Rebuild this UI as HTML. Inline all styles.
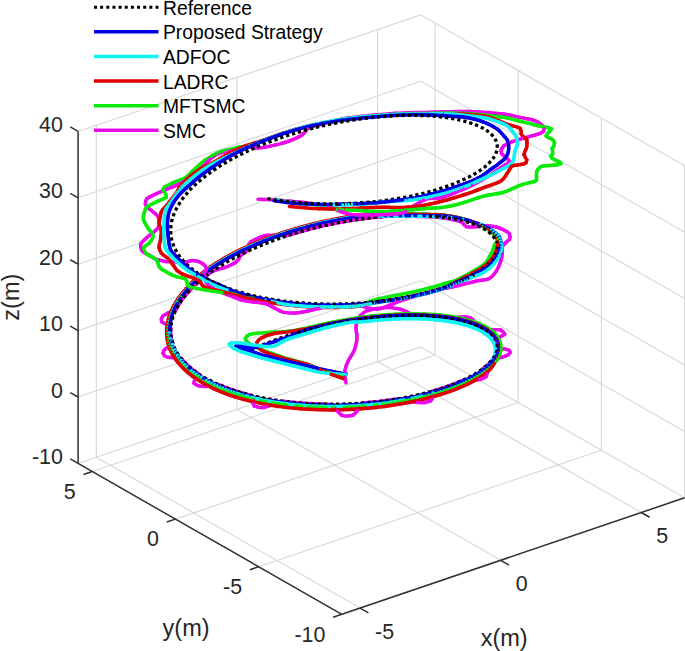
<!DOCTYPE html>
<html><head><meta charset="utf-8"><style>
html,body{margin:0;padding:0;background:#fff;}
svg{display:block;font-family:"Liberation Sans",sans-serif;}
</style></head><body>
<svg width="685" height="651" viewBox="0 0 685 651">
<rect width="685" height="651" fill="#fff"/>
<g shape-rendering="auto"><line x1="360.10" y1="608.10" x2="96.36" y2="457.21" stroke="#d8d8d8" stroke-width="1.15"/><line x1="96.36" y1="457.21" x2="96.36" y2="125.21" stroke="#d8d8d8" stroke-width="1.15"/><line x1="500.70" y1="560.30" x2="236.96" y2="409.41" stroke="#d8d8d8" stroke-width="1.15"/><line x1="236.96" y1="409.41" x2="236.96" y2="77.41" stroke="#d8d8d8" stroke-width="1.15"/><line x1="641.30" y1="512.50" x2="377.56" y2="361.61" stroke="#d8d8d8" stroke-width="1.15"/><line x1="377.56" y1="361.61" x2="377.56" y2="29.61" stroke="#d8d8d8" stroke-width="1.15"/><line x1="341.82" y1="614.31" x2="684.60" y2="497.78" stroke="#d8d8d8" stroke-width="1.15"/><line x1="684.60" y1="497.78" x2="684.60" y2="165.78" stroke="#d8d8d8" stroke-width="1.15"/><line x1="258.62" y1="566.71" x2="601.40" y2="450.18" stroke="#d8d8d8" stroke-width="1.15"/><line x1="601.40" y1="450.18" x2="601.40" y2="118.18" stroke="#d8d8d8" stroke-width="1.15"/><line x1="175.42" y1="519.11" x2="518.20" y2="402.58" stroke="#d8d8d8" stroke-width="1.15"/><line x1="518.20" y1="402.58" x2="518.20" y2="70.58" stroke="#d8d8d8" stroke-width="1.15"/><line x1="92.22" y1="471.51" x2="435.00" y2="354.98" stroke="#d8d8d8" stroke-width="1.15"/><line x1="435.00" y1="354.98" x2="435.00" y2="22.98" stroke="#d8d8d8" stroke-width="1.15"/><line x1="78.08" y1="463.42" x2="420.86" y2="346.89" stroke="#d8d8d8" stroke-width="1.15"/><line x1="684.60" y1="497.78" x2="420.86" y2="346.89" stroke="#d8d8d8" stroke-width="1.15"/><line x1="78.08" y1="397.02" x2="420.86" y2="280.49" stroke="#d8d8d8" stroke-width="1.15"/><line x1="684.60" y1="431.38" x2="420.86" y2="280.49" stroke="#d8d8d8" stroke-width="1.15"/><line x1="78.08" y1="330.62" x2="420.86" y2="214.09" stroke="#d8d8d8" stroke-width="1.15"/><line x1="684.60" y1="364.98" x2="420.86" y2="214.09" stroke="#d8d8d8" stroke-width="1.15"/><line x1="78.08" y1="264.22" x2="420.86" y2="147.69" stroke="#d8d8d8" stroke-width="1.15"/><line x1="684.60" y1="298.58" x2="420.86" y2="147.69" stroke="#d8d8d8" stroke-width="1.15"/><line x1="78.08" y1="197.82" x2="420.86" y2="81.29" stroke="#d8d8d8" stroke-width="1.15"/><line x1="684.60" y1="232.18" x2="420.86" y2="81.29" stroke="#d8d8d8" stroke-width="1.15"/><line x1="78.08" y1="131.42" x2="420.86" y2="14.89" stroke="#d8d8d8" stroke-width="1.15"/><line x1="684.60" y1="165.78" x2="420.86" y2="14.89" stroke="#d8d8d8" stroke-width="1.15"/></g>
<g><line x1="78.08" y1="463.42" x2="78.08" y2="131.42" stroke="#303030" stroke-width="1.5"/><line x1="341.82" y1="614.31" x2="78.08" y2="463.42" stroke="#303030" stroke-width="1.5"/><line x1="341.82" y1="614.31" x2="684.60" y2="497.78" stroke="#303030" stroke-width="1.5"/><line x1="78.08" y1="463.42" x2="70.26" y2="458.95" stroke="#303030" stroke-width="1.5"/><line x1="78.08" y1="397.02" x2="70.26" y2="392.55" stroke="#303030" stroke-width="1.5"/><line x1="78.08" y1="330.62" x2="70.26" y2="326.15" stroke="#303030" stroke-width="1.5"/><line x1="78.08" y1="264.22" x2="70.26" y2="259.75" stroke="#303030" stroke-width="1.5"/><line x1="78.08" y1="197.82" x2="70.26" y2="193.35" stroke="#303030" stroke-width="1.5"/><line x1="78.08" y1="131.42" x2="70.26" y2="126.95" stroke="#303030" stroke-width="1.5"/><line x1="341.82" y1="614.31" x2="333.10" y2="617.28" stroke="#303030" stroke-width="1.5"/><line x1="258.62" y1="566.71" x2="249.90" y2="569.68" stroke="#303030" stroke-width="1.5"/><line x1="175.42" y1="519.11" x2="166.70" y2="522.08" stroke="#303030" stroke-width="1.5"/><line x1="92.22" y1="471.51" x2="83.50" y2="474.48" stroke="#303030" stroke-width="1.5"/><line x1="360.10" y1="608.10" x2="368.42" y2="612.86" stroke="#303030" stroke-width="1.5"/><line x1="500.70" y1="560.30" x2="509.02" y2="565.06" stroke="#303030" stroke-width="1.5"/><line x1="641.30" y1="512.50" x2="649.62" y2="517.26" stroke="#303030" stroke-width="1.5"/></g>
<g fill="#262626"><text x="62.80" y="464.08" font-size="21.4" text-anchor="end">-10</text><text x="62.80" y="397.68" font-size="21.4" text-anchor="end">0</text><text x="62.80" y="331.28" font-size="21.4" text-anchor="end">10</text><text x="62.80" y="264.88" font-size="21.4" text-anchor="end">20</text><text x="62.80" y="198.48" font-size="21.4" text-anchor="end">30</text><text x="62.80" y="132.08" font-size="21.4" text-anchor="end">40</text><text x="325.32" y="641.68" font-size="21.4" text-anchor="end">-10</text><text x="242.12" y="594.08" font-size="21.4" text-anchor="end">-5</text><text x="158.92" y="546.48" font-size="21.4" text-anchor="end">0</text><text x="75.72" y="498.88" font-size="21.4" text-anchor="end">5</text><text x="375.10" y="638.96" font-size="21.4" text-anchor="start">-5</text><text x="515.70" y="591.16" font-size="21.4" text-anchor="start">0</text><text x="656.30" y="543.36" font-size="21.4" text-anchor="start">5</text><text x="480.70" y="645.80" font-size="23.5" text-anchor="start">x(m)</text><text x="162.60" y="636.30" font-size="23.5" text-anchor="start">y(m)</text><text transform="translate(18.6,297.2) rotate(-90)" font-size="23.5" text-anchor="middle">z(m)</text></g>
<g><path d="M371.2 309.6L374.1 308.8L377.1 308.5M368.3 310.5L371.2 309.6M377.1 308.5L380.1 308.2L383.1 307.8L386.0 307.5M365.5 311.4L368.3 310.5M386.0 307.5L389.0 307.4M363.1 313.1L365.5 311.4M389.0 307.4L392.0 307.8M360.8 315.0L363.1 313.1M392.0 307.8L395.0 308.3L397.9 308.7M358.8 317.2L360.8 315.0M397.9 308.7L400.8 309.3L403.6 310.4M357.5 319.9L358.8 317.2M403.6 310.4L406.4 311.5M356.4 322.7L357.5 319.9M406.4 311.5L409.0 313.1" stroke="#eb0aeb" stroke-width="3.5" stroke-linecap="round" fill="none"/><path d="M352.9 318.5L355.9 318.1L358.8 317.6L361.8 317.2L364.8 316.8L367.8 316.5L370.8 316.1L373.7 315.8L376.7 315.5M338.1 321.0L341.1 320.5L344.0 319.9L347.0 319.4L349.9 319.0L352.9 318.5M376.7 315.5L379.7 315.3L382.7 315.0L385.7 314.8L388.7 314.6M332.2 322.2L335.2 321.6L338.1 321.0M388.7 314.6L391.7 314.4L394.7 314.2" stroke="#0aeb0a" stroke-width="3.5" stroke-linecap="round" fill="none"/><path d="M356.2 325.7L356.4 322.7" stroke="#eb0aeb" stroke-width="3.5" stroke-linecap="round" fill="none"/><path d="M326.3 323.4L329.3 322.8L332.2 322.2M394.7 314.2L397.7 314.1L400.7 314.0" stroke="#0aeb0a" stroke-width="3.5" stroke-linecap="round" fill="none"/><path d="M343.2 321.2L346.2 320.6L349.1 320.1L352.1 319.7L355.0 319.2L358.0 318.8L361.0 318.4L364.0 318.0L366.9 317.6L369.9 317.3L372.9 316.9L375.9 316.6L378.9 316.4L381.9 316.1" stroke="#e00000" stroke-width="3.5" stroke-linecap="round" fill="none"/><path d="M409.0 313.1L411.3 314.9" stroke="#eb0aeb" stroke-width="3.5" stroke-linecap="round" fill="none"/><path d="M320.5 324.7L323.4 324.0L326.3 323.4M400.7 314.0L403.7 313.9L406.7 313.8" stroke="#0aeb0a" stroke-width="3.5" stroke-linecap="round" fill="none"/><path d="M334.3 322.8L337.3 322.3L340.2 321.7L343.2 321.2M381.9 316.1L384.9 315.9L387.9 315.6L390.9 315.4" stroke="#e00000" stroke-width="3.5" stroke-linecap="round" fill="none"/><path d="M314.6 326.1L317.6 325.4L320.5 324.7M406.7 313.8L409.7 313.8" stroke="#0aeb0a" stroke-width="3.5" stroke-linecap="round" fill="none"/><path d="M328.5 324.0L331.4 323.4L334.3 322.8M390.9 315.4L393.9 315.3L396.9 315.1" stroke="#e00000" stroke-width="3.5" stroke-linecap="round" fill="none"/><path d="M346.1 321.0L349.1 320.5L352.1 320.1L355.0 319.6L358.0 319.2L361.0 318.8L363.9 318.4L366.9 318.0L369.9 317.7L372.9 317.3L375.9 317.0L378.8 316.7" stroke="#0000e6" stroke-width="3.5" stroke-linecap="round" fill="none"/><path d="M308.8 327.4L311.7 326.8L314.6 326.1M409.7 313.8L412.7 313.8" stroke="#0aeb0a" stroke-width="3.5" stroke-linecap="round" fill="none"/><path d="M322.6 325.3L325.5 324.7L328.5 324.0M396.9 315.1L399.9 315.0L402.9 314.9" stroke="#e00000" stroke-width="3.5" stroke-linecap="round" fill="none"/><path d="M337.3 322.6L340.2 322.1L343.2 321.5L346.1 321.0M378.8 316.7L381.8 316.5L384.8 316.2L387.8 316.0" stroke="#0000e6" stroke-width="3.5" stroke-linecap="round" fill="none"/><path d="M411.3 314.9L414.2 315.4" stroke="#eb0aeb" stroke-width="3.5" stroke-linecap="round" fill="none"/><path d="M302.9 328.7L305.9 328.1L308.8 327.4M412.7 313.8L415.7 313.8L418.7 313.9" stroke="#0aeb0a" stroke-width="3.5" stroke-linecap="round" fill="none"/><path d="M316.7 326.6L319.7 325.9L322.6 325.3M402.9 314.9L405.9 314.9L408.9 314.8" stroke="#e00000" stroke-width="3.5" stroke-linecap="round" fill="none"/><path d="M328.5 324.4L331.4 323.8L334.3 323.2L337.3 322.6M387.8 316.0L390.8 315.8L393.8 315.7L396.8 315.5" stroke="#0000e6" stroke-width="3.5" stroke-linecap="round" fill="none"/><path d="M351.7 320.5L355.0 320.0M357.8 319.6L361.1 319.1M364.0 318.7L367.2 318.3M370.1 318.0L373.4 317.6" stroke="#000" stroke-width="3.3" fill="none"/><path d="M355.9 328.6L356.2 325.7" stroke="#eb0aeb" stroke-width="3.5" stroke-linecap="round" fill="none"/><path d="M297.0 329.9L300.0 329.3L302.9 328.7M418.7 313.9L421.7 313.9" stroke="#0aeb0a" stroke-width="3.5" stroke-linecap="round" fill="none"/><path d="M310.9 327.9L313.8 327.3L316.7 326.6M408.9 314.8L411.9 314.8" stroke="#e00000" stroke-width="3.5" stroke-linecap="round" fill="none"/><path d="M347.4 322.8L350.4 322.2L353.4 322.1" stroke="#10f4f4" stroke-width="3.5" stroke-linecap="round" fill="none"/><path d="M322.6 325.7L325.5 325.1L328.5 324.4M396.8 315.5L399.8 315.4" stroke="#0000e6" stroke-width="3.5" stroke-linecap="round" fill="none"/><path d="M339.5 322.6L342.7 322.0M345.6 321.5L348.8 321.0M376.3 317.4L379.6 317.1M382.5 316.8L385.8 316.6" stroke="#000" stroke-width="3.3" fill="none"/><path d="M414.2 315.4L417.2 315.5" stroke="#eb0aeb" stroke-width="3.5" stroke-linecap="round" fill="none"/><path d="M288.2 331.3L291.1 331.0L294.1 330.5L297.0 329.9M421.7 313.9L424.7 314.1" stroke="#0aeb0a" stroke-width="3.5" stroke-linecap="round" fill="none"/><path d="M302.0 329.6L305.0 329.1L307.9 328.5L310.9 327.9M411.9 314.8L414.9 314.8" stroke="#e00000" stroke-width="3.5" stroke-linecap="round" fill="none"/><path d="M344.5 323.4L347.4 322.8M353.4 322.1L356.4 322.1L359.4 322.0" stroke="#10f4f4" stroke-width="3.5" stroke-linecap="round" fill="none"/><path d="M316.8 327.1L319.7 326.4L322.6 325.7M399.8 315.4L402.8 315.3L405.8 315.3" stroke="#0000e6" stroke-width="3.5" stroke-linecap="round" fill="none"/><path d="M333.4 323.8L336.6 323.2M388.7 316.4L391.9 316.2" stroke="#000" stroke-width="3.3" fill="none"/><path d="M417.2 315.5L420.2 315.6" stroke="#eb0aeb" stroke-width="3.5" stroke-linecap="round" fill="none"/><path d="M264.2 332.7L267.2 332.5L270.2 332.3L273.2 332.1L276.2 332.0L279.2 331.9L282.2 331.7L285.2 331.6L288.2 331.3M424.7 314.1L427.7 314.2" stroke="#0aeb0a" stroke-width="3.5" stroke-linecap="round" fill="none"/><path d="M290.2 331.5L293.1 331.1L296.1 330.6L299.1 330.1L302.0 329.6M414.9 314.8L417.9 314.9" stroke="#e00000" stroke-width="3.5" stroke-linecap="round" fill="none"/><path d="M341.6 324.1L344.5 323.4M359.4 322.0L362.4 321.8L365.4 321.6" stroke="#10f4f4" stroke-width="3.5" stroke-linecap="round" fill="none"/><path d="M313.8 327.8L316.8 327.1M405.8 315.3L408.8 315.2" stroke="#0000e6" stroke-width="3.5" stroke-linecap="round" fill="none"/><path d="M327.3 325.1L330.6 324.4M394.8 316.0L398.1 315.9" stroke="#000" stroke-width="3.3" fill="none"/><path d="M420.2 315.6L423.2 315.8" stroke="#eb0aeb" stroke-width="3.5" stroke-linecap="round" fill="none"/><path d="M252.3 333.8L255.2 333.4L258.2 333.1L261.2 332.9L264.2 332.7M427.7 314.2L430.7 314.4" stroke="#0aeb0a" stroke-width="3.5" stroke-linecap="round" fill="none"/><path d="M281.2 332.6L284.2 332.2L287.2 331.9L290.2 331.5M417.9 314.9L420.9 315.0" stroke="#e00000" stroke-width="3.5" stroke-linecap="round" fill="none"/><path d="M338.6 324.7L341.6 324.1M365.4 321.6L368.3 321.3L371.3 321.0L374.3 320.6L377.3 320.3L380.3 320.1L383.3 319.8" stroke="#10f4f4" stroke-width="3.5" stroke-linecap="round" fill="none"/><path d="M310.9 328.6L313.8 327.8M408.8 315.2L411.8 315.2L414.8 315.2" stroke="#0000e6" stroke-width="3.5" stroke-linecap="round" fill="none"/><path d="M321.3 326.4L324.5 325.7M401.0 315.8L404.3 315.7" stroke="#000" stroke-width="3.3" fill="none"/><path d="M356.3 331.6L355.9 328.6M423.2 315.8L426.2 316.0" stroke="#eb0aeb" stroke-width="3.5" stroke-linecap="round" fill="none"/><path d="M249.4 334.7L252.3 333.8" stroke="#0aeb0a" stroke-width="3.5" stroke-linecap="round" fill="none"/><path d="M275.3 333.3L278.2 332.9L281.2 332.6M420.9 315.0L423.9 315.1" stroke="#e00000" stroke-width="3.5" stroke-linecap="round" fill="none"/><path d="M335.7 325.3L338.6 324.7M383.3 319.8L386.3 319.6L389.3 319.4" stroke="#10f4f4" stroke-width="3.5" stroke-linecap="round" fill="none"/><path d="M308.1 329.5L310.9 328.6M414.8 315.2L417.8 315.3" stroke="#0000e6" stroke-width="3.5" stroke-linecap="round" fill="none"/><path d="M315.2 327.9L318.5 327.1" stroke="#000" stroke-width="3.3" fill="none"/><path d="M426.2 316.0L429.2 316.1" stroke="#eb0aeb" stroke-width="3.5" stroke-linecap="round" fill="none"/><path d="M430.7 314.4L433.7 314.6" stroke="#0aeb0a" stroke-width="3.5" stroke-linecap="round" fill="none"/><path d="M272.4 334.0L275.3 333.3M423.9 315.1L426.9 315.2" stroke="#e00000" stroke-width="3.5" stroke-linecap="round" fill="none"/><path d="M329.8 326.7L332.8 326.0L335.7 325.3M389.3 319.4L392.3 319.2L395.3 319.1L398.3 318.9" stroke="#10f4f4" stroke-width="3.5" stroke-linecap="round" fill="none"/><path d="M305.2 330.4L308.1 329.5M417.8 315.3L420.8 315.4" stroke="#0000e6" stroke-width="3.5" stroke-linecap="round" fill="none"/><path d="M309.2 329.4L312.4 328.6M407.2 315.6L410.5 315.6" stroke="#000" stroke-width="3.3" fill="none"/><path d="M429.2 316.1L432.2 316.4" stroke="#eb0aeb" stroke-width="3.5" stroke-linecap="round" fill="none"/><path d="M246.9 336.1L249.4 334.7M433.7 314.6L436.7 314.8" stroke="#0aeb0a" stroke-width="3.5" stroke-linecap="round" fill="none"/><path d="M269.5 334.8L272.4 334.0M426.9 315.2L429.9 315.4" stroke="#e00000" stroke-width="3.5" stroke-linecap="round" fill="none"/><path d="M326.9 327.5L329.8 326.7M398.3 318.9L401.3 318.8" stroke="#10f4f4" stroke-width="3.5" stroke-linecap="round" fill="none"/><path d="M302.4 331.4L305.2 330.4M420.8 315.4L423.8 315.5" stroke="#0000e6" stroke-width="3.5" stroke-linecap="round" fill="none"/><path d="M413.4 315.6L416.7 315.7" stroke="#000" stroke-width="3.3" fill="none"/><path d="M432.2 316.4L435.2 316.6" stroke="#eb0aeb" stroke-width="3.5" stroke-linecap="round" fill="none"/><path d="M436.7 314.8L439.6 315.1" stroke="#0aeb0a" stroke-width="3.5" stroke-linecap="round" fill="none"/><path d="M266.6 335.6L269.5 334.8M429.9 315.4L432.9 315.6" stroke="#e00000" stroke-width="3.5" stroke-linecap="round" fill="none"/><path d="M401.3 318.8L404.3 318.8L407.3 318.7" stroke="#10f4f4" stroke-width="3.5" stroke-linecap="round" fill="none"/><path d="M299.6 332.4L302.4 331.4M423.8 315.5L426.8 315.6" stroke="#0000e6" stroke-width="3.5" stroke-linecap="round" fill="none"/><path d="M303.3 331.0L306.4 330.2" stroke="#000" stroke-width="3.3" fill="none"/><path d="M356.9 334.5L356.3 331.6" stroke="#eb0aeb" stroke-width="3.5" stroke-linecap="round" fill="none"/><path d="M432.9 315.6L435.9 315.8" stroke="#e00000" stroke-width="3.5" stroke-linecap="round" fill="none"/><path d="M324.0 328.3L326.9 327.5M407.3 318.7L410.3 318.7" stroke="#10f4f4" stroke-width="3.5" stroke-linecap="round" fill="none"/><path d="M296.8 333.5L299.6 332.4M426.8 315.6L429.8 315.8" stroke="#0000e6" stroke-width="3.5" stroke-linecap="round" fill="none"/><path d="M419.6 315.7L422.9 315.8" stroke="#000" stroke-width="3.3" fill="none"/><path d="M435.2 316.6L438.2 316.9" stroke="#eb0aeb" stroke-width="3.5" stroke-linecap="round" fill="none"/><path d="M439.6 315.1L442.6 315.4" stroke="#0aeb0a" stroke-width="3.5" stroke-linecap="round" fill="none"/><path d="M263.8 336.9L266.6 335.6" stroke="#e00000" stroke-width="3.5" stroke-linecap="round" fill="none"/><path d="M321.1 329.1L324.0 328.3M410.3 318.7L413.3 318.7" stroke="#10f4f4" stroke-width="3.5" stroke-linecap="round" fill="none"/><path d="M294.0 334.6L296.8 333.5" stroke="#0000e6" stroke-width="3.5" stroke-linecap="round" fill="none"/><path d="M297.3 332.8L300.5 331.8" stroke="#000" stroke-width="3.3" fill="none"/><path d="M438.2 316.9L441.1 317.2" stroke="#eb0aeb" stroke-width="3.5" stroke-linecap="round" fill="none"/><path d="M245.3 338.5L246.9 336.1M442.6 315.4L445.6 315.8" stroke="#0aeb0a" stroke-width="3.5" stroke-linecap="round" fill="none"/><path d="M435.9 315.8L438.9 316.1" stroke="#e00000" stroke-width="3.5" stroke-linecap="round" fill="none"/><path d="M318.3 329.9L321.1 329.1M413.3 318.7L416.3 318.8" stroke="#10f4f4" stroke-width="3.5" stroke-linecap="round" fill="none"/><path d="M429.8 315.8L432.8 316.0" stroke="#0000e6" stroke-width="3.5" stroke-linecap="round" fill="none"/><path d="M291.4 334.6L294.5 333.6" stroke="#000" stroke-width="3.3" fill="none"/><path d="M261.1 338.1L263.8 336.9M438.9 316.1L441.8 316.4" stroke="#e00000" stroke-width="3.5" stroke-linecap="round" fill="none"/><path d="M315.4 330.7L318.3 329.9M416.3 318.8L419.3 318.8" stroke="#10f4f4" stroke-width="3.5" stroke-linecap="round" fill="none"/><path d="M291.2 335.8L294.0 334.6M432.8 316.0L435.8 316.2" stroke="#0000e6" stroke-width="3.5" stroke-linecap="round" fill="none"/><path d="M425.8 316.0L429.1 316.1" stroke="#000" stroke-width="3.3" fill="none"/><path d="M441.1 317.2L444.1 317.6" stroke="#eb0aeb" stroke-width="3.5" stroke-linecap="round" fill="none"/><path d="M445.6 315.8L448.6 316.2" stroke="#0aeb0a" stroke-width="3.5" stroke-linecap="round" fill="none"/><path d="M312.5 331.6L315.4 330.7M419.3 318.8L422.3 318.9" stroke="#10f4f4" stroke-width="3.5" stroke-linecap="round" fill="none"/><path d="M288.5 337.0L291.2 335.8M435.8 316.2L438.8 316.5" stroke="#0000e6" stroke-width="3.5" stroke-linecap="round" fill="none"/><path d="M285.5 336.5L288.6 335.4" stroke="#000" stroke-width="3.3" fill="none"/><path d="M356.9 337.5L356.9 334.5M444.1 317.6L447.1 317.9" stroke="#eb0aeb" stroke-width="3.5" stroke-linecap="round" fill="none"/><path d="M448.6 316.2L451.6 316.6" stroke="#0aeb0a" stroke-width="3.5" stroke-linecap="round" fill="none"/><path d="M441.8 316.4L444.8 316.8" stroke="#e00000" stroke-width="3.5" stroke-linecap="round" fill="none"/><path d="M422.3 318.9L425.3 319.1" stroke="#10f4f4" stroke-width="3.5" stroke-linecap="round" fill="none"/><path d="M432.0 316.3L435.3 316.6" stroke="#000" stroke-width="3.3" fill="none"/><path d="M246.6 341.2L245.3 338.5" stroke="#0aeb0a" stroke-width="3.5" stroke-linecap="round" fill="none"/><path d="M258.8 339.9L261.1 338.1M444.8 316.8L447.8 317.2" stroke="#e00000" stroke-width="3.5" stroke-linecap="round" fill="none"/><path d="M309.6 332.5L312.5 331.6M425.3 319.1L428.3 319.2" stroke="#10f4f4" stroke-width="3.5" stroke-linecap="round" fill="none"/><path d="M285.7 338.0L288.5 337.0M438.8 316.5L441.7 316.8" stroke="#0000e6" stroke-width="3.5" stroke-linecap="round" fill="none"/><path d="M279.6 338.4L282.7 337.4" stroke="#000" stroke-width="3.3" fill="none"/><path d="M447.1 317.9L450.1 317.9L453.1 317.8L456.1 317.4L459.0 317.0L462.0 316.9" stroke="#eb0aeb" stroke-width="3.5" stroke-linecap="round" fill="none"/><path d="M451.6 316.6L454.5 317.1" stroke="#0aeb0a" stroke-width="3.5" stroke-linecap="round" fill="none"/><path d="M306.8 333.4L309.6 332.5M428.3 319.2L431.3 319.5" stroke="#10f4f4" stroke-width="3.5" stroke-linecap="round" fill="none"/><path d="M282.8 338.7L285.7 338.0M441.7 316.8L444.7 317.2" stroke="#0000e6" stroke-width="3.5" stroke-linecap="round" fill="none"/><path d="M462.0 316.9L465.0 316.9" stroke="#eb0aeb" stroke-width="3.5" stroke-linecap="round" fill="none"/><path d="M447.8 317.2L450.8 317.6" stroke="#e00000" stroke-width="3.5" stroke-linecap="round" fill="none"/><path d="M431.3 319.5L434.3 319.7" stroke="#10f4f4" stroke-width="3.5" stroke-linecap="round" fill="none"/><path d="M279.9 339.6L282.8 338.7" stroke="#0000e6" stroke-width="3.5" stroke-linecap="round" fill="none"/><path d="M438.2 316.9L441.5 317.2" stroke="#000" stroke-width="3.3" fill="none"/><path d="M356.8 340.5L356.9 337.5M465.0 316.9L468.0 317.3" stroke="#eb0aeb" stroke-width="3.5" stroke-linecap="round" fill="none"/><path d="M454.5 317.1L457.5 317.6" stroke="#0aeb0a" stroke-width="3.5" stroke-linecap="round" fill="none"/><path d="M257.0 342.3L258.8 339.9" stroke="#e00000" stroke-width="3.5" stroke-linecap="round" fill="none"/><path d="M303.9 334.3L306.8 333.4" stroke="#10f4f4" stroke-width="3.5" stroke-linecap="round" fill="none"/><path d="M444.7 317.2L447.7 317.6" stroke="#0000e6" stroke-width="3.5" stroke-linecap="round" fill="none"/><path d="M273.8 340.5L276.9 339.4" stroke="#000" stroke-width="3.3" fill="none"/><path d="M248.8 343.1L246.6 341.2" stroke="#0aeb0a" stroke-width="3.5" stroke-linecap="round" fill="none"/><path d="M450.8 317.6L453.7 318.1" stroke="#e00000" stroke-width="3.5" stroke-linecap="round" fill="none"/><path d="M301.0 335.1L303.9 334.3M434.3 319.7L437.3 320.0" stroke="#10f4f4" stroke-width="3.5" stroke-linecap="round" fill="none"/><path d="M277.1 340.6L279.9 339.6" stroke="#0000e6" stroke-width="3.5" stroke-linecap="round" fill="none"/><path d="M468.0 317.3L470.9 318.1" stroke="#eb0aeb" stroke-width="3.5" stroke-linecap="round" fill="none"/><path d="M457.5 317.6L460.4 318.2" stroke="#0aeb0a" stroke-width="3.5" stroke-linecap="round" fill="none"/><path d="M298.1 336.0L301.0 335.1M437.3 320.0L440.3 320.3" stroke="#10f4f4" stroke-width="3.5" stroke-linecap="round" fill="none"/><path d="M274.3 341.6L277.1 340.6M447.7 317.6L450.7 318.1" stroke="#0000e6" stroke-width="3.5" stroke-linecap="round" fill="none"/><path d="M268.0 342.7L271.0 341.5M444.4 317.6L447.6 318.1" stroke="#000" stroke-width="3.3" fill="none"/><path d="M453.7 318.1L456.7 318.7" stroke="#e00000" stroke-width="3.5" stroke-linecap="round" fill="none"/><path d="M295.2 336.8L298.1 336.0" stroke="#10f4f4" stroke-width="3.5" stroke-linecap="round" fill="none"/><path d="M450.7 318.1L453.6 318.6" stroke="#0000e6" stroke-width="3.5" stroke-linecap="round" fill="none"/><path d="M251.3 344.8L248.8 343.1M460.4 318.2L463.3 318.9" stroke="#0aeb0a" stroke-width="3.5" stroke-linecap="round" fill="none"/><path d="M292.4 337.6L295.2 336.8M440.3 320.3L443.2 320.7" stroke="#10f4f4" stroke-width="3.5" stroke-linecap="round" fill="none"/><path d="M271.4 342.7L274.3 341.6" stroke="#0000e6" stroke-width="3.5" stroke-linecap="round" fill="none"/><path d="M356.2 343.4L356.8 340.5" stroke="#eb0aeb" stroke-width="3.5" stroke-linecap="round" fill="none"/><path d="M257.1 345.2L257.0 342.3M456.7 318.7L459.6 319.3" stroke="#e00000" stroke-width="3.5" stroke-linecap="round" fill="none"/><path d="M443.2 320.7L446.2 321.1" stroke="#10f4f4" stroke-width="3.5" stroke-linecap="round" fill="none"/><path d="M453.6 318.6L456.6 319.1" stroke="#0000e6" stroke-width="3.5" stroke-linecap="round" fill="none"/><path d="M262.2 345.0L265.3 343.8" stroke="#000" stroke-width="3.3" fill="none"/><path d="M470.9 318.1L473.1 319.9" stroke="#eb0aeb" stroke-width="3.5" stroke-linecap="round" fill="none"/><path d="M289.5 338.5L292.4 337.6" stroke="#10f4f4" stroke-width="3.5" stroke-linecap="round" fill="none"/><path d="M268.6 343.7L271.4 342.7" stroke="#0000e6" stroke-width="3.5" stroke-linecap="round" fill="none"/><path d="M450.5 318.5L453.7 319.1" stroke="#000" stroke-width="3.3" fill="none"/><path d="M253.9 346.2L251.3 344.8M463.3 318.9L466.2 319.6" stroke="#0aeb0a" stroke-width="3.5" stroke-linecap="round" fill="none"/><path d="M459.6 319.3L462.5 320.0" stroke="#e00000" stroke-width="3.5" stroke-linecap="round" fill="none"/><path d="M286.7 339.6L289.5 338.5M446.2 321.1L449.2 321.5" stroke="#10f4f4" stroke-width="3.5" stroke-linecap="round" fill="none"/><path d="M456.6 319.1L459.5 319.7M265.8 344.7L268.6 343.7" stroke="#0000e6" stroke-width="3.5" stroke-linecap="round" fill="none"/><path d="M256.5 347.4L259.5 346.1" stroke="#000" stroke-width="3.3" fill="none"/><path d="M355.5 346.3L356.2 343.4" stroke="#eb0aeb" stroke-width="3.5" stroke-linecap="round" fill="none"/><path d="M256.7 347.4L253.9 346.2M466.2 319.6L469.1 320.4" stroke="#0aeb0a" stroke-width="3.5" stroke-linecap="round" fill="none"/><path d="M258.5 347.7L257.1 345.2M462.5 320.0L465.5 320.7" stroke="#e00000" stroke-width="3.5" stroke-linecap="round" fill="none"/><path d="M231.6 342.9L234.6 342.8L237.6 343.0M284.0 340.9L286.7 339.6M449.2 321.5L452.1 322.0" stroke="#10f4f4" stroke-width="3.5" stroke-linecap="round" fill="none"/><path d="M263.0 345.7L265.8 344.7" stroke="#0000e6" stroke-width="3.5" stroke-linecap="round" fill="none"/><path d="M229.1 344.2L231.6 342.9M237.6 343.0L240.6 343.2" stroke="#10f4f4" stroke-width="3.5" stroke-linecap="round" fill="none"/><path d="M235.8 346.6L236.3 346.3L239.3 346.4M459.5 319.7L462.4 320.4" stroke="#0000e6" stroke-width="3.5" stroke-linecap="round" fill="none"/><path d="M456.6 319.6L459.8 320.3" stroke="#000" stroke-width="3.3" fill="none"/><path d="M473.1 319.9L472.8 322.8" stroke="#eb0aeb" stroke-width="3.5" stroke-linecap="round" fill="none"/><path d="M259.4 348.6L256.7 347.4" stroke="#0aeb0a" stroke-width="3.5" stroke-linecap="round" fill="none"/><path d="M240.6 343.2L243.6 343.6M281.3 342.1L284.0 340.9M452.1 322.0L455.1 322.6" stroke="#10f4f4" stroke-width="3.5" stroke-linecap="round" fill="none"/><path d="M238.7 347.3L235.8 346.6M239.3 346.4L242.3 346.8L245.3 347.2M260.1 346.5L263.0 345.7" stroke="#0000e6" stroke-width="3.5" stroke-linecap="round" fill="none"/><path d="M250.8 349.9L253.8 348.6" stroke="#000" stroke-width="3.3" fill="none"/><path d="M469.1 320.4L472.0 321.2" stroke="#0aeb0a" stroke-width="3.5" stroke-linecap="round" fill="none"/><path d="M465.5 320.7L468.3 321.5" stroke="#e00000" stroke-width="3.5" stroke-linecap="round" fill="none"/><path d="M230.5 346.0L229.1 344.2M243.6 343.6L246.6 344.0" stroke="#10f4f4" stroke-width="3.5" stroke-linecap="round" fill="none"/><path d="M241.6 348.2L238.7 347.3M245.3 347.2L248.3 347.5M257.2 347.3L260.1 346.5M462.4 320.4L465.3 321.1" stroke="#0000e6" stroke-width="3.5" stroke-linecap="round" fill="none"/><path d="M262.2 349.8L259.4 348.6" stroke="#0aeb0a" stroke-width="3.5" stroke-linecap="round" fill="none"/><path d="M260.7 349.7L258.5 347.7" stroke="#e00000" stroke-width="3.5" stroke-linecap="round" fill="none"/><path d="M246.6 344.0L249.6 344.4M278.7 343.7L281.3 342.1M455.1 322.6L458.0 323.2" stroke="#10f4f4" stroke-width="3.5" stroke-linecap="round" fill="none"/><path d="M244.5 349.1L241.6 348.2M248.3 347.5L251.3 347.7L254.3 347.8L257.2 347.3" stroke="#0000e6" stroke-width="3.5" stroke-linecap="round" fill="none"/><path d="M354.7 349.2L355.5 346.3" stroke="#eb0aeb" stroke-width="3.5" stroke-linecap="round" fill="none"/><path d="M472.0 321.2L474.9 322.2" stroke="#0aeb0a" stroke-width="3.5" stroke-linecap="round" fill="none"/><path d="M249.6 344.4L252.5 344.8" stroke="#10f4f4" stroke-width="3.5" stroke-linecap="round" fill="none"/><path d="M264.9 351.1L262.2 349.8" stroke="#0aeb0a" stroke-width="3.5" stroke-linecap="round" fill="none"/><path d="M468.3 321.5L471.2 322.4" stroke="#e00000" stroke-width="3.5" stroke-linecap="round" fill="none"/><path d="M232.9 347.8L230.5 346.0M252.5 344.8L255.5 345.2" stroke="#10f4f4" stroke-width="3.5" stroke-linecap="round" fill="none"/><path d="M247.3 350.0L244.5 349.1M465.3 321.1L468.2 322.0" stroke="#0000e6" stroke-width="3.5" stroke-linecap="round" fill="none"/><path d="M462.6 321.0L465.8 321.8" stroke="#000" stroke-width="3.3" fill="none"/><path d="M263.3 351.1L260.7 349.7" stroke="#e00000" stroke-width="3.5" stroke-linecap="round" fill="none"/><path d="M255.5 345.2L258.5 345.6M276.2 345.3L278.7 343.7M458.0 323.2L461.0 323.9" stroke="#10f4f4" stroke-width="3.5" stroke-linecap="round" fill="none"/><path d="M250.2 350.9L247.3 350.0" stroke="#0000e6" stroke-width="3.5" stroke-linecap="round" fill="none"/><path d="M472.8 322.8L474.8 324.7" stroke="#eb0aeb" stroke-width="3.5" stroke-linecap="round" fill="none"/><path d="M267.7 352.1L264.9 351.1M474.9 322.2L477.7 323.2" stroke="#0aeb0a" stroke-width="3.5" stroke-linecap="round" fill="none"/><path d="M471.2 322.4L474.1 323.4" stroke="#e00000" stroke-width="3.5" stroke-linecap="round" fill="none"/><path d="M258.5 345.6L261.4 346.0" stroke="#10f4f4" stroke-width="3.5" stroke-linecap="round" fill="none"/><path d="M468.2 322.0L471.1 322.8" stroke="#0000e6" stroke-width="3.5" stroke-linecap="round" fill="none"/><path d="M353.4 352.0L354.7 349.2" stroke="#eb0aeb" stroke-width="3.5" stroke-linecap="round" fill="none"/><path d="M270.6 353.0L267.7 352.1" stroke="#0aeb0a" stroke-width="3.5" stroke-linecap="round" fill="none"/><path d="M266.0 352.3L263.3 351.1" stroke="#e00000" stroke-width="3.5" stroke-linecap="round" fill="none"/><path d="M235.6 349.1L232.9 347.8M261.4 346.0L264.4 346.4M273.4 346.3L276.2 345.3M461.0 323.9L463.9 324.7" stroke="#10f4f4" stroke-width="3.5" stroke-linecap="round" fill="none"/><path d="M253.0 351.9L250.2 350.9" stroke="#0000e6" stroke-width="3.5" stroke-linecap="round" fill="none"/><path d="M264.4 346.4L267.4 346.6L270.4 346.6L273.4 346.3" stroke="#10f4f4" stroke-width="3.5" stroke-linecap="round" fill="none"/><path d="M255.9 352.9L253.0 351.9" stroke="#0000e6" stroke-width="3.5" stroke-linecap="round" fill="none"/><path d="M273.4 354.0L270.6 353.0" stroke="#0aeb0a" stroke-width="3.5" stroke-linecap="round" fill="none"/><path d="M268.8 353.6L266.0 352.3" stroke="#e00000" stroke-width="3.5" stroke-linecap="round" fill="none"/><path d="M238.3 350.5L235.6 349.1" stroke="#10f4f4" stroke-width="3.5" stroke-linecap="round" fill="none"/><path d="M471.1 322.8L473.9 323.8" stroke="#0000e6" stroke-width="3.5" stroke-linecap="round" fill="none"/><path d="M276.3 355.0L273.4 354.0M477.7 323.2L480.5 324.3" stroke="#0aeb0a" stroke-width="3.5" stroke-linecap="round" fill="none"/><path d="M474.1 323.4L476.9 324.4" stroke="#e00000" stroke-width="3.5" stroke-linecap="round" fill="none"/><path d="M463.9 324.7L466.8 325.5" stroke="#10f4f4" stroke-width="3.5" stroke-linecap="round" fill="none"/><path d="M258.7 353.8L255.9 352.9" stroke="#0000e6" stroke-width="3.5" stroke-linecap="round" fill="none"/><path d="M468.6 322.6L471.7 323.6" stroke="#000" stroke-width="3.3" fill="none"/><path d="M352.1 354.6L353.4 352.0M474.8 324.7L477.6 325.9" stroke="#eb0aeb" stroke-width="3.5" stroke-linecap="round" fill="none"/><path d="M271.6 354.5L268.8 353.6" stroke="#e00000" stroke-width="3.5" stroke-linecap="round" fill="none"/><path d="M241.0 351.7L238.3 350.5" stroke="#10f4f4" stroke-width="3.5" stroke-linecap="round" fill="none"/><path d="M279.1 355.9L276.3 355.0" stroke="#0aeb0a" stroke-width="3.5" stroke-linecap="round" fill="none"/><path d="M274.5 355.4L271.6 354.5" stroke="#e00000" stroke-width="3.5" stroke-linecap="round" fill="none"/><path d="M466.8 325.5L469.6 326.4" stroke="#10f4f4" stroke-width="3.5" stroke-linecap="round" fill="none"/><path d="M261.5 354.8L258.7 353.8M473.9 323.8L476.7 324.9" stroke="#0000e6" stroke-width="3.5" stroke-linecap="round" fill="none"/><path d="M281.9 356.9L279.1 355.9M480.5 324.3L483.2 325.5" stroke="#0aeb0a" stroke-width="3.5" stroke-linecap="round" fill="none"/><path d="M476.9 324.4L479.6 325.6" stroke="#e00000" stroke-width="3.5" stroke-linecap="round" fill="none"/><path d="M243.9 352.6L241.0 351.7" stroke="#10f4f4" stroke-width="3.5" stroke-linecap="round" fill="none"/><path d="M264.4 355.7L261.5 354.8" stroke="#0000e6" stroke-width="3.5" stroke-linecap="round" fill="none"/><path d="M350.4 357.1L352.1 354.6M477.6 325.9L480.3 327.1" stroke="#eb0aeb" stroke-width="3.5" stroke-linecap="round" fill="none"/><path d="M277.4 356.3L274.5 355.4" stroke="#e00000" stroke-width="3.5" stroke-linecap="round" fill="none"/><path d="M246.7 353.4L243.9 352.6" stroke="#10f4f4" stroke-width="3.5" stroke-linecap="round" fill="none"/><path d="M267.3 356.4L264.4 355.7" stroke="#0000e6" stroke-width="3.5" stroke-linecap="round" fill="none"/><path d="M284.8 357.9L281.9 356.9" stroke="#0aeb0a" stroke-width="3.5" stroke-linecap="round" fill="none"/><path d="M280.2 357.2L277.4 356.3" stroke="#e00000" stroke-width="3.5" stroke-linecap="round" fill="none"/><path d="M249.6 354.3L246.7 353.4M469.6 326.4L472.4 327.4" stroke="#10f4f4" stroke-width="3.5" stroke-linecap="round" fill="none"/><path d="M287.6 358.8L284.8 357.9" stroke="#0aeb0a" stroke-width="3.5" stroke-linecap="round" fill="none"/><path d="M479.6 325.6L482.3 326.9" stroke="#e00000" stroke-width="3.5" stroke-linecap="round" fill="none"/><path d="M252.5 355.1L249.6 354.3" stroke="#10f4f4" stroke-width="3.5" stroke-linecap="round" fill="none"/><path d="M270.2 357.1L267.3 356.4M476.7 324.9L479.5 326.1" stroke="#0000e6" stroke-width="3.5" stroke-linecap="round" fill="none"/><path d="M474.5 324.6L477.5 325.9" stroke="#000" stroke-width="3.3" fill="none"/><path d="M483.2 325.5L485.9 326.9" stroke="#0aeb0a" stroke-width="3.5" stroke-linecap="round" fill="none"/><path d="M283.1 358.1L280.2 357.2" stroke="#e00000" stroke-width="3.5" stroke-linecap="round" fill="none"/><path d="M273.1 357.9L270.2 357.1" stroke="#0000e6" stroke-width="3.5" stroke-linecap="round" fill="none"/><path d="M348.8 359.7L350.4 357.1M480.3 327.1L483.0 328.5" stroke="#eb0aeb" stroke-width="3.5" stroke-linecap="round" fill="none"/><path d="M290.5 359.5L287.6 358.8" stroke="#0aeb0a" stroke-width="3.5" stroke-linecap="round" fill="none"/><path d="M286.0 359.0L283.1 358.1" stroke="#e00000" stroke-width="3.5" stroke-linecap="round" fill="none"/><path d="M255.4 356.0L252.5 355.1M472.4 327.4L475.2 328.5" stroke="#10f4f4" stroke-width="3.5" stroke-linecap="round" fill="none"/><path d="M276.0 358.6L273.1 357.9" stroke="#0000e6" stroke-width="3.5" stroke-linecap="round" fill="none"/><path d="M293.4 360.3L290.5 359.5" stroke="#0aeb0a" stroke-width="3.5" stroke-linecap="round" fill="none"/><path d="M288.9 359.8L286.0 359.0" stroke="#e00000" stroke-width="3.5" stroke-linecap="round" fill="none"/><path d="M258.3 356.9L255.4 356.0" stroke="#10f4f4" stroke-width="3.5" stroke-linecap="round" fill="none"/><path d="M278.9 359.3L276.0 358.6M479.5 326.1L482.2 327.3" stroke="#0000e6" stroke-width="3.5" stroke-linecap="round" fill="none"/><path d="M296.3 361.1L293.4 360.3" stroke="#0aeb0a" stroke-width="3.5" stroke-linecap="round" fill="none"/><path d="M291.8 360.5L288.9 359.8M482.3 326.9L485.0 328.3M353.6 215.8L356.6 215.4L359.5 215.0L362.5 214.6L365.5 214.2L368.5 213.8L371.5 213.5L374.5 213.2" stroke="#e00000" stroke-width="3.5" stroke-linecap="round" fill="none"/><path d="M261.1 357.7L258.3 356.9" stroke="#10f4f4" stroke-width="3.5" stroke-linecap="round" fill="none"/><path d="M281.9 360.1L278.9 359.3" stroke="#0000e6" stroke-width="3.5" stroke-linecap="round" fill="none"/><path d="M299.2 361.9L296.3 361.1M485.9 326.9L488.5 328.4" stroke="#0aeb0a" stroke-width="3.5" stroke-linecap="round" fill="none"/><path d="M294.7 361.3L291.8 360.5M341.8 217.8L344.7 217.3L347.7 216.8L350.6 216.3L353.6 215.8M374.5 213.2L377.4 212.9L380.4 212.6L383.4 212.4L386.4 212.1" stroke="#e00000" stroke-width="3.5" stroke-linecap="round" fill="none"/><path d="M264.0 358.6L261.1 357.7" stroke="#10f4f4" stroke-width="3.5" stroke-linecap="round" fill="none"/><path d="M284.8 360.8L281.9 360.1" stroke="#0000e6" stroke-width="3.5" stroke-linecap="round" fill="none"/><path d="M347.6 362.4L348.8 359.7M483.0 328.5L485.7 329.7" stroke="#eb0aeb" stroke-width="3.5" stroke-linecap="round" fill="none"/><path d="M302.1 362.6L299.2 361.9" stroke="#0aeb0a" stroke-width="3.5" stroke-linecap="round" fill="none"/><path d="M332.9 219.5L335.9 218.9L338.8 218.3L341.8 217.8M386.4 212.1L389.4 211.9L392.4 211.8" stroke="#e00000" stroke-width="3.5" stroke-linecap="round" fill="none"/><path d="M266.9 359.3L264.0 358.6M475.2 328.5L478.0 329.7" stroke="#10f4f4" stroke-width="3.5" stroke-linecap="round" fill="none"/><path d="M351.3 218.0L354.3 217.5L357.2 217.1L360.2 216.6L363.2 216.2L366.2 215.9L369.1 215.5L372.1 215.2L375.1 214.9" stroke="#0aeb0a" stroke-width="3.5" stroke-linecap="round" fill="none"/><path d="M297.6 362.0L294.7 361.3M327.0 220.7L330.0 220.1L332.9 219.5M392.4 211.8L391.0 212.1" stroke="#e00000" stroke-width="3.5" stroke-linecap="round" fill="none"/><path d="M269.8 360.0L266.9 359.3M348.5 217.6L351.4 217.1L354.4 216.7L357.4 216.3L360.3 215.8L363.3 215.4L366.3 215.1L369.3 214.7L372.3 214.4L375.2 214.1L378.2 213.8" stroke="#10f4f4" stroke-width="3.5" stroke-linecap="round" fill="none"/><path d="M287.7 361.5L284.8 360.8M482.2 327.3L484.8 328.8" stroke="#0000e6" stroke-width="3.5" stroke-linecap="round" fill="none"/><path d="M485.7 329.7L488.7 329.8" stroke="#eb0aeb" stroke-width="3.5" stroke-linecap="round" fill="none"/><path d="M305.0 363.5L302.1 362.6M339.5 220.0L342.4 219.4L345.4 218.9L348.3 218.4L351.3 218.0M375.1 214.9L378.1 214.6L381.1 214.3L384.1 214.1L387.1 213.9" stroke="#0aeb0a" stroke-width="3.5" stroke-linecap="round" fill="none"/><path d="M300.5 362.8L297.6 362.0M321.2 222.0L324.1 221.3L327.0 220.7" stroke="#e00000" stroke-width="3.5" stroke-linecap="round" fill="none"/><path d="M272.8 360.7L269.8 360.0M336.6 219.7L339.6 219.2L342.5 218.6L345.5 218.1L348.5 217.6M378.2 213.8L381.2 213.5L384.2 213.3L387.2 213.1L390.2 212.9" stroke="#10f4f4" stroke-width="3.5" stroke-linecap="round" fill="none"/><path d="M290.6 362.2L287.7 361.5" stroke="#0000e6" stroke-width="3.5" stroke-linecap="round" fill="none"/><path d="M480.2 327.0L483.1 328.6" stroke="#000" stroke-width="3.3" fill="none"/><path d="M488.7 329.8L491.7 329.8L494.7 329.8" stroke="#eb0aeb" stroke-width="3.5" stroke-linecap="round" fill="none"/><path d="M307.8 364.6L305.0 363.5M488.5 328.4L490.9 330.2M330.6 221.7L333.6 221.1L336.5 220.5L339.5 220.0M387.1 213.9L390.1 213.7L391.9 213.3" stroke="#0aeb0a" stroke-width="3.5" stroke-linecap="round" fill="none"/><path d="M303.4 363.5L300.5 362.8M485.0 328.3L487.6 329.8M315.3 223.4L318.2 222.7L321.2 222.0M391.0 212.1L388.0 212.4" stroke="#e00000" stroke-width="3.5" stroke-linecap="round" fill="none"/><path d="M330.7 220.9L333.7 220.3L336.6 219.7" stroke="#10f4f4" stroke-width="3.5" stroke-linecap="round" fill="none"/><path d="M293.5 362.8L290.6 362.2M347.2 218.4L350.1 217.9L353.1 217.5L356.0 217.0L359.0 216.6L362.0 216.2L365.0 215.8L367.9 215.5L370.9 215.1L373.9 214.8L376.9 214.5L379.9 214.2" stroke="#0000e6" stroke-width="3.5" stroke-linecap="round" fill="none"/><path d="M346.4 365.2L347.6 362.4M494.7 329.8L497.7 329.7L500.7 329.9M346.5 221.2L349.4 220.7L352.4 220.3L355.4 219.8L358.3 219.4L361.3 219.0L364.3 218.6L367.3 218.2L370.2 217.9L373.2 217.5L376.2 217.2L379.2 217.0" stroke="#eb0aeb" stroke-width="3.5" stroke-linecap="round" fill="none"/><path d="M324.8 223.0L327.7 222.3L330.6 221.7M391.9 213.3L388.9 213.2" stroke="#0aeb0a" stroke-width="3.5" stroke-linecap="round" fill="none"/><path d="M306.3 364.2L303.4 363.5M312.4 224.1L315.3 223.4" stroke="#e00000" stroke-width="3.5" stroke-linecap="round" fill="none"/><path d="M275.7 361.5L272.8 360.7M478.0 329.7L480.7 331.0M324.9 222.2L327.8 221.5L330.7 220.9M390.2 212.9L392.2 213.0" stroke="#10f4f4" stroke-width="3.5" stroke-linecap="round" fill="none"/><path d="M296.5 363.5L293.5 362.8M335.3 220.6L338.3 220.0L341.2 219.5L344.2 218.9L347.2 218.4M379.9 214.2L382.9 214.0L385.9 213.7L388.8 213.5" stroke="#0000e6" stroke-width="3.5" stroke-linecap="round" fill="none"/><path d="M334.7 223.4L337.6 222.8L340.6 222.3L343.5 221.7L346.5 221.2M379.2 217.0L382.2 216.7L385.2 216.5L388.2 216.3" stroke="#eb0aeb" stroke-width="3.5" stroke-linecap="round" fill="none"/><path d="M310.6 365.7L307.8 364.6M318.9 224.3L321.8 223.6L324.8 223.0M388.9 213.2L385.9 213.1" stroke="#0aeb0a" stroke-width="3.5" stroke-linecap="round" fill="none"/><path d="M309.2 365.0L306.3 364.2M306.6 225.6L309.5 224.8L312.4 224.1M388.0 212.4L385.0 212.8" stroke="#e00000" stroke-width="3.5" stroke-linecap="round" fill="none"/><path d="M278.6 362.2L275.7 361.5M319.0 223.5L321.9 222.8L324.9 222.2M392.2 213.0L389.2 213.6" stroke="#10f4f4" stroke-width="3.5" stroke-linecap="round" fill="none"/><path d="M299.4 364.1L296.5 363.5M484.8 328.8L487.4 330.3M329.5 221.8L332.4 221.2L335.3 220.6M388.8 213.5L391.8 213.4" stroke="#0000e6" stroke-width="3.5" stroke-linecap="round" fill="none"/><path d="M328.8 224.6L331.7 224.0L334.7 223.4M388.2 216.3L391.2 216.1L394.2 215.9L397.2 215.8" stroke="#eb0aeb" stroke-width="3.5" stroke-linecap="round" fill="none"/><path d="M316.0 225.0L318.9 224.3M385.9 213.1L382.9 213.1L379.9 213.1" stroke="#0aeb0a" stroke-width="3.5" stroke-linecap="round" fill="none"/><path d="M312.0 366.1L309.2 365.0M303.7 226.4L306.6 225.6M385.0 212.8L382.1 213.2" stroke="#e00000" stroke-width="3.5" stroke-linecap="round" fill="none"/><path d="M281.5 362.9L278.6 362.2M313.2 224.9L316.1 224.2L319.0 223.5" stroke="#10f4f4" stroke-width="3.5" stroke-linecap="round" fill="none"/><path d="M302.3 364.8L299.4 364.1M323.6 223.0L326.5 222.4L329.5 221.8M391.8 213.4L390.1 213.6" stroke="#0000e6" stroke-width="3.5" stroke-linecap="round" fill="none"/><path d="M500.7 329.9L503.0 331.8M322.9 225.9L325.9 225.3L328.8 224.6M397.2 215.8L400.2 215.7" stroke="#eb0aeb" stroke-width="3.5" stroke-linecap="round" fill="none"/><path d="M313.4 366.9L310.6 365.7M310.2 226.5L313.1 225.7L316.0 225.0" stroke="#0aeb0a" stroke-width="3.5" stroke-linecap="round" fill="none"/><path d="M487.6 329.8L490.0 331.6M300.8 227.2L303.7 226.4" stroke="#e00000" stroke-width="3.5" stroke-linecap="round" fill="none"/><path d="M284.4 363.6L281.5 362.9M310.3 225.7L313.2 224.9M389.2 213.6L386.3 214.1" stroke="#10f4f4" stroke-width="3.5" stroke-linecap="round" fill="none"/><path d="M305.2 365.4L302.3 364.8M317.8 224.4L320.7 223.7L323.6 223.0" stroke="#0000e6" stroke-width="3.5" stroke-linecap="round" fill="none"/><path d="M345.6 368.1L346.4 365.2M317.1 227.3L320.0 226.6L322.9 225.9M400.2 215.7L403.2 215.6L406.2 215.6" stroke="#eb0aeb" stroke-width="3.5" stroke-linecap="round" fill="none"/><path d="M490.9 330.2L493.2 332.1M307.3 227.2L310.2 226.5M379.9 213.1L380.3 213.1" stroke="#0aeb0a" stroke-width="3.5" stroke-linecap="round" fill="none"/><path d="M314.8 367.3L312.0 366.1M295.0 228.8L297.9 228.0L300.8 227.2M382.1 213.2L379.1 213.7" stroke="#e00000" stroke-width="3.5" stroke-linecap="round" fill="none"/><path d="M287.3 364.4L284.4 363.6M480.7 331.0L483.3 332.5M304.5 227.2L307.4 226.4L310.3 225.7" stroke="#10f4f4" stroke-width="3.5" stroke-linecap="round" fill="none"/><path d="M308.2 366.1L305.2 365.4M311.9 225.8L314.8 225.1L317.8 224.4M390.1 213.6L387.1 214.0" stroke="#0000e6" stroke-width="3.5" stroke-linecap="round" fill="none"/><path d="M314.2 228.0L317.1 227.3M406.2 215.6L409.2 215.8" stroke="#eb0aeb" stroke-width="3.5" stroke-linecap="round" fill="none"/><path d="M316.2 368.0L313.4 366.9M301.5 228.8L304.4 228.0L307.3 227.2M380.3 213.1L383.3 213.2" stroke="#0aeb0a" stroke-width="3.5" stroke-linecap="round" fill="none"/><path d="M292.2 229.7L295.0 228.8" stroke="#e00000" stroke-width="3.5" stroke-linecap="round" fill="none"/><path d="M290.2 365.1L287.3 364.4M301.6 228.0L304.5 227.2M386.3 214.1L383.3 214.6" stroke="#10f4f4" stroke-width="3.5" stroke-linecap="round" fill="none"/><path d="M311.1 366.8L308.2 366.1M309.0 226.6L311.9 225.8M387.1 214.0L384.1 214.3" stroke="#0000e6" stroke-width="3.5" stroke-linecap="round" fill="none"/><path d="M355.1 219.9L358.3 219.4M361.2 219.0L364.5 218.6M367.4 218.2L370.6 217.8" stroke="#000" stroke-width="3.3" fill="none"/><path d="M308.4 229.5L311.3 228.8L314.2 228.0M409.2 215.8L412.2 216.0" stroke="#eb0aeb" stroke-width="3.5" stroke-linecap="round" fill="none"/><path d="M318.9 369.1L316.2 368.0M298.6 229.7L301.5 228.8M383.3 213.2L386.3 213.2L389.3 213.2" stroke="#0aeb0a" stroke-width="3.5" stroke-linecap="round" fill="none"/><path d="M317.5 368.4L314.8 367.3M289.3 230.6L292.2 229.7M379.1 213.7L381.0 214.0" stroke="#e00000" stroke-width="3.5" stroke-linecap="round" fill="none"/><path d="M293.2 365.8L290.2 365.1M298.7 228.8L301.6 228.0" stroke="#10f4f4" stroke-width="3.5" stroke-linecap="round" fill="none"/><path d="M314.0 367.5L311.1 366.8M487.4 330.3L489.8 332.1M306.1 227.4L309.0 226.6M384.1 214.3L381.1 214.7" stroke="#0000e6" stroke-width="3.5" stroke-linecap="round" fill="none"/><path d="M342.8 221.9L346.1 221.3M349.0 220.8L352.2 220.3M373.5 217.5L376.8 217.2M379.7 216.9L383.0 216.6" stroke="#000" stroke-width="3.3" fill="none"/><path d="M305.5 230.3L308.4 229.5" stroke="#eb0aeb" stroke-width="3.5" stroke-linecap="round" fill="none"/><path d="M295.7 230.5L298.6 229.7M389.3 213.2L392.3 213.3L395.3 213.4" stroke="#0aeb0a" stroke-width="3.5" stroke-linecap="round" fill="none"/><path d="M286.4 231.5L289.3 230.6M381.0 214.0L384.0 214.0" stroke="#e00000" stroke-width="3.5" stroke-linecap="round" fill="none"/><path d="M296.1 366.5L293.2 365.8M295.8 229.7L298.7 228.8M383.3 214.6L380.4 215.2" stroke="#10f4f4" stroke-width="3.5" stroke-linecap="round" fill="none"/><path d="M316.9 368.2L314.0 367.5M300.3 229.0L303.2 228.1L306.1 227.4" stroke="#0000e6" stroke-width="3.5" stroke-linecap="round" fill="none"/><path d="M485.6 330.0L488.3 331.9M336.7 223.0L340.0 222.4M385.9 216.4L389.2 216.2" stroke="#000" stroke-width="3.3" fill="none"/><path d="M344.8 370.9L345.6 368.1M299.7 231.9L302.6 231.1L305.5 230.3M412.2 216.0L415.1 216.2" stroke="#eb0aeb" stroke-width="3.5" stroke-linecap="round" fill="none"/><path d="M321.8 370.1L318.9 369.1M292.8 231.4L295.7 230.5M395.3 213.4L398.3 213.4L401.3 213.5" stroke="#0aeb0a" stroke-width="3.5" stroke-linecap="round" fill="none"/><path d="M320.3 369.6L317.5 368.4M490.0 331.6L492.3 333.5M283.6 232.4L286.4 231.5M384.0 214.0L387.0 214.1L390.0 214.1" stroke="#e00000" stroke-width="3.5" stroke-linecap="round" fill="none"/><path d="M299.0 367.3L296.1 366.5M483.3 332.5L485.8 334.2M292.9 230.5L295.8 229.7" stroke="#10f4f4" stroke-width="3.5" stroke-linecap="round" fill="none"/><path d="M319.9 368.9L316.9 368.2M297.5 229.8L300.3 229.0" stroke="#0000e6" stroke-width="3.5" stroke-linecap="round" fill="none"/><path d="M324.6 225.5L327.8 224.8M330.7 224.2L333.9 223.6M392.1 216.0L395.4 215.8" stroke="#000" stroke-width="3.3" fill="none"/><path d="M503.0 331.8L504.7 334.2M261.4 236.7L264.3 235.7L267.2 235.3L270.2 235.2L273.2 235.2M296.8 232.8L299.7 231.9M415.1 216.2L418.1 216.4" stroke="#eb0aeb" stroke-width="3.5" stroke-linecap="round" fill="none"/><path d="M290.0 232.2L292.8 231.4M401.3 213.5L404.3 213.5L407.3 213.6L410.3 213.7" stroke="#0aeb0a" stroke-width="3.5" stroke-linecap="round" fill="none"/><path d="M280.7 233.4L283.6 232.4M390.0 214.1L393.0 214.1L396.0 214.1L399.0 214.2" stroke="#e00000" stroke-width="3.5" stroke-linecap="round" fill="none"/><path d="M301.9 368.0L299.0 367.3M290.0 231.4L292.9 230.5M380.4 215.2L379.6 216.0" stroke="#10f4f4" stroke-width="3.5" stroke-linecap="round" fill="none"/><path d="M322.8 369.5L319.9 368.9M294.6 230.6L297.5 229.8M381.1 214.7L378.9 215.2" stroke="#0000e6" stroke-width="3.5" stroke-linecap="round" fill="none"/><path d="M398.3 215.7L401.6 215.6" stroke="#000" stroke-width="3.3" fill="none"/><path d="M273.2 235.2L276.2 235.4M293.9 233.6L296.8 232.8M418.1 216.4L421.1 216.5" stroke="#eb0aeb" stroke-width="3.5" stroke-linecap="round" fill="none"/><path d="M324.6 371.1L321.8 370.1M493.2 332.1L495.3 334.2M287.1 233.2L290.0 232.2M410.3 213.7L413.3 213.8L416.3 213.8" stroke="#0aeb0a" stroke-width="3.5" stroke-linecap="round" fill="none"/><path d="M323.0 370.8L320.3 369.6M277.9 234.3L280.7 233.4M399.0 214.2L402.0 214.2L405.0 214.2" stroke="#e00000" stroke-width="3.5" stroke-linecap="round" fill="none"/><path d="M304.8 368.7L301.9 368.0M284.3 233.2L287.2 232.3L290.0 231.4" stroke="#10f4f4" stroke-width="3.5" stroke-linecap="round" fill="none"/><path d="M325.7 370.1L322.8 369.5M291.7 231.5L294.6 230.6M378.9 215.2L381.9 215.3" stroke="#0000e6" stroke-width="3.5" stroke-linecap="round" fill="none"/><path d="M318.6 226.9L321.8 226.2M404.5 215.5L407.8 215.5" stroke="#000" stroke-width="3.3" fill="none"/><path d="M258.7 237.9L261.4 236.7M276.2 235.4L279.2 235.8M291.1 234.5L293.9 233.6M421.1 216.5L424.1 216.6" stroke="#eb0aeb" stroke-width="3.5" stroke-linecap="round" fill="none"/><path d="M327.4 372.0L324.6 371.1M284.3 234.1L287.1 233.2M416.3 213.8L419.3 213.9L422.3 214.0" stroke="#0aeb0a" stroke-width="3.5" stroke-linecap="round" fill="none"/><path d="M275.0 235.3L277.9 234.3M405.0 214.2L408.0 214.2L411.0 214.3L414.0 214.3" stroke="#e00000" stroke-width="3.5" stroke-linecap="round" fill="none"/><path d="M307.7 369.4L304.8 368.7M379.6 216.0L382.6 216.0" stroke="#10f4f4" stroke-width="3.5" stroke-linecap="round" fill="none"/><path d="M328.7 370.7L325.7 370.1M489.8 332.1L492.1 334.1M288.8 232.4L291.7 231.5M381.9 215.3L384.9 215.3" stroke="#0000e6" stroke-width="3.5" stroke-linecap="round" fill="none"/><path d="M312.6 228.4L315.8 227.6" stroke="#000" stroke-width="3.3" fill="none"/><path d="M256.0 239.2L258.7 237.9M279.2 235.8L282.2 235.8L285.2 235.7L288.2 235.3L291.1 234.5M424.1 216.6L427.1 216.7" stroke="#eb0aeb" stroke-width="3.5" stroke-linecap="round" fill="none"/><path d="M281.4 235.0L284.3 234.1M422.3 214.0L425.3 214.1L428.3 214.2" stroke="#0aeb0a" stroke-width="3.5" stroke-linecap="round" fill="none"/><path d="M325.8 372.0L323.0 370.8M272.2 236.3L275.0 235.3M414.0 214.3L417.0 214.4L420.0 214.4" stroke="#e00000" stroke-width="3.5" stroke-linecap="round" fill="none"/><path d="M310.6 370.2L307.7 369.4M281.5 234.2L284.3 233.2M382.6 216.0L385.6 216.0L388.6 216.1" stroke="#10f4f4" stroke-width="3.5" stroke-linecap="round" fill="none"/><path d="M331.6 371.3L328.7 370.7M286.0 233.3L288.8 232.4M384.9 215.3L387.9 215.4L390.9 215.4" stroke="#0000e6" stroke-width="3.5" stroke-linecap="round" fill="none"/><path d="M306.6 230.0L309.7 229.2M410.7 215.5L414.0 215.5" stroke="#000" stroke-width="3.3" fill="none"/><path d="M344.7 373.9L344.8 370.9M427.1 216.7L430.1 216.8" stroke="#eb0aeb" stroke-width="3.5" stroke-linecap="round" fill="none"/><path d="M330.3 373.0L327.4 372.0M278.6 236.0L281.4 235.0M428.3 214.2L431.3 214.4L434.3 214.5" stroke="#0aeb0a" stroke-width="3.5" stroke-linecap="round" fill="none"/><path d="M420.0 214.4L423.0 214.5L426.1 214.6" stroke="#e00000" stroke-width="3.5" stroke-linecap="round" fill="none"/><path d="M313.6 370.9L310.6 370.2M485.8 334.2L488.2 336.0M278.6 235.2L281.5 234.2M388.6 216.1L391.6 216.1L394.6 216.1" stroke="#10f4f4" stroke-width="3.5" stroke-linecap="round" fill="none"/><path d="M334.5 371.9L331.6 371.3M283.1 234.3L286.0 233.3M390.9 215.4L393.9 215.4L396.9 215.4L399.9 215.4" stroke="#0000e6" stroke-width="3.5" stroke-linecap="round" fill="none"/><path d="M504.7 334.2L502.2 335.8M253.3 240.5L256.0 239.2M430.1 216.8L433.1 217.0" stroke="#eb0aeb" stroke-width="3.5" stroke-linecap="round" fill="none"/><path d="M333.1 373.9L330.3 373.0M275.8 237.0L278.6 236.0M434.3 214.5L437.3 214.6" stroke="#0aeb0a" stroke-width="3.5" stroke-linecap="round" fill="none"/><path d="M328.6 373.2L325.8 372.0M492.3 333.5L494.3 335.7M269.4 237.4L272.2 236.3M426.1 214.6L429.1 214.6L432.1 214.7" stroke="#e00000" stroke-width="3.5" stroke-linecap="round" fill="none"/><path d="M316.5 371.6L313.6 370.9M275.8 236.2L278.6 235.2M394.6 216.1L397.6 216.1L400.6 216.1L403.6 216.1" stroke="#10f4f4" stroke-width="3.5" stroke-linecap="round" fill="none"/><path d="M337.5 372.5L334.5 371.9M280.3 235.2L283.1 234.3M399.9 215.4L402.9 215.4L405.9 215.4" stroke="#0000e6" stroke-width="3.5" stroke-linecap="round" fill="none"/><path d="M300.6 231.7L303.8 230.8M416.9 215.5L420.2 215.6" stroke="#000" stroke-width="3.3" fill="none"/><path d="M433.1 217.0L436.1 217.1" stroke="#eb0aeb" stroke-width="3.5" stroke-linecap="round" fill="none"/><path d="M495.3 334.2L497.2 336.6M272.9 238.0L275.8 237.0M437.3 214.6L440.2 214.8" stroke="#0aeb0a" stroke-width="3.5" stroke-linecap="round" fill="none"/><path d="M266.6 238.4L269.4 237.4M432.1 214.7L435.1 214.8L438.1 214.9" stroke="#e00000" stroke-width="3.5" stroke-linecap="round" fill="none"/><path d="M322.4 372.6L319.4 372.3L316.5 371.6M273.0 237.2L275.8 236.2M403.6 216.1L406.6 216.1L409.6 216.2L412.6 216.2" stroke="#10f4f4" stroke-width="3.5" stroke-linecap="round" fill="none"/><path d="M340.4 373.1L337.5 372.5M277.5 236.2L280.3 235.2M405.9 215.4L408.9 215.5L411.9 215.5L414.9 215.5" stroke="#0000e6" stroke-width="3.5" stroke-linecap="round" fill="none"/><path d="M250.7 241.9L253.3 240.5" stroke="#eb0aeb" stroke-width="3.5" stroke-linecap="round" fill="none"/><path d="M336.0 374.9L333.1 373.9M270.1 239.1L272.9 238.0M440.2 214.8L443.2 215.0" stroke="#0aeb0a" stroke-width="3.5" stroke-linecap="round" fill="none"/><path d="M331.4 374.3L328.6 373.2M263.8 239.5L266.6 238.4M438.1 214.9L441.1 215.1" stroke="#e00000" stroke-width="3.5" stroke-linecap="round" fill="none"/><path d="M337.3 374.0L334.3 373.8L331.4 373.5L328.4 373.2L325.4 372.9L322.4 372.6M270.2 238.2L273.0 237.2M412.6 216.2L415.6 216.2L418.6 216.2" stroke="#10f4f4" stroke-width="3.5" stroke-linecap="round" fill="none"/><path d="M346.3 374.3L343.4 373.7L340.4 373.1M274.6 237.2L277.5 236.2M414.9 215.5L417.9 215.6L420.9 215.6L423.9 215.6" stroke="#0000e6" stroke-width="3.5" stroke-linecap="round" fill="none"/><path d="M294.6 233.4L297.8 232.5M423.1 215.7L426.3 215.9" stroke="#000" stroke-width="3.3" fill="none"/><path d="M344.8 376.9L344.7 373.9M502.2 335.8L499.6 337.2M436.1 217.1L439.1 217.4" stroke="#eb0aeb" stroke-width="3.5" stroke-linecap="round" fill="none"/><path d="M338.8 375.9L336.0 374.9M267.3 240.1L270.1 239.1M443.2 215.0L446.2 215.4" stroke="#0aeb0a" stroke-width="3.5" stroke-linecap="round" fill="none"/><path d="M334.2 375.3L331.4 374.3M261.0 240.6L263.8 239.5M441.1 215.1L444.0 215.3" stroke="#e00000" stroke-width="3.5" stroke-linecap="round" fill="none"/><path d="M346.3 374.9L343.3 374.6L340.3 374.3L337.3 374.0M267.3 239.3L270.2 238.2M418.6 216.2L421.6 216.3L424.6 216.3L427.7 216.4" stroke="#10f4f4" stroke-width="3.5" stroke-linecap="round" fill="none"/><path d="M492.1 334.1L494.2 336.2M271.8 238.2L274.6 237.2M423.9 215.6L426.9 215.7L429.9 215.7" stroke="#0000e6" stroke-width="3.5" stroke-linecap="round" fill="none"/><path d="M288.7 235.3L291.9 234.3" stroke="#000" stroke-width="3.3" fill="none"/><path d="M249.0 244.3L250.7 241.9M439.1 217.4L442.1 217.7" stroke="#eb0aeb" stroke-width="3.5" stroke-linecap="round" fill="none"/><path d="M446.2 215.4L449.2 215.8" stroke="#0aeb0a" stroke-width="3.5" stroke-linecap="round" fill="none"/><path d="M444.0 215.3L447.0 215.7" stroke="#e00000" stroke-width="3.5" stroke-linecap="round" fill="none"/><path d="M264.5 240.3L267.3 239.3M427.7 216.4L430.7 216.4L433.7 216.5" stroke="#10f4f4" stroke-width="3.5" stroke-linecap="round" fill="none"/><path d="M269.0 239.3L271.8 238.2M429.9 215.7L432.9 215.8L435.9 215.9" stroke="#0000e6" stroke-width="3.5" stroke-linecap="round" fill="none"/><path d="M490.6 333.7L492.9 336.1M429.2 216.0L432.5 216.3" stroke="#000" stroke-width="3.3" fill="none"/><path d="M341.7 376.8L338.8 375.9M264.5 241.2L267.3 240.1" stroke="#0aeb0a" stroke-width="3.5" stroke-linecap="round" fill="none"/><path d="M337.0 376.3L334.2 375.3M258.2 241.8L261.0 240.6" stroke="#e00000" stroke-width="3.5" stroke-linecap="round" fill="none"/><path d="M488.2 336.0L490.3 338.1M433.7 216.5L436.7 216.6L439.7 216.7" stroke="#10f4f4" stroke-width="3.5" stroke-linecap="round" fill="none"/><path d="M435.9 215.9L438.9 216.0" stroke="#0000e6" stroke-width="3.5" stroke-linecap="round" fill="none"/><path d="M282.8 237.2L286.0 236.2" stroke="#000" stroke-width="3.3" fill="none"/><path d="M442.1 217.7L445.1 218.2" stroke="#eb0aeb" stroke-width="3.5" stroke-linecap="round" fill="none"/><path d="M261.7 242.3L264.5 241.2M449.2 215.8L452.1 216.3" stroke="#0aeb0a" stroke-width="3.5" stroke-linecap="round" fill="none"/><path d="M339.8 377.3L337.0 376.3M494.3 335.7L496.1 338.2M255.4 242.9L258.2 241.8M447.0 215.7L450.0 216.1" stroke="#e00000" stroke-width="3.5" stroke-linecap="round" fill="none"/><path d="M261.8 241.5L264.5 240.3M439.7 216.7L442.7 216.8" stroke="#10f4f4" stroke-width="3.5" stroke-linecap="round" fill="none"/><path d="M266.2 240.3L269.0 239.3M438.9 216.0L441.9 216.1L444.9 216.3" stroke="#0000e6" stroke-width="3.5" stroke-linecap="round" fill="none"/><path d="M499.6 337.2L497.0 338.7M445.1 218.2L448.0 218.6" stroke="#eb0aeb" stroke-width="3.5" stroke-linecap="round" fill="none"/><path d="M344.5 377.8L341.7 376.8M258.9 243.5L261.7 242.3" stroke="#0aeb0a" stroke-width="3.5" stroke-linecap="round" fill="none"/><path d="M259.0 242.6L261.8 241.5M442.7 216.8L445.7 217.0" stroke="#10f4f4" stroke-width="3.5" stroke-linecap="round" fill="none"/><path d="M263.4 241.4L266.2 240.3" stroke="#0000e6" stroke-width="3.5" stroke-linecap="round" fill="none"/><path d="M435.4 216.5L438.7 216.8" stroke="#000" stroke-width="3.3" fill="none"/><path d="M345.4 379.9L344.8 376.9M248.2 247.2L249.0 244.3" stroke="#eb0aeb" stroke-width="3.5" stroke-linecap="round" fill="none"/><path d="M497.2 336.6L498.8 339.1M452.1 216.3L455.1 216.9" stroke="#0aeb0a" stroke-width="3.5" stroke-linecap="round" fill="none"/><path d="M342.7 378.3L339.8 377.3M252.7 244.1L255.4 242.9M450.0 216.1L453.0 216.7" stroke="#e00000" stroke-width="3.5" stroke-linecap="round" fill="none"/><path d="M256.2 243.7L259.0 242.6M445.7 217.0L448.6 217.3" stroke="#10f4f4" stroke-width="3.5" stroke-linecap="round" fill="none"/><path d="M260.6 242.6L263.4 241.4M444.9 216.3L447.8 216.6" stroke="#0000e6" stroke-width="3.5" stroke-linecap="round" fill="none"/><path d="M277.0 239.2L280.1 238.1" stroke="#000" stroke-width="3.3" fill="none"/><path d="M448.0 218.6L451.0 219.2" stroke="#eb0aeb" stroke-width="3.5" stroke-linecap="round" fill="none"/><path d="M256.2 244.6L258.9 243.5" stroke="#0aeb0a" stroke-width="3.5" stroke-linecap="round" fill="none"/><path d="M249.9 245.3L252.7 244.1" stroke="#e00000" stroke-width="3.5" stroke-linecap="round" fill="none"/><path d="M494.2 336.2L495.9 338.7M447.8 216.6L450.8 217.0" stroke="#0000e6" stroke-width="3.5" stroke-linecap="round" fill="none"/><path d="M253.4 245.8L256.2 244.6M455.1 216.9L458.0 217.5" stroke="#0aeb0a" stroke-width="3.5" stroke-linecap="round" fill="none"/><path d="M345.5 379.3L342.7 378.3M247.2 246.5L249.9 245.3M453.0 216.7L455.9 217.3" stroke="#e00000" stroke-width="3.5" stroke-linecap="round" fill="none"/><path d="M490.3 338.1L492.3 340.4M253.4 244.9L256.2 243.7M448.6 217.3L451.6 217.7" stroke="#10f4f4" stroke-width="3.5" stroke-linecap="round" fill="none"/><path d="M257.9 243.7L260.6 242.6" stroke="#0000e6" stroke-width="3.5" stroke-linecap="round" fill="none"/><path d="M271.1 241.4L274.2 240.2M441.6 217.1L444.9 217.5" stroke="#000" stroke-width="3.3" fill="none"/><path d="M497.0 338.7L496.1 340.9M451.0 219.2L453.9 219.8" stroke="#eb0aeb" stroke-width="3.5" stroke-linecap="round" fill="none"/><path d="M250.7 246.1L253.4 244.9" stroke="#10f4f4" stroke-width="3.5" stroke-linecap="round" fill="none"/><path d="M255.1 244.9L257.9 243.7M450.8 217.0L453.8 217.5" stroke="#0000e6" stroke-width="3.5" stroke-linecap="round" fill="none"/><path d="M346.0 382.8L345.4 379.9" stroke="#eb0aeb" stroke-width="3.5" stroke-linecap="round" fill="none"/><path d="M250.7 247.0L253.4 245.8" stroke="#0aeb0a" stroke-width="3.5" stroke-linecap="round" fill="none"/><path d="M496.1 338.2L497.5 340.8M244.5 247.8L247.2 246.5M455.9 217.3L458.8 217.9" stroke="#e00000" stroke-width="3.5" stroke-linecap="round" fill="none"/><path d="M451.6 217.7L454.6 218.1" stroke="#10f4f4" stroke-width="3.5" stroke-linecap="round" fill="none"/><path d="M252.3 246.1L255.1 244.9" stroke="#0000e6" stroke-width="3.5" stroke-linecap="round" fill="none"/><path d="M247.4 250.1L248.2 247.2M453.9 219.8L456.8 220.5" stroke="#eb0aeb" stroke-width="3.5" stroke-linecap="round" fill="none"/><path d="M247.9 248.2L250.7 247.0M458.0 217.5L460.9 218.2" stroke="#0aeb0a" stroke-width="3.5" stroke-linecap="round" fill="none"/><path d="M248.0 247.4L250.7 246.1M454.6 218.1L457.6 218.5" stroke="#10f4f4" stroke-width="3.5" stroke-linecap="round" fill="none"/><path d="M453.8 217.5L456.7 217.9" stroke="#0000e6" stroke-width="3.5" stroke-linecap="round" fill="none"/><path d="M265.4 243.6L268.4 242.4M447.7 217.9L451.0 218.5" stroke="#000" stroke-width="3.3" fill="none"/><path d="M241.7 249.1L244.5 247.8M458.8 217.9L461.7 218.6" stroke="#e00000" stroke-width="3.5" stroke-linecap="round" fill="none"/><path d="M245.2 248.6L248.0 247.4" stroke="#10f4f4" stroke-width="3.5" stroke-linecap="round" fill="none"/><path d="M249.6 247.3L252.3 246.1" stroke="#0000e6" stroke-width="3.5" stroke-linecap="round" fill="none"/><path d="M498.8 339.1L500.0 341.9M245.2 249.5L247.9 248.2M460.9 218.2L463.8 219.0" stroke="#0aeb0a" stroke-width="3.5" stroke-linecap="round" fill="none"/><path d="M239.0 250.4L241.7 249.1" stroke="#e00000" stroke-width="3.5" stroke-linecap="round" fill="none"/><path d="M457.6 218.5L460.5 219.0" stroke="#10f4f4" stroke-width="3.5" stroke-linecap="round" fill="none"/><path d="M246.9 248.5L249.6 247.3M456.7 217.9L459.7 218.5" stroke="#0000e6" stroke-width="3.5" stroke-linecap="round" fill="none"/><path d="M259.6 245.9L262.7 244.7" stroke="#000" stroke-width="3.3" fill="none"/><path d="M456.8 220.5L459.7 221.4" stroke="#eb0aeb" stroke-width="3.5" stroke-linecap="round" fill="none"/><path d="M242.5 250.8L245.2 249.5" stroke="#0aeb0a" stroke-width="3.5" stroke-linecap="round" fill="none"/><path d="M242.5 249.9L245.2 248.6" stroke="#10f4f4" stroke-width="3.5" stroke-linecap="round" fill="none"/><path d="M495.9 338.7L497.3 341.3" stroke="#0000e6" stroke-width="3.5" stroke-linecap="round" fill="none"/><path d="M245.5 252.3L247.4 250.1" stroke="#eb0aeb" stroke-width="3.5" stroke-linecap="round" fill="none"/><path d="M236.4 251.7L239.0 250.4M461.7 218.6L464.6 219.4" stroke="#e00000" stroke-width="3.5" stroke-linecap="round" fill="none"/><path d="M492.3 340.4L493.8 342.9M239.8 251.2L242.5 249.9M460.5 219.0L463.5 219.6" stroke="#10f4f4" stroke-width="3.5" stroke-linecap="round" fill="none"/><path d="M244.2 249.8L246.9 248.5M459.7 218.5L462.6 219.1" stroke="#0000e6" stroke-width="3.5" stroke-linecap="round" fill="none"/><path d="M494.7 338.4L496.2 341.3" stroke="#000" stroke-width="3.3" fill="none"/><path d="M496.1 340.9L497.0 343.8" stroke="#eb0aeb" stroke-width="3.5" stroke-linecap="round" fill="none"/><path d="M239.8 252.1L242.5 250.8M463.8 219.0L466.7 219.9" stroke="#0aeb0a" stroke-width="3.5" stroke-linecap="round" fill="none"/><path d="M241.4 251.1L244.2 249.8" stroke="#0000e6" stroke-width="3.5" stroke-linecap="round" fill="none"/><path d="M253.9 248.4L256.9 247.1M453.9 219.0L457.1 219.6" stroke="#000" stroke-width="3.3" fill="none"/><path d="M242.9 253.8L245.5 252.3M459.7 221.4L462.4 222.7" stroke="#eb0aeb" stroke-width="3.5" stroke-linecap="round" fill="none"/><path d="M237.1 253.5L239.8 252.1" stroke="#0aeb0a" stroke-width="3.5" stroke-linecap="round" fill="none"/><path d="M233.7 253.1L236.4 251.7M464.6 219.4L467.5 220.2" stroke="#e00000" stroke-width="3.5" stroke-linecap="round" fill="none"/><path d="M237.1 252.6L239.8 251.2" stroke="#10f4f4" stroke-width="3.5" stroke-linecap="round" fill="none"/><path d="M462.6 219.1L465.6 219.8" stroke="#0000e6" stroke-width="3.5" stroke-linecap="round" fill="none"/><path d="M466.7 219.9L469.6 220.8" stroke="#0aeb0a" stroke-width="3.5" stroke-linecap="round" fill="none"/><path d="M497.5 340.8L498.5 343.6M231.0 254.5L233.7 253.1" stroke="#e00000" stroke-width="3.5" stroke-linecap="round" fill="none"/><path d="M463.5 219.6L466.4 220.2" stroke="#10f4f4" stroke-width="3.5" stroke-linecap="round" fill="none"/><path d="M238.8 252.4L241.4 251.1" stroke="#0000e6" stroke-width="3.5" stroke-linecap="round" fill="none"/><path d="M240.5 255.6L242.9 253.8" stroke="#eb0aeb" stroke-width="3.5" stroke-linecap="round" fill="none"/><path d="M234.5 254.8L237.1 253.5" stroke="#0aeb0a" stroke-width="3.5" stroke-linecap="round" fill="none"/><path d="M234.5 253.9L237.1 252.6" stroke="#10f4f4" stroke-width="3.5" stroke-linecap="round" fill="none"/><path d="M248.3 250.9L251.3 249.6" stroke="#000" stroke-width="3.3" fill="none"/><path d="M500.0 341.9L500.8 344.8" stroke="#0aeb0a" stroke-width="3.5" stroke-linecap="round" fill="none"/><path d="M228.4 255.9L231.0 254.5M467.5 220.2L470.4 221.1" stroke="#e00000" stroke-width="3.5" stroke-linecap="round" fill="none"/><path d="M466.4 220.2L469.3 220.9" stroke="#10f4f4" stroke-width="3.5" stroke-linecap="round" fill="none"/><path d="M236.1 253.8L238.8 252.4M465.6 219.8L468.5 220.5" stroke="#0000e6" stroke-width="3.5" stroke-linecap="round" fill="none"/><path d="M459.9 220.2L463.1 221.0" stroke="#000" stroke-width="3.3" fill="none"/><path d="M462.4 222.7L464.3 224.9" stroke="#eb0aeb" stroke-width="3.5" stroke-linecap="round" fill="none"/><path d="M231.8 256.2L234.5 254.8M469.6 220.8L472.4 221.8" stroke="#0aeb0a" stroke-width="3.5" stroke-linecap="round" fill="none"/><path d="M231.8 255.3L234.5 253.9" stroke="#10f4f4" stroke-width="3.5" stroke-linecap="round" fill="none"/><path d="M497.3 341.3L498.1 344.2" stroke="#0000e6" stroke-width="3.5" stroke-linecap="round" fill="none"/><path d="M239.2 258.2L240.5 255.6" stroke="#eb0aeb" stroke-width="3.5" stroke-linecap="round" fill="none"/><path d="M225.8 257.4L228.4 255.9" stroke="#e00000" stroke-width="3.5" stroke-linecap="round" fill="none"/><path d="M493.8 342.9L494.9 345.7M229.2 256.8L231.8 255.3M469.3 220.9L472.2 221.7" stroke="#10f4f4" stroke-width="3.5" stroke-linecap="round" fill="none"/><path d="M233.4 255.2L236.1 253.8M468.5 220.5L471.3 221.4" stroke="#0000e6" stroke-width="3.5" stroke-linecap="round" fill="none"/><path d="M242.7 253.6L245.6 252.2" stroke="#000" stroke-width="3.3" fill="none"/><path d="M497.0 343.8L497.6 346.7" stroke="#eb0aeb" stroke-width="3.5" stroke-linecap="round" fill="none"/><path d="M229.2 257.7L231.8 256.2" stroke="#0aeb0a" stroke-width="3.5" stroke-linecap="round" fill="none"/><path d="M470.4 221.1L473.2 222.1" stroke="#e00000" stroke-width="3.5" stroke-linecap="round" fill="none"/><path d="M230.8 256.6L233.4 255.2" stroke="#0000e6" stroke-width="3.5" stroke-linecap="round" fill="none"/><path d="M472.4 221.8L475.2 222.8" stroke="#0aeb0a" stroke-width="3.5" stroke-linecap="round" fill="none"/><path d="M223.2 258.8L225.8 257.4" stroke="#e00000" stroke-width="3.5" stroke-linecap="round" fill="none"/><path d="M226.5 258.2L229.2 256.8" stroke="#10f4f4" stroke-width="3.5" stroke-linecap="round" fill="none"/><path d="M226.6 259.2L229.2 257.7" stroke="#0aeb0a" stroke-width="3.5" stroke-linecap="round" fill="none"/><path d="M498.5 343.6L499.0 346.6" stroke="#e00000" stroke-width="3.5" stroke-linecap="round" fill="none"/><path d="M472.2 221.7L475.1 222.6" stroke="#10f4f4" stroke-width="3.5" stroke-linecap="round" fill="none"/><path d="M228.2 258.1L230.8 256.6M471.3 221.4L474.2 222.3" stroke="#0000e6" stroke-width="3.5" stroke-linecap="round" fill="none"/><path d="M465.9 221.7L469.1 222.6" stroke="#000" stroke-width="3.3" fill="none"/><path d="M237.4 260.7L239.2 258.2M464.3 224.9L466.4 226.7" stroke="#eb0aeb" stroke-width="3.5" stroke-linecap="round" fill="none"/><path d="M220.6 260.4L223.2 258.8M473.2 222.1L476.1 223.1" stroke="#e00000" stroke-width="3.5" stroke-linecap="round" fill="none"/><path d="M223.9 259.7L226.5 258.2" stroke="#10f4f4" stroke-width="3.5" stroke-linecap="round" fill="none"/><path d="M237.1 256.4L240.1 254.9" stroke="#000" stroke-width="3.3" fill="none"/><path d="M500.8 344.8L501.0 347.7M224.0 260.7L226.6 259.2" stroke="#0aeb0a" stroke-width="3.5" stroke-linecap="round" fill="none"/><path d="M225.5 259.5L228.2 258.1" stroke="#0000e6" stroke-width="3.5" stroke-linecap="round" fill="none"/><path d="M475.2 222.8L478.0 224.0" stroke="#0aeb0a" stroke-width="3.5" stroke-linecap="round" fill="none"/><path d="M218.0 261.9L220.6 260.4" stroke="#e00000" stroke-width="3.5" stroke-linecap="round" fill="none"/><path d="M221.3 261.3L223.9 259.7M475.1 222.6L477.9 223.6" stroke="#10f4f4" stroke-width="3.5" stroke-linecap="round" fill="none"/><path d="M474.2 222.3L477.0 223.2" stroke="#0000e6" stroke-width="3.5" stroke-linecap="round" fill="none"/><path d="M497.6 346.7L500.1 348.3M235.2 262.6L237.4 260.7M466.4 226.7L469.4 227.0" stroke="#eb0aeb" stroke-width="3.5" stroke-linecap="round" fill="none"/><path d="M221.4 262.2L224.0 260.7" stroke="#0aeb0a" stroke-width="3.5" stroke-linecap="round" fill="none"/><path d="M476.1 223.1L478.8 224.2" stroke="#e00000" stroke-width="3.5" stroke-linecap="round" fill="none"/><path d="M498.1 344.2L498.4 347.2M223.0 261.0L225.5 259.5" stroke="#0000e6" stroke-width="3.5" stroke-linecap="round" fill="none"/><path d="M469.4 227.0L472.4 226.9" stroke="#eb0aeb" stroke-width="3.5" stroke-linecap="round" fill="none"/><path d="M215.4 263.5L218.0 261.9" stroke="#e00000" stroke-width="3.5" stroke-linecap="round" fill="none"/><path d="M494.9 345.7L495.4 348.7M218.8 262.8L221.3 261.3" stroke="#10f4f4" stroke-width="3.5" stroke-linecap="round" fill="none"/><path d="M497.1 344.1L497.4 347.3M231.7 259.3L234.6 257.7" stroke="#000" stroke-width="3.3" fill="none"/><path d="M232.5 264.1L235.2 262.6M472.4 226.9L475.4 226.7" stroke="#eb0aeb" stroke-width="3.5" stroke-linecap="round" fill="none"/><path d="M218.8 263.7L221.4 262.2M478.0 224.0L480.7 225.3" stroke="#0aeb0a" stroke-width="3.5" stroke-linecap="round" fill="none"/><path d="M477.9 223.6L480.8 224.6" stroke="#10f4f4" stroke-width="3.5" stroke-linecap="round" fill="none"/><path d="M220.4 262.6L223.0 261.0M477.0 223.2L479.8 224.3" stroke="#0000e6" stroke-width="3.5" stroke-linecap="round" fill="none"/><path d="M471.9 223.5L475.0 224.7" stroke="#000" stroke-width="3.3" fill="none"/><path d="M500.1 348.3L503.0 348.8M475.4 226.7L478.4 226.5" stroke="#eb0aeb" stroke-width="3.5" stroke-linecap="round" fill="none"/><path d="M499.0 346.6L498.9 349.6M212.9 265.1L215.4 263.5M478.8 224.2L481.6 225.5" stroke="#e00000" stroke-width="3.5" stroke-linecap="round" fill="none"/><path d="M216.2 264.4L218.8 262.8" stroke="#10f4f4" stroke-width="3.5" stroke-linecap="round" fill="none"/><path d="M229.9 265.5L232.5 264.1M478.4 226.5L481.4 226.3" stroke="#eb0aeb" stroke-width="3.5" stroke-linecap="round" fill="none"/><path d="M216.3 265.4L218.8 263.7" stroke="#0aeb0a" stroke-width="3.5" stroke-linecap="round" fill="none"/><path d="M217.8 264.2L220.4 262.6" stroke="#0000e6" stroke-width="3.5" stroke-linecap="round" fill="none"/><path d="M226.3 262.4L229.1 260.7" stroke="#000" stroke-width="3.3" fill="none"/><path d="M503.0 348.8L506.0 349.3M481.4 226.3L484.3 225.9L487.3 225.8" stroke="#eb0aeb" stroke-width="3.5" stroke-linecap="round" fill="none"/><path d="M210.4 266.8L212.9 265.1" stroke="#e00000" stroke-width="3.5" stroke-linecap="round" fill="none"/><path d="M213.7 266.0L216.2 264.4" stroke="#10f4f4" stroke-width="3.5" stroke-linecap="round" fill="none"/><path d="M479.8 224.3L482.6 225.4" stroke="#0000e6" stroke-width="3.5" stroke-linecap="round" fill="none"/><path d="M227.1 266.7L229.9 265.5" stroke="#eb0aeb" stroke-width="3.5" stroke-linecap="round" fill="none"/><path d="M501.0 347.7L500.7 350.7M213.8 267.0L216.3 265.4M480.7 225.3L483.4 226.6" stroke="#0aeb0a" stroke-width="3.5" stroke-linecap="round" fill="none"/><path d="M480.8 224.6L483.5 225.8" stroke="#10f4f4" stroke-width="3.5" stroke-linecap="round" fill="none"/><path d="M215.3 265.8L217.8 264.2" stroke="#0000e6" stroke-width="3.5" stroke-linecap="round" fill="none"/><path d="M506.0 349.3L508.8 350.2M224.3 267.7L227.1 266.7M487.3 225.8L490.3 226.0" stroke="#eb0aeb" stroke-width="3.5" stroke-linecap="round" fill="none"/><path d="M208.0 268.6L210.4 266.8M481.6 225.5L484.3 226.8" stroke="#e00000" stroke-width="3.5" stroke-linecap="round" fill="none"/><path d="M498.4 347.2L498.1 350.2" stroke="#0000e6" stroke-width="3.5" stroke-linecap="round" fill="none"/><path d="M221.4 268.5L224.3 267.7M490.3 226.0L493.3 226.4" stroke="#eb0aeb" stroke-width="3.5" stroke-linecap="round" fill="none"/><path d="M211.3 268.7L213.8 267.0" stroke="#0aeb0a" stroke-width="3.5" stroke-linecap="round" fill="none"/><path d="M495.4 348.7L495.4 351.7M211.2 267.7L213.7 266.0" stroke="#10f4f4" stroke-width="3.5" stroke-linecap="round" fill="none"/><path d="M212.8 267.4L215.3 265.8" stroke="#0000e6" stroke-width="3.5" stroke-linecap="round" fill="none"/><path d="M221.0 265.6L223.8 263.8" stroke="#000" stroke-width="3.3" fill="none"/><path d="M215.6 270.1L218.5 269.2L221.4 268.5" stroke="#eb0aeb" stroke-width="3.5" stroke-linecap="round" fill="none"/><path d="M483.5 225.8L486.3 227.0" stroke="#10f4f4" stroke-width="3.5" stroke-linecap="round" fill="none"/><path d="M482.6 225.4L485.4 226.6" stroke="#0000e6" stroke-width="3.5" stroke-linecap="round" fill="none"/><path d="M477.6 225.8L480.6 227.1" stroke="#000" stroke-width="3.3" fill="none"/><path d="M508.8 350.2L510.2 352.2M347.8 118.1L350.8 117.7L353.8 117.3L356.7 116.9L359.7 116.5L362.7 116.2" stroke="#eb0aeb" stroke-width="3.5" stroke-linecap="round" fill="none"/><path d="M208.9 270.4L211.3 268.7M483.4 226.6L486.0 228.1" stroke="#0aeb0a" stroke-width="3.5" stroke-linecap="round" fill="none"/><path d="M205.6 270.4L208.0 268.6" stroke="#e00000" stroke-width="3.5" stroke-linecap="round" fill="none"/><path d="M208.8 269.5L211.2 267.7" stroke="#10f4f4" stroke-width="3.5" stroke-linecap="round" fill="none"/><path d="M210.3 269.2L212.8 267.4" stroke="#0000e6" stroke-width="3.5" stroke-linecap="round" fill="none"/><path d="M212.9 271.3L215.6 270.1M493.3 226.4L496.2 227.0M336.0 120.1L338.9 119.6L341.9 119.0L344.9 118.5L347.8 118.1M362.7 116.2L365.7 115.9L368.7 115.5L371.7 115.3L374.7 115.0L377.6 114.7" stroke="#eb0aeb" stroke-width="3.5" stroke-linecap="round" fill="none"/><path d="M498.9 349.6L498.5 352.6M484.3 226.8L486.9 228.3" stroke="#e00000" stroke-width="3.5" stroke-linecap="round" fill="none"/><path d="M210.3 272.7L212.9 271.3M330.2 121.5L333.1 120.7L336.0 120.1M377.6 114.7L380.6 114.4L383.6 114.2L386.6 114.0L389.6 113.7" stroke="#eb0aeb" stroke-width="3.5" stroke-linecap="round" fill="none"/><path d="M203.3 272.3L205.6 270.4" stroke="#e00000" stroke-width="3.5" stroke-linecap="round" fill="none"/><path d="M206.4 271.3L208.8 269.5" stroke="#10f4f4" stroke-width="3.5" stroke-linecap="round" fill="none"/><path d="M496.2 227.0L499.1 227.9M327.3 122.4L330.2 121.5M389.6 113.7L392.6 113.5L395.6 113.3" stroke="#eb0aeb" stroke-width="3.5" stroke-linecap="round" fill="none"/><path d="M500.7 350.7L499.9 353.6M206.5 272.2L208.9 270.4M343.7 119.2L346.6 118.8L349.6 118.4L352.6 118.0" stroke="#0aeb0a" stroke-width="3.5" stroke-linecap="round" fill="none"/><path d="M486.3 227.0L488.9 228.4" stroke="#10f4f4" stroke-width="3.5" stroke-linecap="round" fill="none"/><path d="M207.9 271.0L210.3 269.2M485.4 226.6L488.1 228.0" stroke="#0000e6" stroke-width="3.5" stroke-linecap="round" fill="none"/><path d="M215.8 268.9L218.5 267.1" stroke="#000" stroke-width="3.3" fill="none"/><path d="M207.8 274.5L210.3 272.7M324.4 123.3L327.3 122.4M395.6 113.3L398.6 113.2L401.6 113.0L404.6 112.9" stroke="#eb0aeb" stroke-width="3.5" stroke-linecap="round" fill="none"/><path d="M486.0 228.1L488.5 229.8M328.9 121.6L331.8 121.1L334.8 120.5L337.7 120.0L340.7 119.6L343.7 119.2M352.6 118.0L355.6 117.7L358.6 117.4L361.5 117.1L364.5 116.8L367.5 116.6L370.5 116.3" stroke="#0aeb0a" stroke-width="3.5" stroke-linecap="round" fill="none"/><path d="M321.6 124.3L324.4 123.3M404.6 112.9L407.6 112.8" stroke="#eb0aeb" stroke-width="3.5" stroke-linecap="round" fill="none"/><path d="M204.1 274.1L206.5 272.2M320.0 123.4L323.0 122.8L325.9 122.2L328.9 121.6M370.5 116.3L373.5 116.1L376.5 115.8L379.5 115.5L382.5 115.3" stroke="#0aeb0a" stroke-width="3.5" stroke-linecap="round" fill="none"/><path d="M201.0 274.2L203.3 272.3M330.5 121.8L333.4 121.3L336.4 120.8L339.4 120.3L342.3 119.9L345.3 119.5L348.3 119.1L351.3 118.7L354.3 118.4L357.2 118.1L360.2 117.8L363.2 117.5L366.2 117.2" stroke="#e00000" stroke-width="3.5" stroke-linecap="round" fill="none"/><path d="M204.0 273.1L206.4 271.3M331.5 121.1L334.5 120.6L337.4 120.1L340.4 119.6L343.4 119.2L346.4 118.8L349.3 118.4L352.3 118.1L355.3 117.7L358.3 117.4L361.3 117.1L364.3 116.9L367.3 116.6" stroke="#10f4f4" stroke-width="3.5" stroke-linecap="round" fill="none"/><path d="M498.1 350.2L497.3 353.1M205.6 272.8L207.9 271.0" stroke="#0000e6" stroke-width="3.5" stroke-linecap="round" fill="none"/><path d="M510.2 352.2L508.6 354.6M499.1 227.9L501.8 229.2M318.7 125.1L321.6 124.3M407.6 112.8L410.6 112.7L413.6 112.6" stroke="#eb0aeb" stroke-width="3.5" stroke-linecap="round" fill="none"/><path d="M314.2 124.6L317.1 124.0L320.0 123.4M382.5 115.3L385.5 115.0L388.5 114.8L391.4 114.6" stroke="#0aeb0a" stroke-width="3.5" stroke-linecap="round" fill="none"/><path d="M486.9 228.3L489.4 229.9M321.6 123.4L324.6 122.8L327.5 122.3L330.5 121.8M366.2 117.2L369.2 116.9L372.2 116.7L375.2 116.4L378.2 116.2" stroke="#e00000" stroke-width="3.5" stroke-linecap="round" fill="none"/><path d="M495.4 351.7L494.7 354.6M322.7 122.8L325.6 122.2L328.6 121.7L331.5 121.1M367.3 116.6L370.3 116.3L373.2 116.1L376.2 115.8L379.2 115.6" stroke="#10f4f4" stroke-width="3.5" stroke-linecap="round" fill="none"/><path d="M205.4 276.3L207.8 274.5M312.9 126.6L315.8 125.9L318.7 125.1M413.6 112.6L416.6 112.5" stroke="#eb0aeb" stroke-width="3.5" stroke-linecap="round" fill="none"/><path d="M308.3 126.0L311.2 125.3L314.2 124.6M391.4 114.6L394.4 114.4L397.4 114.2" stroke="#0aeb0a" stroke-width="3.5" stroke-linecap="round" fill="none"/><path d="M312.8 125.2L315.7 124.6L318.7 124.0L321.6 123.4M378.2 116.2L381.2 115.9L384.2 115.7L387.1 115.4" stroke="#e00000" stroke-width="3.5" stroke-linecap="round" fill="none"/><path d="M201.7 275.0L204.0 273.1M488.9 228.4L491.5 230.0M316.8 124.0L319.7 123.4L322.7 122.8M379.2 115.6L382.2 115.3L385.2 115.1L388.2 114.9" stroke="#10f4f4" stroke-width="3.5" stroke-linecap="round" fill="none"/><path d="M488.1 228.0L490.6 229.5M331.6 121.9L334.6 121.4L337.5 120.9L340.5 120.4L343.5 120.0L346.4 119.7L349.4 119.3L352.4 119.0L355.4 118.7L358.4 118.4" stroke="#0000e6" stroke-width="3.5" stroke-linecap="round" fill="none"/><path d="M497.0 350.2L496.1 353.4M210.6 272.4L213.3 270.5" stroke="#000" stroke-width="3.3" fill="none"/><path d="M310.0 127.4L312.9 126.6M416.6 112.5L419.6 112.5L422.6 112.5" stroke="#eb0aeb" stroke-width="3.5" stroke-linecap="round" fill="none"/><path d="M201.7 276.0L204.1 274.1M305.4 126.8L308.3 126.0M397.4 114.2L400.4 114.1L403.4 113.9" stroke="#0aeb0a" stroke-width="3.5" stroke-linecap="round" fill="none"/><path d="M498.5 352.6L497.9 355.5M198.7 276.2L201.0 274.2M306.9 126.5L309.9 125.8L312.8 125.2M387.1 115.4L390.1 115.2L393.1 115.0L396.1 114.8" stroke="#e00000" stroke-width="3.5" stroke-linecap="round" fill="none"/><path d="M310.9 125.4L313.9 124.7L316.8 124.0M388.2 114.9L391.2 114.7L394.2 114.5L397.2 114.3" stroke="#10f4f4" stroke-width="3.5" stroke-linecap="round" fill="none"/><path d="M203.2 274.6L205.6 272.8M322.7 123.5L325.7 122.9L328.6 122.4L331.6 121.9M358.4 118.4L361.3 118.1L364.3 117.8L367.3 117.6L370.3 117.3L373.3 117.1" stroke="#0000e6" stroke-width="3.5" stroke-linecap="round" fill="none"/><path d="M483.2 228.5L486.1 230.2" stroke="#000" stroke-width="3.3" fill="none"/><path d="M203.1 278.1L205.4 276.3M422.6 112.5L425.6 112.4" stroke="#eb0aeb" stroke-width="3.5" stroke-linecap="round" fill="none"/><path d="M488.5 229.8L490.9 231.6M302.5 127.5L305.4 126.8M403.4 113.9L406.4 113.8L409.4 113.7" stroke="#0aeb0a" stroke-width="3.5" stroke-linecap="round" fill="none"/><path d="M304.0 127.2L306.9 126.5M396.1 114.8L399.1 114.6L402.1 114.5" stroke="#e00000" stroke-width="3.5" stroke-linecap="round" fill="none"/><path d="M305.1 126.8L308.0 126.1L310.9 125.4M397.2 114.3L400.2 114.2" stroke="#10f4f4" stroke-width="3.5" stroke-linecap="round" fill="none"/><path d="M316.9 124.7L319.8 124.1L322.7 123.5M373.3 117.1L376.3 116.8L379.3 116.6L382.3 116.3" stroke="#0000e6" stroke-width="3.5" stroke-linecap="round" fill="none"/><path d="M501.8 229.2L504.5 230.4M307.4 128.8L310.0 127.4M425.6 112.4L428.6 112.3L431.6 112.2" stroke="#eb0aeb" stroke-width="3.5" stroke-linecap="round" fill="none"/><path d="M199.4 277.9L201.7 276.0M296.7 129.1L299.6 128.3L302.5 127.5M409.4 113.7L412.4 113.6L415.4 113.5" stroke="#0aeb0a" stroke-width="3.5" stroke-linecap="round" fill="none"/><path d="M196.4 278.1L198.7 276.2M489.4 229.9L491.8 231.7M298.2 128.7L301.1 128.0L304.0 127.2M402.1 114.5L405.1 114.3L408.1 114.2" stroke="#e00000" stroke-width="3.5" stroke-linecap="round" fill="none"/><path d="M199.4 276.9L201.7 275.0M302.2 127.6L305.1 126.8M400.2 114.2L403.2 114.1L406.2 114.0" stroke="#10f4f4" stroke-width="3.5" stroke-linecap="round" fill="none"/><path d="M200.9 276.6L203.2 274.6M311.0 126.0L313.9 125.3L316.9 124.7M382.3 116.3L385.3 116.1L388.3 115.8L391.2 115.6" stroke="#0000e6" stroke-width="3.5" stroke-linecap="round" fill="none"/><path d="M508.6 354.6L505.9 355.9M431.6 112.2L434.6 112.1" stroke="#eb0aeb" stroke-width="3.5" stroke-linecap="round" fill="none"/><path d="M499.9 353.6L498.8 356.4M293.8 130.0L296.7 129.1M415.4 113.5L418.4 113.5" stroke="#0aeb0a" stroke-width="3.5" stroke-linecap="round" fill="none"/><path d="M295.3 129.5L298.2 128.7M408.1 114.2L411.1 114.1L414.1 114.1" stroke="#e00000" stroke-width="3.5" stroke-linecap="round" fill="none"/><path d="M299.3 128.4L302.2 127.6M406.2 114.0L409.2 114.0" stroke="#10f4f4" stroke-width="3.5" stroke-linecap="round" fill="none"/><path d="M490.6 229.5L493.1 231.2M305.2 127.4L308.1 126.7L311.0 126.0M391.2 115.6L394.2 115.5L397.2 115.3L400.2 115.2" stroke="#0000e6" stroke-width="3.5" stroke-linecap="round" fill="none"/><path d="M346.2 121.1L349.5 120.6M352.3 120.1L355.6 119.6M358.5 119.2L361.7 118.8M364.6 118.4L367.9 118.0M370.8 117.7L374.0 117.3M376.9 117.0L380.2 116.7" stroke="#000" stroke-width="3.3" fill="none"/><path d="M200.8 280.0L203.1 278.1M305.5 131.1L307.4 128.8M434.6 112.1L437.6 112.0L440.6 111.9" stroke="#eb0aeb" stroke-width="3.5" stroke-linecap="round" fill="none"/><path d="M291.0 130.9L293.8 130.0M418.4 113.5L421.4 113.5" stroke="#0aeb0a" stroke-width="3.5" stroke-linecap="round" fill="none"/><path d="M292.4 130.4L295.3 129.5M414.1 114.1L417.1 114.0" stroke="#e00000" stroke-width="3.5" stroke-linecap="round" fill="none"/><path d="M197.1 278.9L199.4 276.9M491.5 230.0L493.9 231.8M293.6 130.1L296.4 129.2L299.3 128.4M409.2 114.0L412.2 114.0L415.2 114.0" stroke="#10f4f4" stroke-width="3.5" stroke-linecap="round" fill="none"/><path d="M497.3 353.1L496.1 355.8M299.4 128.9L302.3 128.1L305.2 127.4M400.2 115.2L403.2 115.0" stroke="#0000e6" stroke-width="3.5" stroke-linecap="round" fill="none"/><path d="M205.7 276.1L208.3 274.1M334.0 123.4L337.3 122.8M340.1 122.2L343.4 121.6M383.1 116.5L386.4 116.2M389.3 116.1L392.6 115.9" stroke="#000" stroke-width="3.3" fill="none"/><path d="M505.9 355.9L503.1 356.9M504.5 230.4L507.2 231.8M440.6 111.9L443.6 111.8" stroke="#eb0aeb" stroke-width="3.5" stroke-linecap="round" fill="none"/><path d="M197.2 279.8L199.4 277.9M288.1 131.8L291.0 130.9M421.4 113.5L424.4 113.5L427.4 113.4" stroke="#0aeb0a" stroke-width="3.5" stroke-linecap="round" fill="none"/><path d="M194.2 280.2L196.4 278.1M289.5 131.2L292.4 130.4M417.1 114.0L420.1 114.0" stroke="#e00000" stroke-width="3.5" stroke-linecap="round" fill="none"/><path d="M290.7 131.0L293.6 130.1M415.2 114.0L418.2 114.0" stroke="#10f4f4" stroke-width="3.5" stroke-linecap="round" fill="none"/><path d="M198.6 278.5L200.9 276.6M296.5 129.7L299.4 128.9M403.2 115.0L406.2 114.9L409.2 114.9" stroke="#0000e6" stroke-width="3.5" stroke-linecap="round" fill="none"/><path d="M327.9 124.7L331.2 124.0M395.5 115.7L398.8 115.6" stroke="#000" stroke-width="3.3" fill="none"/><path d="M198.5 282.0L200.8 280.0M443.6 111.8L446.6 111.8" stroke="#eb0aeb" stroke-width="3.5" stroke-linecap="round" fill="none"/><path d="M490.9 231.6L493.1 233.6M285.3 132.7L288.1 131.8M427.4 113.4L430.4 113.4" stroke="#0aeb0a" stroke-width="3.5" stroke-linecap="round" fill="none"/><path d="M286.7 132.1L289.5 131.2M420.1 114.0L423.1 114.0" stroke="#e00000" stroke-width="3.5" stroke-linecap="round" fill="none"/><path d="M494.7 354.6L493.6 357.4M287.8 131.9L290.7 131.0M418.2 114.0L421.2 114.0" stroke="#10f4f4" stroke-width="3.5" stroke-linecap="round" fill="none"/><path d="M293.6 130.6L296.5 129.7M409.2 114.9L412.2 114.8" stroke="#0000e6" stroke-width="3.5" stroke-linecap="round" fill="none"/><path d="M321.9 126.0L325.1 125.3" stroke="#000" stroke-width="3.3" fill="none"/><path d="M503.1 356.9L500.1 357.6M446.6 111.8L449.6 111.7" stroke="#eb0aeb" stroke-width="3.5" stroke-linecap="round" fill="none"/><path d="M194.9 281.8L197.2 279.8M282.4 133.7L285.3 132.7M430.4 113.4L433.4 113.3" stroke="#0aeb0a" stroke-width="3.5" stroke-linecap="round" fill="none"/><path d="M497.9 355.5L497.0 358.4M491.8 231.7L494.1 233.7M283.8 133.0L286.7 132.1M423.1 114.0L426.1 114.0L429.1 114.0" stroke="#e00000" stroke-width="3.5" stroke-linecap="round" fill="none"/><path d="M194.9 280.9L197.1 278.9M285.0 132.8L287.8 131.9M421.2 114.0L424.2 114.0" stroke="#10f4f4" stroke-width="3.5" stroke-linecap="round" fill="none"/><path d="M196.4 280.5L198.6 278.5M290.7 131.4L293.6 130.6M412.2 114.8L415.2 114.8L418.2 114.8" stroke="#0000e6" stroke-width="3.5" stroke-linecap="round" fill="none"/><path d="M315.9 127.5L319.1 126.7M401.7 115.5L405.0 115.4" stroke="#000" stroke-width="3.3" fill="none"/><path d="M303.7 133.5L305.5 131.1M449.6 111.7L452.6 111.7" stroke="#eb0aeb" stroke-width="3.5" stroke-linecap="round" fill="none"/><path d="M279.6 134.6L282.4 133.7M433.4 113.3L436.4 113.2" stroke="#0aeb0a" stroke-width="3.5" stroke-linecap="round" fill="none"/><path d="M192.1 282.3L194.2 280.2M281.0 134.0L283.8 133.0M429.1 114.0L432.1 113.9" stroke="#e00000" stroke-width="3.5" stroke-linecap="round" fill="none"/><path d="M282.1 133.8L285.0 132.8M424.2 114.0L427.2 114.0L430.2 113.9" stroke="#10f4f4" stroke-width="3.5" stroke-linecap="round" fill="none"/><path d="M493.1 231.2L495.5 233.0M287.9 132.3L290.7 131.4M418.2 114.8L421.2 114.8" stroke="#0000e6" stroke-width="3.5" stroke-linecap="round" fill="none"/><path d="M407.9 115.4L411.2 115.3" stroke="#000" stroke-width="3.3" fill="none"/><path d="M500.1 357.6L497.2 358.3M196.2 284.0L198.5 282.0M452.6 111.7L455.6 111.6L458.6 111.6" stroke="#eb0aeb" stroke-width="3.5" stroke-linecap="round" fill="none"/><path d="M498.8 356.4L497.4 359.0M276.8 135.6L279.6 134.6M436.4 113.2L439.4 113.2L442.4 113.2" stroke="#0aeb0a" stroke-width="3.5" stroke-linecap="round" fill="none"/><path d="M278.1 134.9L281.0 134.0M432.1 113.9L435.1 113.9" stroke="#e00000" stroke-width="3.5" stroke-linecap="round" fill="none"/><path d="M493.9 231.8L496.2 233.7M279.3 134.8L282.1 133.8M430.2 113.9L433.2 113.8" stroke="#10f4f4" stroke-width="3.5" stroke-linecap="round" fill="none"/><path d="M285.0 133.2L287.9 132.3M421.2 114.8L424.2 114.9" stroke="#0000e6" stroke-width="3.5" stroke-linecap="round" fill="none"/><path d="M200.8 280.0L203.4 277.9M309.9 129.0L313.1 128.2" stroke="#000" stroke-width="3.3" fill="none"/><path d="M507.2 231.8L509.3 233.8M458.6 111.6L461.6 111.5" stroke="#eb0aeb" stroke-width="3.5" stroke-linecap="round" fill="none"/><path d="M192.7 283.9L194.9 281.8M273.9 136.7L276.8 135.6M442.4 113.2L445.4 113.2" stroke="#0aeb0a" stroke-width="3.5" stroke-linecap="round" fill="none"/><path d="M275.3 135.9L278.1 134.9M435.1 113.9L438.1 113.9" stroke="#e00000" stroke-width="3.5" stroke-linecap="round" fill="none"/><path d="M192.7 283.0L194.9 280.9M433.2 113.8L436.2 113.8" stroke="#10f4f4" stroke-width="3.5" stroke-linecap="round" fill="none"/><path d="M194.2 282.6L196.4 280.5M282.1 134.1L285.0 133.2M424.2 114.9L427.2 114.9" stroke="#0000e6" stroke-width="3.5" stroke-linecap="round" fill="none"/><path d="M488.4 231.8L491.0 234.0M303.9 130.6L307.1 129.7M414.1 115.4L417.4 115.4" stroke="#000" stroke-width="3.3" fill="none"/><path d="M497.2 358.3L494.4 359.3M301.5 135.5L303.7 133.5M461.6 111.5L464.6 111.5" stroke="#eb0aeb" stroke-width="3.5" stroke-linecap="round" fill="none"/><path d="M445.4 113.2L448.4 113.2" stroke="#0aeb0a" stroke-width="3.5" stroke-linecap="round" fill="none"/><path d="M189.9 284.4L192.1 282.3M272.4 136.9L275.3 135.9M438.1 113.9L441.2 113.9" stroke="#e00000" stroke-width="3.5" stroke-linecap="round" fill="none"/><path d="M276.5 135.8L279.3 134.8M436.2 113.8L439.2 113.7" stroke="#10f4f4" stroke-width="3.5" stroke-linecap="round" fill="none"/><path d="M496.1 355.8L494.5 358.4M279.3 135.1L282.1 134.1M427.2 114.9L430.2 115.0" stroke="#0000e6" stroke-width="3.5" stroke-linecap="round" fill="none"/><path d="M194.0 286.0L196.2 284.0M464.6 111.5L467.6 111.5" stroke="#eb0aeb" stroke-width="3.5" stroke-linecap="round" fill="none"/><path d="M493.1 233.6L495.3 235.7M271.1 137.7L273.9 136.7M448.4 113.2L451.4 113.3" stroke="#0aeb0a" stroke-width="3.5" stroke-linecap="round" fill="none"/><path d="M269.6 137.9L272.4 136.9M441.2 113.9L444.2 114.0" stroke="#e00000" stroke-width="3.5" stroke-linecap="round" fill="none"/><path d="M273.6 136.8L276.5 135.8M439.2 113.7L442.2 113.7L445.2 113.8" stroke="#10f4f4" stroke-width="3.5" stroke-linecap="round" fill="none"/><path d="M276.5 136.1L279.3 135.1M430.2 115.0L433.2 115.1" stroke="#0000e6" stroke-width="3.5" stroke-linecap="round" fill="none"/><path d="M297.9 132.3L301.1 131.4M420.3 115.5L423.6 115.6" stroke="#000" stroke-width="3.3" fill="none"/><path d="M467.6 111.5L470.6 111.6" stroke="#eb0aeb" stroke-width="3.5" stroke-linecap="round" fill="none"/><path d="M190.6 286.0L192.7 283.9M268.3 138.8L271.1 137.7M451.4 113.3L454.4 113.3" stroke="#0aeb0a" stroke-width="3.5" stroke-linecap="round" fill="none"/><path d="M494.1 233.7L496.0 236.0M266.8 138.9L269.6 137.9M444.2 114.0L447.2 114.0" stroke="#e00000" stroke-width="3.5" stroke-linecap="round" fill="none"/><path d="M493.6 357.4L492.2 360.0M190.5 285.1L192.7 283.0M270.8 137.9L273.6 136.8" stroke="#10f4f4" stroke-width="3.5" stroke-linecap="round" fill="none"/><path d="M192.0 284.7L194.2 282.6M495.5 233.0L497.7 235.0M273.6 137.1L276.5 136.1M433.2 115.1L436.2 115.3" stroke="#0000e6" stroke-width="3.5" stroke-linecap="round" fill="none"/><path d="M494.8 356.0L493.1 358.8M292.0 134.1L295.1 133.1" stroke="#000" stroke-width="3.3" fill="none"/><path d="M494.4 359.3L491.7 360.6M191.9 288.1L194.0 286.0M298.8 136.9L301.5 135.5" stroke="#eb0aeb" stroke-width="3.5" stroke-linecap="round" fill="none"/><path d="M265.5 139.9L268.3 138.8M454.4 113.3L457.4 113.3" stroke="#0aeb0a" stroke-width="3.5" stroke-linecap="round" fill="none"/><path d="M497.0 358.4L495.7 361.1M187.9 286.6L189.9 284.4M264.0 139.9L266.8 138.9M447.2 114.0L450.2 114.1" stroke="#e00000" stroke-width="3.5" stroke-linecap="round" fill="none"/><path d="M496.2 233.7L498.4 235.7M268.0 138.9L270.8 137.9M445.2 113.8L448.2 113.9" stroke="#10f4f4" stroke-width="3.5" stroke-linecap="round" fill="none"/><path d="M270.8 138.1L273.6 137.1M436.2 115.3L439.2 115.4" stroke="#0000e6" stroke-width="3.5" stroke-linecap="round" fill="none"/><path d="M196.1 284.1L198.6 281.9M426.5 115.7L429.8 115.9" stroke="#000" stroke-width="3.3" fill="none"/><path d="M509.3 233.8L510.1 236.7M470.6 111.6L473.6 111.7" stroke="#eb0aeb" stroke-width="3.5" stroke-linecap="round" fill="none"/><path d="M262.8 141.1L265.5 139.9M457.4 113.3L460.4 113.4" stroke="#0aeb0a" stroke-width="3.5" stroke-linecap="round" fill="none"/><path d="M261.1 140.9L264.0 139.9M450.2 114.1L453.2 114.1" stroke="#e00000" stroke-width="3.5" stroke-linecap="round" fill="none"/><path d="M188.5 287.2L190.5 285.1M265.2 140.0L268.0 138.9M448.2 113.9L451.2 114.1" stroke="#10f4f4" stroke-width="3.5" stroke-linecap="round" fill="none"/><path d="M268.0 139.1L270.8 138.1" stroke="#0000e6" stroke-width="3.5" stroke-linecap="round" fill="none"/><path d="M286.1 136.0L289.2 135.0" stroke="#000" stroke-width="3.3" fill="none"/><path d="M296.1 138.2L298.8 136.9M473.6 111.7L476.6 111.8" stroke="#eb0aeb" stroke-width="3.5" stroke-linecap="round" fill="none"/><path d="M497.4 359.0L495.6 361.5M188.5 288.2L190.6 286.0M460.4 113.4L463.4 113.5" stroke="#0aeb0a" stroke-width="3.5" stroke-linecap="round" fill="none"/><path d="M258.3 141.8L261.1 140.9M453.2 114.1L456.2 114.1" stroke="#e00000" stroke-width="3.5" stroke-linecap="round" fill="none"/><path d="M451.2 114.1L454.2 114.3" stroke="#10f4f4" stroke-width="3.5" stroke-linecap="round" fill="none"/><path d="M190.0 286.8L192.0 284.7M265.2 140.2L268.0 139.1M439.2 115.4L442.2 115.6" stroke="#0000e6" stroke-width="3.5" stroke-linecap="round" fill="none"/><path d="M189.8 290.3L191.9 288.1M293.4 139.4L296.1 138.2M476.6 111.8L479.6 112.0" stroke="#eb0aeb" stroke-width="3.5" stroke-linecap="round" fill="none"/><path d="M495.3 235.7L497.8 237.2M260.0 142.2L262.8 141.1" stroke="#0aeb0a" stroke-width="3.5" stroke-linecap="round" fill="none"/><path d="M185.9 288.8L187.9 286.6M255.4 142.7L258.3 141.8M456.2 114.1L459.2 114.1" stroke="#e00000" stroke-width="3.5" stroke-linecap="round" fill="none"/><path d="M262.4 141.1L265.2 140.0" stroke="#10f4f4" stroke-width="3.5" stroke-linecap="round" fill="none"/><path d="M494.5 358.4L492.8 360.8M442.2 115.6L445.2 115.8" stroke="#0000e6" stroke-width="3.5" stroke-linecap="round" fill="none"/><path d="M432.7 116.1L435.9 116.4" stroke="#000" stroke-width="3.3" fill="none"/><path d="M479.6 112.0L482.6 112.2" stroke="#eb0aeb" stroke-width="3.5" stroke-linecap="round" fill="none"/><path d="M257.2 143.4L260.0 142.2M463.4 113.5L466.4 113.6" stroke="#0aeb0a" stroke-width="3.5" stroke-linecap="round" fill="none"/><path d="M252.5 143.6L255.4 142.7M459.2 114.1L462.2 114.1" stroke="#e00000" stroke-width="3.5" stroke-linecap="round" fill="none"/><path d="M186.5 289.5L188.5 287.2M259.6 142.2L262.4 141.1M454.2 114.3L457.2 114.6" stroke="#10f4f4" stroke-width="3.5" stroke-linecap="round" fill="none"/><path d="M262.4 141.3L265.2 140.2M445.2 115.8L448.2 116.0" stroke="#0000e6" stroke-width="3.5" stroke-linecap="round" fill="none"/><path d="M280.2 138.0L283.3 136.9" stroke="#000" stroke-width="3.3" fill="none"/><path d="M491.7 360.6L489.7 362.8M290.6 140.5L293.4 139.4" stroke="#eb0aeb" stroke-width="3.5" stroke-linecap="round" fill="none"/><path d="M186.5 290.4L188.5 288.2M254.4 144.5L257.2 143.4M466.4 113.6L469.4 113.8" stroke="#0aeb0a" stroke-width="3.5" stroke-linecap="round" fill="none"/><path d="M496.0 236.0L497.1 238.7M249.7 144.6L252.5 143.6M462.2 114.1L465.2 114.2" stroke="#e00000" stroke-width="3.5" stroke-linecap="round" fill="none"/><path d="M492.2 360.0L490.4 362.5M256.9 143.3L259.6 142.2M457.2 114.6L460.2 114.8" stroke="#10f4f4" stroke-width="3.5" stroke-linecap="round" fill="none"/><path d="M187.9 289.0L190.0 286.8M497.7 235.0L499.6 237.4M259.6 142.4L262.4 141.3M448.2 116.0L451.2 116.2" stroke="#0000e6" stroke-width="3.5" stroke-linecap="round" fill="none"/><path d="M187.8 292.5L189.8 290.3M287.8 141.5L290.6 140.5M482.6 112.2L485.6 112.4" stroke="#eb0aeb" stroke-width="3.5" stroke-linecap="round" fill="none"/><path d="M251.5 145.3L254.4 144.5M469.4 113.8L472.4 114.0" stroke="#0aeb0a" stroke-width="3.5" stroke-linecap="round" fill="none"/><path d="M183.9 291.1L185.9 288.8M246.8 145.5L249.7 144.6M465.2 114.2L468.2 114.4" stroke="#e00000" stroke-width="3.5" stroke-linecap="round" fill="none"/><path d="M498.4 235.7L500.0 238.3" stroke="#10f4f4" stroke-width="3.5" stroke-linecap="round" fill="none"/><path d="M256.8 143.5L259.6 142.4" stroke="#0000e6" stroke-width="3.5" stroke-linecap="round" fill="none"/><path d="M191.7 288.4L194.0 286.0M274.4 140.1L277.5 138.9M438.8 116.7L442.1 117.1" stroke="#000" stroke-width="3.3" fill="none"/><path d="M246.7 147.5L249.7 147.0M284.9 142.5L287.8 141.5M485.6 112.4L488.6 112.6" stroke="#eb0aeb" stroke-width="3.5" stroke-linecap="round" fill="none"/><path d="M239.7 147.1L242.7 146.7L245.6 146.3L248.6 145.9L251.5 145.3" stroke="#0aeb0a" stroke-width="3.5" stroke-linecap="round" fill="none"/><path d="M495.7 361.1L494.2 363.7M244.0 146.5L246.8 145.5M468.2 114.4L471.2 114.6" stroke="#e00000" stroke-width="3.5" stroke-linecap="round" fill="none"/><path d="M184.5 291.8L186.5 289.5M254.1 144.5L256.9 143.3M460.2 114.8L463.2 115.2" stroke="#10f4f4" stroke-width="3.5" stroke-linecap="round" fill="none"/><path d="M451.2 116.2L454.2 116.4" stroke="#0000e6" stroke-width="3.5" stroke-linecap="round" fill="none"/><path d="M510.1 236.7L509.5 239.4M240.8 148.8L243.7 148.1L246.7 147.5M249.7 147.0L252.6 146.9M282.0 143.3L284.9 142.5" stroke="#eb0aeb" stroke-width="3.5" stroke-linecap="round" fill="none"/><path d="M495.6 361.5L493.7 363.8M184.5 292.6L186.5 290.4M497.8 237.2L498.5 239.7M230.9 149.1L233.8 148.4L236.7 147.7L239.7 147.1M472.4 114.0L475.4 114.2" stroke="#0aeb0a" stroke-width="3.5" stroke-linecap="round" fill="none"/><path d="M241.2 147.6L244.0 146.5" stroke="#e00000" stroke-width="3.5" stroke-linecap="round" fill="none"/><path d="M251.3 145.7L254.1 144.5M463.2 115.2L466.2 115.5" stroke="#10f4f4" stroke-width="3.5" stroke-linecap="round" fill="none"/><path d="M186.0 291.3L187.9 289.0M254.0 144.6L256.8 143.5M454.2 116.4L457.2 116.5" stroke="#0000e6" stroke-width="3.5" stroke-linecap="round" fill="none"/><path d="M493.0 236.0L494.9 238.7M268.5 142.2L271.6 141.1" stroke="#000" stroke-width="3.3" fill="none"/><path d="M185.8 294.8L187.8 292.5M235.0 150.2L237.9 149.5L240.8 148.8M252.6 146.9L255.5 147.8M276.2 144.8L279.1 144.1L282.0 143.3M488.6 112.6L491.5 113.0" stroke="#eb0aeb" stroke-width="3.5" stroke-linecap="round" fill="none"/><path d="M225.1 150.4L228.0 149.7L230.9 149.1M475.4 114.2L478.4 114.4" stroke="#0aeb0a" stroke-width="3.5" stroke-linecap="round" fill="none"/><path d="M182.0 293.4L183.9 291.1M471.2 114.6L474.2 114.9" stroke="#e00000" stroke-width="3.5" stroke-linecap="round" fill="none"/><path d="M248.6 146.9L251.3 145.7" stroke="#10f4f4" stroke-width="3.5" stroke-linecap="round" fill="none"/><path d="M492.8 360.8L490.8 363.1M251.3 145.8L254.0 144.6M457.2 116.5L460.2 116.8" stroke="#0000e6" stroke-width="3.5" stroke-linecap="round" fill="none"/><path d="M445.0 117.4L448.3 117.9" stroke="#000" stroke-width="3.3" fill="none"/><path d="M489.7 362.8L487.5 364.9M223.2 152.3L226.1 151.7L229.1 151.2L232.0 150.7L235.0 150.2M255.5 147.8L258.5 147.9M270.4 146.1L273.3 145.4L276.2 144.8" stroke="#eb0aeb" stroke-width="3.5" stroke-linecap="round" fill="none"/><path d="M222.2 151.2L225.1 150.4" stroke="#0aeb0a" stroke-width="3.5" stroke-linecap="round" fill="none"/><path d="M238.5 148.8L241.2 147.6" stroke="#e00000" stroke-width="3.5" stroke-linecap="round" fill="none"/><path d="M466.2 115.5L469.2 115.9" stroke="#10f4f4" stroke-width="3.5" stroke-linecap="round" fill="none"/><path d="M248.5 147.0L251.3 145.8" stroke="#0000e6" stroke-width="3.5" stroke-linecap="round" fill="none"/><path d="M220.3 153.0L223.2 152.3M258.5 147.9L261.5 147.7L264.5 147.3L267.4 146.7L270.4 146.1M491.5 113.0L494.5 113.3" stroke="#eb0aeb" stroke-width="3.5" stroke-linecap="round" fill="none"/><path d="M182.6 294.9L184.5 292.6M219.3 152.2L222.2 151.2M478.4 114.4L481.4 114.7" stroke="#0aeb0a" stroke-width="3.5" stroke-linecap="round" fill="none"/><path d="M235.7 150.1L238.5 148.8M474.2 114.9L477.1 115.2" stroke="#e00000" stroke-width="3.5" stroke-linecap="round" fill="none"/><path d="M490.4 362.5L488.5 364.7M182.6 294.1L184.5 291.8M245.8 148.1L248.6 146.9" stroke="#10f4f4" stroke-width="3.5" stroke-linecap="round" fill="none"/><path d="M184.1 293.6L186.0 291.3M499.6 237.4L500.6 240.2M460.2 116.8L463.2 117.0" stroke="#0000e6" stroke-width="3.5" stroke-linecap="round" fill="none"/><path d="M262.8 144.5L265.8 143.3" stroke="#000" stroke-width="3.3" fill="none"/><path d="M183.9 297.1L185.8 294.8M217.4 154.0L220.3 153.0M494.5 113.3L497.5 113.5" stroke="#eb0aeb" stroke-width="3.5" stroke-linecap="round" fill="none"/><path d="M216.6 153.4L219.3 152.2M481.4 114.7L484.4 115.0" stroke="#0aeb0a" stroke-width="3.5" stroke-linecap="round" fill="none"/><path d="M180.2 295.8L182.0 293.4M477.1 115.2L480.1 115.5" stroke="#e00000" stroke-width="3.5" stroke-linecap="round" fill="none"/><path d="M243.1 149.4L245.8 148.1M469.2 115.9L472.2 116.3" stroke="#10f4f4" stroke-width="3.5" stroke-linecap="round" fill="none"/><path d="M245.8 148.2L248.5 147.0" stroke="#0000e6" stroke-width="3.5" stroke-linecap="round" fill="none"/><path d="M491.3 361.0L489.0 363.4M187.4 292.9L189.7 290.5" stroke="#000" stroke-width="3.3" fill="none"/><path d="M509.5 239.4L507.2 241.4M214.8 155.5L217.4 154.0" stroke="#eb0aeb" stroke-width="3.5" stroke-linecap="round" fill="none"/><path d="M493.7 363.8L491.6 366.0" stroke="#0aeb0a" stroke-width="3.5" stroke-linecap="round" fill="none"/><path d="M494.2 363.7L492.5 366.2M497.1 238.7L497.5 241.7M233.1 151.4L235.7 150.1" stroke="#e00000" stroke-width="3.5" stroke-linecap="round" fill="none"/><path d="M500.0 238.3L500.8 241.1M472.2 116.3L475.1 116.6" stroke="#10f4f4" stroke-width="3.5" stroke-linecap="round" fill="none"/><path d="M243.1 149.5L245.8 148.2M463.2 117.0L466.1 117.4" stroke="#0000e6" stroke-width="3.5" stroke-linecap="round" fill="none"/><path d="M451.1 118.3L454.4 118.9" stroke="#000" stroke-width="3.3" fill="none"/><path d="M497.5 113.5L500.5 113.8" stroke="#eb0aeb" stroke-width="3.5" stroke-linecap="round" fill="none"/><path d="M180.8 297.3L182.6 294.9M498.5 239.7L497.0 242.2M213.9 154.8L216.6 153.4M484.4 115.0L487.4 115.4" stroke="#0aeb0a" stroke-width="3.5" stroke-linecap="round" fill="none"/><path d="M230.4 152.8L233.1 151.4M480.1 115.5L483.1 115.9" stroke="#e00000" stroke-width="3.5" stroke-linecap="round" fill="none"/><path d="M180.8 296.5L182.6 294.1M240.3 150.6L243.1 149.4" stroke="#10f4f4" stroke-width="3.5" stroke-linecap="round" fill="none"/><path d="M182.2 296.0L184.1 293.6M466.1 117.4L469.1 117.9" stroke="#0000e6" stroke-width="3.5" stroke-linecap="round" fill="none"/><path d="M257.1 146.9L260.1 145.6" stroke="#000" stroke-width="3.3" fill="none"/><path d="M487.5 364.9L485.2 366.8M212.4 157.2L214.8 155.5M500.5 113.8L503.5 114.1" stroke="#eb0aeb" stroke-width="3.5" stroke-linecap="round" fill="none"/><path d="M237.6 151.8L240.3 150.6M475.1 116.6L478.1 116.9" stroke="#10f4f4" stroke-width="3.5" stroke-linecap="round" fill="none"/><path d="M490.8 363.1L488.7 365.2M240.4 150.8L243.1 149.5" stroke="#0000e6" stroke-width="3.5" stroke-linecap="round" fill="none"/><path d="M182.1 299.5L183.9 297.1" stroke="#eb0aeb" stroke-width="3.5" stroke-linecap="round" fill="none"/><path d="M211.3 156.3L213.9 154.8M487.4 115.4L490.3 115.8" stroke="#0aeb0a" stroke-width="3.5" stroke-linecap="round" fill="none"/><path d="M178.4 298.2L180.2 295.8M227.7 154.2L230.4 152.8M483.1 115.9L486.0 116.5" stroke="#e00000" stroke-width="3.5" stroke-linecap="round" fill="none"/><path d="M507.2 241.4L505.0 243.4M503.5 114.1L506.5 114.5" stroke="#eb0aeb" stroke-width="3.5" stroke-linecap="round" fill="none"/><path d="M488.5 364.7L486.4 366.9M179.1 299.0L180.8 296.5M234.9 153.0L237.6 151.8M478.1 116.9L481.1 117.3" stroke="#10f4f4" stroke-width="3.5" stroke-linecap="round" fill="none"/><path d="M180.5 298.4L182.2 296.0M237.7 152.1L240.4 150.8M469.1 117.9L472.0 118.6" stroke="#0000e6" stroke-width="3.5" stroke-linecap="round" fill="none"/><path d="M251.4 149.4L254.4 148.0M457.2 119.5L460.4 120.2" stroke="#000" stroke-width="3.3" fill="none"/><path d="M210.1 159.2L212.4 157.2M506.5 114.5L509.4 115.0" stroke="#eb0aeb" stroke-width="3.5" stroke-linecap="round" fill="none"/><path d="M179.0 299.7L180.8 297.3M208.8 157.9L211.3 156.3M490.3 115.8L493.3 116.2" stroke="#0aeb0a" stroke-width="3.5" stroke-linecap="round" fill="none"/><path d="M225.1 155.7L227.7 154.2M486.0 116.5L489.0 117.2" stroke="#e00000" stroke-width="3.5" stroke-linecap="round" fill="none"/><path d="M232.1 154.2L234.9 153.0" stroke="#10f4f4" stroke-width="3.5" stroke-linecap="round" fill="none"/><path d="M500.6 240.2L501.2 243.1M235.0 153.5L237.7 152.1" stroke="#0000e6" stroke-width="3.5" stroke-linecap="round" fill="none"/><path d="M180.4 302.0L182.1 299.5" stroke="#eb0aeb" stroke-width="3.5" stroke-linecap="round" fill="none"/><path d="M491.6 366.0L489.4 368.0M497.0 242.2L494.8 244.2" stroke="#0aeb0a" stroke-width="3.5" stroke-linecap="round" fill="none"/><path d="M492.5 366.2L490.7 368.6M176.8 300.7L178.4 298.2" stroke="#e00000" stroke-width="3.5" stroke-linecap="round" fill="none"/><path d="M481.1 117.3L484.1 117.7" stroke="#10f4f4" stroke-width="3.5" stroke-linecap="round" fill="none"/><path d="M472.0 118.6L474.9 119.3" stroke="#0000e6" stroke-width="3.5" stroke-linecap="round" fill="none"/><path d="M183.5 297.7L185.6 295.1" stroke="#000" stroke-width="3.3" fill="none"/><path d="M485.2 366.8L482.9 368.7M509.4 115.0L512.4 115.6" stroke="#eb0aeb" stroke-width="3.5" stroke-linecap="round" fill="none"/><path d="M206.2 159.5L208.8 157.9M493.3 116.2L496.3 116.5" stroke="#0aeb0a" stroke-width="3.5" stroke-linecap="round" fill="none"/><path d="M497.5 241.7L497.5 244.7M222.5 157.1L225.1 155.7" stroke="#e00000" stroke-width="3.5" stroke-linecap="round" fill="none"/><path d="M500.8 241.1L501.4 244.1M229.4 155.5L232.1 154.2" stroke="#10f4f4" stroke-width="3.5" stroke-linecap="round" fill="none"/><path d="M488.7 365.2L486.5 367.3M232.3 154.9L235.0 153.5" stroke="#0000e6" stroke-width="3.5" stroke-linecap="round" fill="none"/><path d="M245.8 152.0L248.7 150.6" stroke="#000" stroke-width="3.3" fill="none"/><path d="M208.0 161.3L210.1 159.2" stroke="#eb0aeb" stroke-width="3.5" stroke-linecap="round" fill="none"/><path d="M177.3 302.2L179.0 299.7M496.3 116.5L499.3 116.9" stroke="#0aeb0a" stroke-width="3.5" stroke-linecap="round" fill="none"/><path d="M489.0 117.2L491.8 118.1" stroke="#e00000" stroke-width="3.5" stroke-linecap="round" fill="none"/><path d="M177.5 301.5L179.1 299.0M226.7 156.8L229.4 155.5M484.1 117.7L487.0 118.3" stroke="#10f4f4" stroke-width="3.5" stroke-linecap="round" fill="none"/><path d="M178.8 300.9L180.5 298.4" stroke="#0000e6" stroke-width="3.5" stroke-linecap="round" fill="none"/><path d="M178.8 304.5L180.4 302.0M505.0 243.4L502.9 245.6M512.4 115.6L515.3 116.4" stroke="#eb0aeb" stroke-width="3.5" stroke-linecap="round" fill="none"/><path d="M203.8 161.2L206.2 159.5" stroke="#0aeb0a" stroke-width="3.5" stroke-linecap="round" fill="none"/><path d="M219.9 158.6L222.5 157.1" stroke="#e00000" stroke-width="3.5" stroke-linecap="round" fill="none"/><path d="M486.4 366.9L484.1 368.9" stroke="#10f4f4" stroke-width="3.5" stroke-linecap="round" fill="none"/><path d="M229.7 156.3L232.3 154.9M474.9 119.3L477.8 120.1" stroke="#0000e6" stroke-width="3.5" stroke-linecap="round" fill="none"/><path d="M496.2 241.3L497.2 244.4M463.3 120.9L466.4 121.7" stroke="#000" stroke-width="3.3" fill="none"/><path d="M499.3 116.9L502.3 117.2" stroke="#0aeb0a" stroke-width="3.5" stroke-linecap="round" fill="none"/><path d="M175.2 303.3L176.8 300.7" stroke="#e00000" stroke-width="3.5" stroke-linecap="round" fill="none"/><path d="M224.0 158.1L226.7 156.8M487.0 118.3L489.9 119.0" stroke="#10f4f4" stroke-width="3.5" stroke-linecap="round" fill="none"/><path d="M486.9 365.4L484.4 367.5M240.2 154.7L243.1 153.2" stroke="#000" stroke-width="3.3" fill="none"/><path d="M205.9 163.4L208.0 161.3M515.3 116.4L518.2 117.0" stroke="#eb0aeb" stroke-width="3.5" stroke-linecap="round" fill="none"/><path d="M489.4 368.0L487.1 369.9M201.4 163.0L203.8 161.2M502.3 117.2L505.2 117.6" stroke="#0aeb0a" stroke-width="3.5" stroke-linecap="round" fill="none"/><path d="M217.3 160.2L219.9 158.6M491.8 118.1L494.6 119.1" stroke="#e00000" stroke-width="3.5" stroke-linecap="round" fill="none"/><path d="M176.0 304.1L177.5 301.5" stroke="#10f4f4" stroke-width="3.5" stroke-linecap="round" fill="none"/><path d="M177.3 303.5L178.8 300.9M227.1 157.8L229.7 156.3M477.8 120.1L480.7 121.0" stroke="#0000e6" stroke-width="3.5" stroke-linecap="round" fill="none"/><path d="M175.8 304.8L177.3 302.2" stroke="#0aeb0a" stroke-width="3.5" stroke-linecap="round" fill="none"/><path d="M490.7 368.6L488.7 370.8" stroke="#e00000" stroke-width="3.5" stroke-linecap="round" fill="none"/><path d="M221.3 159.5L224.0 158.1" stroke="#10f4f4" stroke-width="3.5" stroke-linecap="round" fill="none"/><path d="M486.5 367.3L484.2 369.1" stroke="#0000e6" stroke-width="3.5" stroke-linecap="round" fill="none"/><path d="M179.9 302.7L181.8 300.0" stroke="#000" stroke-width="3.3" fill="none"/><path d="M482.9 368.7L481.9 371.0M177.3 307.1L178.8 304.5M518.2 117.0L521.2 117.6" stroke="#eb0aeb" stroke-width="3.5" stroke-linecap="round" fill="none"/><path d="M494.8 244.2L493.8 247.0M505.2 117.6L508.2 118.2" stroke="#0aeb0a" stroke-width="3.5" stroke-linecap="round" fill="none"/><path d="M173.7 305.9L175.2 303.3M214.7 161.7L217.3 160.2" stroke="#e00000" stroke-width="3.5" stroke-linecap="round" fill="none"/><path d="M218.6 160.8L221.3 159.5M489.9 119.0L492.8 119.9" stroke="#10f4f4" stroke-width="3.5" stroke-linecap="round" fill="none"/><path d="M501.2 243.1L500.8 246.1M224.5 159.4L227.1 157.8" stroke="#0000e6" stroke-width="3.5" stroke-linecap="round" fill="none"/><path d="M502.9 245.6L502.2 248.4M203.8 165.6L205.9 163.4M521.2 117.6L524.1 118.1" stroke="#eb0aeb" stroke-width="3.5" stroke-linecap="round" fill="none"/><path d="M199.1 165.0L201.4 163.0" stroke="#0aeb0a" stroke-width="3.5" stroke-linecap="round" fill="none"/><path d="M494.6 119.1L497.4 120.3" stroke="#e00000" stroke-width="3.5" stroke-linecap="round" fill="none"/><path d="M484.1 368.9L481.8 370.8M501.4 244.1L501.7 247.1" stroke="#10f4f4" stroke-width="3.5" stroke-linecap="round" fill="none"/><path d="M234.7 157.6L237.6 156.0" stroke="#000" stroke-width="3.3" fill="none"/><path d="M174.3 307.4L175.8 304.8M508.2 118.2L511.1 118.8" stroke="#0aeb0a" stroke-width="3.5" stroke-linecap="round" fill="none"/><path d="M497.5 244.7L497.0 247.7M212.1 163.2L214.7 161.7" stroke="#e00000" stroke-width="3.5" stroke-linecap="round" fill="none"/><path d="M174.6 306.8L176.0 304.1M215.9 162.2L218.6 160.8" stroke="#10f4f4" stroke-width="3.5" stroke-linecap="round" fill="none"/><path d="M175.9 306.1L177.3 303.5M222.0 160.9L224.5 159.4M480.7 121.0L483.5 122.1" stroke="#0000e6" stroke-width="3.5" stroke-linecap="round" fill="none"/><path d="M469.2 122.6L472.4 123.6" stroke="#000" stroke-width="3.3" fill="none"/><path d="M175.9 309.7L177.3 307.1M524.1 118.1L527.0 118.7" stroke="#eb0aeb" stroke-width="3.5" stroke-linecap="round" fill="none"/><path d="M487.1 369.9L484.7 371.7" stroke="#0aeb0a" stroke-width="3.5" stroke-linecap="round" fill="none"/><path d="M209.4 164.5L212.1 163.2" stroke="#e00000" stroke-width="3.5" stroke-linecap="round" fill="none"/><path d="M492.8 119.9L495.6 120.9" stroke="#10f4f4" stroke-width="3.5" stroke-linecap="round" fill="none"/><path d="M201.7 167.7L203.8 165.6M527.0 118.7L530.0 119.3" stroke="#eb0aeb" stroke-width="3.5" stroke-linecap="round" fill="none"/><path d="M196.9 167.0L199.1 165.0M511.1 118.8L514.0 119.7" stroke="#0aeb0a" stroke-width="3.5" stroke-linecap="round" fill="none"/><path d="M488.7 370.8L486.5 372.8M172.4 308.6L173.7 305.9" stroke="#e00000" stroke-width="3.5" stroke-linecap="round" fill="none"/><path d="M213.3 163.6L215.9 162.2" stroke="#10f4f4" stroke-width="3.5" stroke-linecap="round" fill="none"/><path d="M484.2 369.1L481.7 370.9M219.5 162.5L222.0 160.9" stroke="#0000e6" stroke-width="3.5" stroke-linecap="round" fill="none"/><path d="M229.2 160.5L232.1 158.9" stroke="#000" stroke-width="3.3" fill="none"/><path d="M481.9 371.0L484.2 372.8" stroke="#eb0aeb" stroke-width="3.5" stroke-linecap="round" fill="none"/><path d="M206.7 165.7L209.4 164.5M497.4 120.3L500.2 121.4" stroke="#e00000" stroke-width="3.5" stroke-linecap="round" fill="none"/><path d="M173.4 309.5L174.6 306.8M210.7 165.0L213.3 163.6" stroke="#10f4f4" stroke-width="3.5" stroke-linecap="round" fill="none"/><path d="M483.5 122.1L486.3 123.2" stroke="#0000e6" stroke-width="3.5" stroke-linecap="round" fill="none"/><path d="M173.3 311.2L175.9 309.7M530.0 119.3L532.9 120.0" stroke="#eb0aeb" stroke-width="3.5" stroke-linecap="round" fill="none"/><path d="M172.9 310.1L174.3 307.4" stroke="#0aeb0a" stroke-width="3.5" stroke-linecap="round" fill="none"/><path d="M203.9 166.9L206.7 165.7" stroke="#e00000" stroke-width="3.5" stroke-linecap="round" fill="none"/><path d="M481.8 370.8L479.4 372.6M495.6 120.9L498.5 121.9" stroke="#10f4f4" stroke-width="3.5" stroke-linecap="round" fill="none"/><path d="M174.5 308.8L175.9 306.1M216.9 164.2L219.5 162.5" stroke="#0000e6" stroke-width="3.5" stroke-linecap="round" fill="none"/><path d="M482.1 369.3L479.3 371.2M176.8 308.1L178.4 305.2" stroke="#000" stroke-width="3.3" fill="none"/><path d="M199.5 169.8L201.7 167.7" stroke="#eb0aeb" stroke-width="3.5" stroke-linecap="round" fill="none"/><path d="M484.7 371.7L482.3 373.4M493.8 247.0L492.9 249.9M194.7 169.0L196.9 167.0M514.0 119.7L516.9 120.5" stroke="#0aeb0a" stroke-width="3.5" stroke-linecap="round" fill="none"/><path d="M208.1 166.6L210.7 165.0" stroke="#10f4f4" stroke-width="3.5" stroke-linecap="round" fill="none"/><path d="M500.8 246.1L500.0 249.0" stroke="#0000e6" stroke-width="3.5" stroke-linecap="round" fill="none"/><path d="M170.5 312.2L173.3 311.2M502.2 248.4L502.3 251.4M532.9 120.0L535.7 121.1" stroke="#eb0aeb" stroke-width="3.5" stroke-linecap="round" fill="none"/><path d="M171.1 311.3L172.4 308.6M201.3 168.3L203.9 166.9M500.2 121.4L503.0 122.6" stroke="#e00000" stroke-width="3.5" stroke-linecap="round" fill="none"/><path d="M501.7 247.1L501.4 250.1" stroke="#10f4f4" stroke-width="3.5" stroke-linecap="round" fill="none"/><path d="M481.7 370.9L479.2 372.6M214.5 165.9L216.9 164.2M486.3 123.2L489.0 124.4" stroke="#0000e6" stroke-width="3.5" stroke-linecap="round" fill="none"/><path d="M223.9 163.7L226.7 162.0M475.1 124.6L478.1 125.8" stroke="#000" stroke-width="3.3" fill="none"/><path d="M484.2 372.8L486.9 374.2M167.7 313.2L170.5 312.2" stroke="#eb0aeb" stroke-width="3.5" stroke-linecap="round" fill="none"/><path d="M171.7 312.8L172.9 310.1M192.5 171.1L194.7 169.0M516.9 120.5L519.8 121.2" stroke="#0aeb0a" stroke-width="3.5" stroke-linecap="round" fill="none"/><path d="M486.5 372.8L484.0 374.6M497.0 247.7L496.3 250.6" stroke="#e00000" stroke-width="3.5" stroke-linecap="round" fill="none"/><path d="M172.2 312.3L173.4 309.5M205.5 168.2L208.1 166.6M498.5 121.9L501.3 123.0" stroke="#10f4f4" stroke-width="3.5" stroke-linecap="round" fill="none"/><path d="M173.4 311.6L174.5 308.8" stroke="#0000e6" stroke-width="3.5" stroke-linecap="round" fill="none"/><path d="M197.1 171.6L199.5 169.8" stroke="#eb0aeb" stroke-width="3.5" stroke-linecap="round" fill="none"/><path d="M198.8 170.0L201.3 168.3" stroke="#e00000" stroke-width="3.5" stroke-linecap="round" fill="none"/><path d="M479.4 372.6L476.9 374.2" stroke="#10f4f4" stroke-width="3.5" stroke-linecap="round" fill="none"/><path d="M212.0 167.5L214.5 165.9" stroke="#0000e6" stroke-width="3.5" stroke-linecap="round" fill="none"/><path d="M165.0 314.7L167.7 313.2M535.7 121.1L538.4 122.4" stroke="#eb0aeb" stroke-width="3.5" stroke-linecap="round" fill="none"/><path d="M482.3 373.4L479.7 375.1M519.8 121.2L522.7 121.9" stroke="#0aeb0a" stroke-width="3.5" stroke-linecap="round" fill="none"/><path d="M503.0 122.6L505.7 123.7" stroke="#e00000" stroke-width="3.5" stroke-linecap="round" fill="none"/><path d="M203.0 169.8L205.5 168.2" stroke="#10f4f4" stroke-width="3.5" stroke-linecap="round" fill="none"/><path d="M194.7 173.4L197.1 171.6" stroke="#eb0aeb" stroke-width="3.5" stroke-linecap="round" fill="none"/><path d="M190.4 173.2L192.5 171.1M522.7 121.9L525.6 122.6" stroke="#0aeb0a" stroke-width="3.5" stroke-linecap="round" fill="none"/><path d="M170.0 314.1L171.1 311.3M196.3 171.7L198.8 170.0" stroke="#e00000" stroke-width="3.5" stroke-linecap="round" fill="none"/><path d="M501.3 123.0L504.0 124.2" stroke="#10f4f4" stroke-width="3.5" stroke-linecap="round" fill="none"/><path d="M479.2 372.6L476.7 374.2M489.0 124.4L491.7 125.7" stroke="#0000e6" stroke-width="3.5" stroke-linecap="round" fill="none"/><path d="M497.4 247.3L496.9 250.6M218.6 166.9L221.4 165.2" stroke="#000" stroke-width="3.3" fill="none"/><path d="M486.9 374.2L486.2 376.6M162.6 316.4L165.0 314.7" stroke="#eb0aeb" stroke-width="3.5" stroke-linecap="round" fill="none"/><path d="M170.6 315.6L171.7 312.8" stroke="#0aeb0a" stroke-width="3.5" stroke-linecap="round" fill="none"/><path d="M484.0 374.6L481.6 376.3" stroke="#e00000" stroke-width="3.5" stroke-linecap="round" fill="none"/><path d="M171.3 315.1L172.2 312.3" stroke="#10f4f4" stroke-width="3.5" stroke-linecap="round" fill="none"/><path d="M172.3 314.4L173.4 311.6M209.5 169.2L212.0 167.5" stroke="#0000e6" stroke-width="3.5" stroke-linecap="round" fill="none"/><path d="M192.3 175.2L194.7 173.4M538.4 122.4L540.9 124.1" stroke="#eb0aeb" stroke-width="3.5" stroke-linecap="round" fill="none"/><path d="M525.6 122.6L528.6 123.2" stroke="#0aeb0a" stroke-width="3.5" stroke-linecap="round" fill="none"/><path d="M193.9 173.5L196.3 171.7M505.7 123.7L508.6 124.7" stroke="#e00000" stroke-width="3.5" stroke-linecap="round" fill="none"/><path d="M200.6 171.6L203.0 169.8" stroke="#10f4f4" stroke-width="3.5" stroke-linecap="round" fill="none"/><path d="M500.0 249.0L499.1 251.8" stroke="#0000e6" stroke-width="3.5" stroke-linecap="round" fill="none"/><path d="M174.1 313.7L175.5 310.7" stroke="#000" stroke-width="3.3" fill="none"/><path d="M492.9 249.9L491.8 252.6M188.3 175.4L190.4 173.2" stroke="#0aeb0a" stroke-width="3.5" stroke-linecap="round" fill="none"/><path d="M476.9 374.2L474.3 375.9" stroke="#10f4f4" stroke-width="3.5" stroke-linecap="round" fill="none"/><path d="M207.0 171.0L209.5 169.2" stroke="#0000e6" stroke-width="3.5" stroke-linecap="round" fill="none"/><path d="M476.9 372.8L474.1 374.5" stroke="#000" stroke-width="3.3" fill="none"/><path d="M161.4 319.1L162.6 316.4M502.3 251.4L502.2 254.4" stroke="#eb0aeb" stroke-width="3.5" stroke-linecap="round" fill="none"/><path d="M479.7 375.1L477.2 376.6M528.6 123.2L531.5 123.9" stroke="#0aeb0a" stroke-width="3.5" stroke-linecap="round" fill="none"/><path d="M169.0 316.9L170.0 314.1M508.6 124.7L511.5 125.5" stroke="#e00000" stroke-width="3.5" stroke-linecap="round" fill="none"/><path d="M501.4 250.1L500.4 252.9M198.1 173.3L200.6 171.6M504.0 124.2L506.7 125.5" stroke="#10f4f4" stroke-width="3.5" stroke-linecap="round" fill="none"/><path d="M476.7 374.2L474.1 375.7M491.7 125.7L494.3 127.2" stroke="#0000e6" stroke-width="3.5" stroke-linecap="round" fill="none"/><path d="M480.8 127.1L483.7 128.6" stroke="#000" stroke-width="3.3" fill="none"/><path d="M189.9 177.0L192.3 175.2" stroke="#eb0aeb" stroke-width="3.5" stroke-linecap="round" fill="none"/><path d="M169.6 318.4L170.6 315.6" stroke="#0aeb0a" stroke-width="3.5" stroke-linecap="round" fill="none"/><path d="M481.6 376.3L479.0 377.9M496.3 250.6L495.3 253.4M191.5 175.3L193.9 173.5" stroke="#e00000" stroke-width="3.5" stroke-linecap="round" fill="none"/><path d="M170.5 318.0L171.3 315.1" stroke="#10f4f4" stroke-width="3.5" stroke-linecap="round" fill="none"/><path d="M171.5 317.3L172.3 314.4M204.6 172.7L207.0 171.0" stroke="#0000e6" stroke-width="3.5" stroke-linecap="round" fill="none"/><path d="M213.4 170.3L216.2 168.5" stroke="#000" stroke-width="3.3" fill="none"/><path d="M486.2 376.6L483.6 378.1M540.9 124.1L542.9 126.3" stroke="#eb0aeb" stroke-width="3.5" stroke-linecap="round" fill="none"/><path d="M186.0 177.3L188.3 175.4M531.5 123.9L534.4 124.7" stroke="#0aeb0a" stroke-width="3.5" stroke-linecap="round" fill="none"/><path d="M511.5 125.5L514.4 126.2" stroke="#e00000" stroke-width="3.5" stroke-linecap="round" fill="none"/><path d="M195.7 175.1L198.1 173.3" stroke="#10f4f4" stroke-width="3.5" stroke-linecap="round" fill="none"/><path d="M187.4 178.7L189.9 177.0" stroke="#eb0aeb" stroke-width="3.5" stroke-linecap="round" fill="none"/><path d="M477.2 376.6L474.6 378.1M534.4 124.7L537.3 125.5" stroke="#0aeb0a" stroke-width="3.5" stroke-linecap="round" fill="none"/><path d="M189.2 177.2L191.5 175.3" stroke="#e00000" stroke-width="3.5" stroke-linecap="round" fill="none"/><path d="M474.3 375.9L471.8 377.4" stroke="#10f4f4" stroke-width="3.5" stroke-linecap="round" fill="none"/><path d="M161.6 321.8L161.4 319.1" stroke="#eb0aeb" stroke-width="3.5" stroke-linecap="round" fill="none"/><path d="M183.4 178.7L186.0 177.3" stroke="#0aeb0a" stroke-width="3.5" stroke-linecap="round" fill="none"/><path d="M168.2 319.8L169.0 316.9" stroke="#e00000" stroke-width="3.5" stroke-linecap="round" fill="none"/><path d="M506.7 125.5L509.0 127.4" stroke="#10f4f4" stroke-width="3.5" stroke-linecap="round" fill="none"/><path d="M474.1 375.7L471.5 377.2M202.2 174.5L204.6 172.7M494.3 127.2L496.9 128.8" stroke="#0000e6" stroke-width="3.5" stroke-linecap="round" fill="none"/><path d="M483.6 378.1L480.8 379.2M185.0 180.5L187.4 178.7" stroke="#eb0aeb" stroke-width="3.5" stroke-linecap="round" fill="none"/><path d="M168.8 321.3L169.6 318.4M537.3 125.5L540.2 126.2" stroke="#0aeb0a" stroke-width="3.5" stroke-linecap="round" fill="none"/><path d="M479.0 377.9L476.5 379.4M514.4 126.2L517.3 127.1" stroke="#e00000" stroke-width="3.5" stroke-linecap="round" fill="none"/><path d="M169.8 321.0L170.5 318.0M193.4 177.0L195.7 175.1" stroke="#10f4f4" stroke-width="3.5" stroke-linecap="round" fill="none"/><path d="M170.8 320.2L171.5 317.3M499.1 251.8L497.8 254.6" stroke="#0000e6" stroke-width="3.5" stroke-linecap="round" fill="none"/><path d="M180.6 179.9L183.4 178.7" stroke="#0aeb0a" stroke-width="3.5" stroke-linecap="round" fill="none"/><path d="M186.9 179.2L189.2 177.2" stroke="#e00000" stroke-width="3.5" stroke-linecap="round" fill="none"/><path d="M500.4 252.9L499.3 255.7" stroke="#10f4f4" stroke-width="3.5" stroke-linecap="round" fill="none"/><path d="M199.8 176.4L202.2 174.5" stroke="#0000e6" stroke-width="3.5" stroke-linecap="round" fill="none"/><path d="M172.2 319.5L173.1 316.4M208.4 173.9L211.1 172.0" stroke="#000" stroke-width="3.3" fill="none"/><path d="M480.8 379.2L477.9 379.8M164.2 323.3L161.6 321.8M502.2 254.4L501.7 257.4M542.9 126.3L544.2 129.0" stroke="#eb0aeb" stroke-width="3.5" stroke-linecap="round" fill="none"/><path d="M474.6 378.1L471.9 379.5M491.8 252.6L490.4 255.3M177.8 181.0L180.6 179.9M540.2 126.2L543.1 126.8" stroke="#0aeb0a" stroke-width="3.5" stroke-linecap="round" fill="none"/><path d="M517.3 127.1L520.0 128.2" stroke="#e00000" stroke-width="3.5" stroke-linecap="round" fill="none"/><path d="M471.8 377.4L469.1 378.8M191.0 178.9L193.4 177.0" stroke="#10f4f4" stroke-width="3.5" stroke-linecap="round" fill="none"/><path d="M471.6 375.9L468.6 377.4" stroke="#000" stroke-width="3.3" fill="none"/><path d="M477.9 379.8L474.9 379.9M182.5 182.2L185.0 180.5" stroke="#eb0aeb" stroke-width="3.5" stroke-linecap="round" fill="none"/><path d="M175.0 182.0L177.8 181.0M543.1 126.8L546.1 127.3" stroke="#0aeb0a" stroke-width="3.5" stroke-linecap="round" fill="none"/><path d="M167.5 322.7L168.2 319.8M495.3 253.4L493.9 256.0" stroke="#e00000" stroke-width="3.5" stroke-linecap="round" fill="none"/><path d="M471.5 377.2L468.8 378.5M197.5 178.2L199.8 176.4" stroke="#0000e6" stroke-width="3.5" stroke-linecap="round" fill="none"/><path d="M474.9 379.9L471.9 379.9L468.9 380.0M166.8 324.7L164.2 323.3" stroke="#eb0aeb" stroke-width="3.5" stroke-linecap="round" fill="none"/><path d="M168.2 324.3L168.8 321.3M172.2 183.1L175.0 182.0M546.1 127.3L549.0 127.9" stroke="#0aeb0a" stroke-width="3.5" stroke-linecap="round" fill="none"/><path d="M476.5 379.4L473.8 380.9M184.8 181.3L186.9 179.2" stroke="#e00000" stroke-width="3.5" stroke-linecap="round" fill="none"/><path d="M169.5 323.9L169.8 321.0M509.0 127.4L511.0 129.7" stroke="#10f4f4" stroke-width="3.5" stroke-linecap="round" fill="none"/><path d="M170.3 323.2L170.8 320.2M496.9 128.8L499.2 130.7" stroke="#0000e6" stroke-width="3.5" stroke-linecap="round" fill="none"/><path d="M486.2 130.1L488.8 132.0" stroke="#000" stroke-width="3.3" fill="none"/><path d="M468.9 380.0L465.9 380.3M169.6 325.9L166.8 324.7M180.0 183.7L182.5 182.2" stroke="#eb0aeb" stroke-width="3.5" stroke-linecap="round" fill="none"/><path d="M469.1 378.8L466.5 380.2M188.8 180.8L191.0 178.9" stroke="#10f4f4" stroke-width="3.5" stroke-linecap="round" fill="none"/><path d="M203.5 177.7L206.1 175.7" stroke="#000" stroke-width="3.3" fill="none"/><path d="M465.9 380.3L462.9 380.7M177.3 185.0L180.0 183.7" stroke="#eb0aeb" stroke-width="3.5" stroke-linecap="round" fill="none"/><path d="M471.9 379.5L469.2 380.9M169.5 184.5L172.2 183.1M549.0 127.9L551.5 129.0" stroke="#0aeb0a" stroke-width="3.5" stroke-linecap="round" fill="none"/><path d="M520.0 128.2L521.2 130.7" stroke="#e00000" stroke-width="3.5" stroke-linecap="round" fill="none"/><path d="M195.2 180.1L197.5 178.2" stroke="#0000e6" stroke-width="3.5" stroke-linecap="round" fill="none"/><path d="M496.0 253.3L494.6 256.3" stroke="#000" stroke-width="3.3" fill="none"/><path d="M544.2 129.0L543.4 131.6" stroke="#eb0aeb" stroke-width="3.5" stroke-linecap="round" fill="none"/><path d="M166.8 185.8L169.5 184.5" stroke="#0aeb0a" stroke-width="3.5" stroke-linecap="round" fill="none"/><path d="M167.1 325.7L167.5 322.7M182.6 183.4L184.8 181.3" stroke="#e00000" stroke-width="3.5" stroke-linecap="round" fill="none"/><path d="M186.5 182.8L188.8 180.8" stroke="#10f4f4" stroke-width="3.5" stroke-linecap="round" fill="none"/><path d="M468.8 378.5L466.1 379.9M497.8 254.6L496.4 257.2" stroke="#0000e6" stroke-width="3.5" stroke-linecap="round" fill="none"/><path d="M462.9 380.7L460.0 381.5M170.7 328.3L169.6 325.9M501.7 257.4L500.9 260.3M174.5 186.2L177.3 185.0" stroke="#eb0aeb" stroke-width="3.5" stroke-linecap="round" fill="none"/><path d="M167.7 327.2L168.2 324.3" stroke="#0aeb0a" stroke-width="3.5" stroke-linecap="round" fill="none"/><path d="M473.8 380.9L471.2 382.3" stroke="#e00000" stroke-width="3.5" stroke-linecap="round" fill="none"/><path d="M169.3 326.9L169.5 323.9M499.3 255.7L497.9 258.3" stroke="#10f4f4" stroke-width="3.5" stroke-linecap="round" fill="none"/><path d="M169.9 326.1L170.3 323.2M192.9 182.1L195.2 180.1" stroke="#0000e6" stroke-width="3.5" stroke-linecap="round" fill="none"/><path d="M171.7 187.3L174.5 186.2" stroke="#eb0aeb" stroke-width="3.5" stroke-linecap="round" fill="none"/><path d="M469.2 380.9L466.5 382.2M490.4 255.3L488.8 257.8M164.2 187.2L166.8 185.8M551.5 129.0L549.8 131.3" stroke="#0aeb0a" stroke-width="3.5" stroke-linecap="round" fill="none"/><path d="M466.5 380.2L463.8 381.6M511.0 129.7L512.9 132.0" stroke="#10f4f4" stroke-width="3.5" stroke-linecap="round" fill="none"/><path d="M499.2 130.7L501.2 132.9" stroke="#0000e6" stroke-width="3.5" stroke-linecap="round" fill="none"/><path d="M466.0 378.7L463.1 380.1M171.0 325.6L171.5 322.4" stroke="#000" stroke-width="3.3" fill="none"/><path d="M168.9 188.4L171.7 187.3" stroke="#eb0aeb" stroke-width="3.5" stroke-linecap="round" fill="none"/><path d="M493.9 256.0L492.1 258.5M180.7 185.6L182.6 183.4" stroke="#e00000" stroke-width="3.5" stroke-linecap="round" fill="none"/><path d="M184.3 184.9L186.5 182.8" stroke="#10f4f4" stroke-width="3.5" stroke-linecap="round" fill="none"/><path d="M466.1 379.9L463.4 381.1" stroke="#0000e6" stroke-width="3.5" stroke-linecap="round" fill="none"/><path d="M460.0 381.5L457.2 382.7M170.6 331.3L170.7 328.3M166.1 189.6L168.9 188.4M543.4 131.6L540.8 133.1" stroke="#eb0aeb" stroke-width="3.5" stroke-linecap="round" fill="none"/><path d="M166.7 328.7L167.1 325.7" stroke="#e00000" stroke-width="3.5" stroke-linecap="round" fill="none"/><path d="M190.7 184.1L192.9 182.1" stroke="#0000e6" stroke-width="3.5" stroke-linecap="round" fill="none"/><path d="M198.7 181.7L201.2 179.5" stroke="#000" stroke-width="3.3" fill="none"/><path d="M167.5 330.2L167.7 327.2M163.0 189.5L164.2 187.2" stroke="#0aeb0a" stroke-width="3.5" stroke-linecap="round" fill="none"/><path d="M471.2 382.3L468.5 383.6M521.2 130.7L521.1 133.7" stroke="#e00000" stroke-width="3.5" stroke-linecap="round" fill="none"/><path d="M463.8 381.6L461.1 382.8M169.4 329.9L169.3 326.9" stroke="#10f4f4" stroke-width="3.5" stroke-linecap="round" fill="none"/><path d="M169.7 329.1L169.9 326.1" stroke="#0000e6" stroke-width="3.5" stroke-linecap="round" fill="none"/><path d="M163.4 190.7L166.1 189.6" stroke="#eb0aeb" stroke-width="3.5" stroke-linecap="round" fill="none"/><path d="M466.5 382.2L463.8 383.4" stroke="#0aeb0a" stroke-width="3.5" stroke-linecap="round" fill="none"/><path d="M179.0 188.1L180.7 185.6" stroke="#e00000" stroke-width="3.5" stroke-linecap="round" fill="none"/><path d="M182.2 187.0L184.3 184.9" stroke="#10f4f4" stroke-width="3.5" stroke-linecap="round" fill="none"/><path d="M463.4 381.1L460.7 382.4M496.4 257.2L494.8 259.7" stroke="#0000e6" stroke-width="3.5" stroke-linecap="round" fill="none"/><path d="M457.2 382.7L454.5 383.8M160.6 191.8L163.4 190.7M540.8 133.1L538.0 134.2" stroke="#eb0aeb" stroke-width="3.5" stroke-linecap="round" fill="none"/><path d="M549.8 131.3L547.6 133.4" stroke="#0aeb0a" stroke-width="3.5" stroke-linecap="round" fill="none"/><path d="M497.9 258.3L496.2 260.8M512.9 132.0L514.7 134.4" stroke="#10f4f4" stroke-width="3.5" stroke-linecap="round" fill="none"/><path d="M188.4 186.1L190.7 184.1" stroke="#0000e6" stroke-width="3.5" stroke-linecap="round" fill="none"/><path d="M170.8 334.3L170.6 331.3M500.9 260.3L500.0 263.1M157.8 193.0L160.6 191.8" stroke="#eb0aeb" stroke-width="3.5" stroke-linecap="round" fill="none"/><path d="M488.8 257.8L487.4 260.5" stroke="#0aeb0a" stroke-width="3.5" stroke-linecap="round" fill="none"/><path d="M468.5 383.6L465.8 384.9M166.6 331.7L166.7 328.7" stroke="#e00000" stroke-width="3.5" stroke-linecap="round" fill="none"/><path d="M501.2 132.9L503.2 135.2" stroke="#0000e6" stroke-width="3.5" stroke-linecap="round" fill="none"/><path d="M491.0 133.9L493.3 136.3" stroke="#000" stroke-width="3.3" fill="none"/><path d="M538.0 134.2L535.1 135.0" stroke="#eb0aeb" stroke-width="3.5" stroke-linecap="round" fill="none"/><path d="M463.8 383.4L461.1 384.6M167.4 333.2L167.5 330.2M164.5 192.1L163.0 189.5" stroke="#0aeb0a" stroke-width="3.5" stroke-linecap="round" fill="none"/><path d="M492.1 258.5L490.2 260.8" stroke="#e00000" stroke-width="3.5" stroke-linecap="round" fill="none"/><path d="M461.1 382.8L458.3 384.1M169.6 332.9L169.4 329.9M180.2 189.2L182.2 187.0" stroke="#10f4f4" stroke-width="3.5" stroke-linecap="round" fill="none"/><path d="M169.7 332.1L169.7 329.1" stroke="#0000e6" stroke-width="3.5" stroke-linecap="round" fill="none"/><path d="M460.4 381.3L457.4 382.6M194.1 185.8L196.5 183.6" stroke="#000" stroke-width="3.3" fill="none"/><path d="M454.5 383.8L451.7 384.9M155.1 194.3L157.8 193.0M535.1 135.0L532.2 135.8" stroke="#eb0aeb" stroke-width="3.5" stroke-linecap="round" fill="none"/><path d="M177.6 190.8L179.0 188.1" stroke="#e00000" stroke-width="3.5" stroke-linecap="round" fill="none"/><path d="M460.7 382.4L457.9 383.5M186.2 188.1L188.4 186.1" stroke="#0000e6" stroke-width="3.5" stroke-linecap="round" fill="none"/><path d="M170.6 331.8L170.7 328.5" stroke="#000" stroke-width="3.3" fill="none"/><path d="M547.6 133.4L546.1 135.9" stroke="#0aeb0a" stroke-width="3.5" stroke-linecap="round" fill="none"/><path d="M465.8 384.9L463.1 386.1M521.1 133.7L522.6 136.1" stroke="#e00000" stroke-width="3.5" stroke-linecap="round" fill="none"/><path d="M171.2 337.3L170.8 334.3M152.4 195.6L155.1 194.3M532.2 135.8L529.3 136.6" stroke="#eb0aeb" stroke-width="3.5" stroke-linecap="round" fill="none"/><path d="M461.1 384.6L458.3 385.8" stroke="#0aeb0a" stroke-width="3.5" stroke-linecap="round" fill="none"/><path d="M166.7 334.7L166.6 331.7" stroke="#e00000" stroke-width="3.5" stroke-linecap="round" fill="none"/><path d="M458.3 384.1L455.5 385.2M178.3 191.5L180.2 189.2" stroke="#10f4f4" stroke-width="3.5" stroke-linecap="round" fill="none"/><path d="M494.8 259.7L493.0 262.1M184.0 190.1L186.2 188.1" stroke="#0000e6" stroke-width="3.5" stroke-linecap="round" fill="none"/><path d="M451.7 384.9L448.9 385.9M149.7 196.9L152.4 195.6M529.3 136.6L526.5 137.4" stroke="#eb0aeb" stroke-width="3.5" stroke-linecap="round" fill="none"/><path d="M166.0 194.7L164.5 192.1" stroke="#0aeb0a" stroke-width="3.5" stroke-linecap="round" fill="none"/><path d="M176.0 193.4L177.6 190.8" stroke="#e00000" stroke-width="3.5" stroke-linecap="round" fill="none"/><path d="M496.2 260.8L494.4 263.2M514.7 134.4L516.1 137.0" stroke="#10f4f4" stroke-width="3.5" stroke-linecap="round" fill="none"/><path d="M457.9 383.5L455.1 384.7M169.9 335.1L169.7 332.1M503.2 135.2L505.2 137.4" stroke="#0000e6" stroke-width="3.5" stroke-linecap="round" fill="none"/><path d="M493.0 258.7L490.9 261.3" stroke="#000" stroke-width="3.3" fill="none"/><path d="M167.6 336.2L167.4 333.2" stroke="#0aeb0a" stroke-width="3.5" stroke-linecap="round" fill="none"/><path d="M170.0 335.9L169.6 332.9" stroke="#10f4f4" stroke-width="3.5" stroke-linecap="round" fill="none"/><path d="M500.0 263.1L498.9 265.9M147.1 198.4L149.7 196.9M526.5 137.4L523.6 138.2" stroke="#eb0aeb" stroke-width="3.5" stroke-linecap="round" fill="none"/><path d="M458.3 385.8L455.5 386.9M487.4 260.5L485.6 262.9M546.1 135.9L548.4 137.6" stroke="#0aeb0a" stroke-width="3.5" stroke-linecap="round" fill="none"/><path d="M463.1 386.1L460.3 387.3M490.2 260.8L488.1 263.0M522.6 136.1L525.1 137.8" stroke="#e00000" stroke-width="3.5" stroke-linecap="round" fill="none"/><path d="M455.5 385.2L452.8 386.3M176.4 193.9L178.3 191.5" stroke="#10f4f4" stroke-width="3.5" stroke-linecap="round" fill="none"/><path d="M181.8 192.2L184.0 190.1" stroke="#0000e6" stroke-width="3.5" stroke-linecap="round" fill="none"/><path d="M189.7 190.2L192.0 187.9" stroke="#000" stroke-width="3.3" fill="none"/><path d="M448.9 385.9L446.0 386.9M171.8 340.2L171.2 337.3M523.6 138.2L520.7 139.1" stroke="#eb0aeb" stroke-width="3.5" stroke-linecap="round" fill="none"/><path d="M166.9 337.7L166.7 334.7" stroke="#e00000" stroke-width="3.5" stroke-linecap="round" fill="none"/><path d="M455.1 384.7L452.3 385.7" stroke="#0000e6" stroke-width="3.5" stroke-linecap="round" fill="none"/><path d="M454.7 383.7L451.6 384.9" stroke="#000" stroke-width="3.3" fill="none"/><path d="M166.3 197.3L166.0 194.7" stroke="#0aeb0a" stroke-width="3.5" stroke-linecap="round" fill="none"/><path d="M174.2 195.8L176.0 193.4" stroke="#e00000" stroke-width="3.5" stroke-linecap="round" fill="none"/><path d="M170.4 338.1L169.9 335.1" stroke="#0000e6" stroke-width="3.5" stroke-linecap="round" fill="none"/><path d="M446.0 386.9L443.2 387.9M145.7 201.0L147.1 198.4M520.7 139.1L517.8 139.9" stroke="#eb0aeb" stroke-width="3.5" stroke-linecap="round" fill="none"/><path d="M455.5 386.9L452.7 388.0M167.9 339.2L167.6 336.2M548.4 137.6L551.1 138.7" stroke="#0aeb0a" stroke-width="3.5" stroke-linecap="round" fill="none"/><path d="M460.3 387.3L457.5 388.5" stroke="#e00000" stroke-width="3.5" stroke-linecap="round" fill="none"/><path d="M452.8 386.3L450.0 387.4M170.6 338.9L170.0 335.9" stroke="#10f4f4" stroke-width="3.5" stroke-linecap="round" fill="none"/><path d="M452.3 385.7L449.5 386.8M493.0 262.1L490.9 264.3M179.7 194.4L181.8 192.2M505.2 137.4L507.1 139.7" stroke="#0000e6" stroke-width="3.5" stroke-linecap="round" fill="none"/><path d="M517.8 139.9L514.9 140.8" stroke="#eb0aeb" stroke-width="3.5" stroke-linecap="round" fill="none"/><path d="M525.1 137.8L526.9 140.1" stroke="#e00000" stroke-width="3.5" stroke-linecap="round" fill="none"/><path d="M494.4 263.2L492.3 265.4M174.6 196.3L176.4 193.9M516.1 137.0L517.0 139.9" stroke="#10f4f4" stroke-width="3.5" stroke-linecap="round" fill="none"/><path d="M171.3 338.0L170.8 334.7" stroke="#000" stroke-width="3.3" fill="none"/><path d="M172.6 343.1L171.8 340.2" stroke="#eb0aeb" stroke-width="3.5" stroke-linecap="round" fill="none"/><path d="M485.6 262.9L483.3 264.8M163.7 198.7L166.3 197.3" stroke="#0aeb0a" stroke-width="3.5" stroke-linecap="round" fill="none"/><path d="M167.4 340.7L166.9 337.7M488.1 263.0L485.9 265.0M172.4 198.1L174.2 195.8" stroke="#e00000" stroke-width="3.5" stroke-linecap="round" fill="none"/><path d="M443.2 387.9L440.3 388.8M498.9 265.9L497.7 268.7M514.9 140.8L512.1 141.7" stroke="#eb0aeb" stroke-width="3.5" stroke-linecap="round" fill="none"/><path d="M452.7 388.0L449.9 389.0M160.9 199.8L163.7 198.7M551.1 138.7L553.4 140.5" stroke="#0aeb0a" stroke-width="3.5" stroke-linecap="round" fill="none"/><path d="M457.5 388.5L454.7 389.6" stroke="#e00000" stroke-width="3.5" stroke-linecap="round" fill="none"/><path d="M450.0 387.4L447.1 388.5" stroke="#10f4f4" stroke-width="3.5" stroke-linecap="round" fill="none"/><path d="M449.5 386.8L446.7 387.8M171.0 341.0L170.4 338.1M177.8 196.6L179.7 194.4" stroke="#0000e6" stroke-width="3.5" stroke-linecap="round" fill="none"/><path d="M448.9 385.9L445.8 387.0M185.6 194.9L187.8 192.4" stroke="#000" stroke-width="3.3" fill="none"/><path d="M145.4 204.0L145.7 201.0" stroke="#eb0aeb" stroke-width="3.5" stroke-linecap="round" fill="none"/><path d="M168.5 342.1L167.9 339.2" stroke="#0aeb0a" stroke-width="3.5" stroke-linecap="round" fill="none"/><path d="M171.3 341.8L170.6 338.9M172.9 198.7L174.6 196.3" stroke="#10f4f4" stroke-width="3.5" stroke-linecap="round" fill="none"/><path d="M495.0 138.7L496.4 141.6" stroke="#000" stroke-width="3.3" fill="none"/><path d="M171.2 345.3L172.6 343.1" stroke="#eb0aeb" stroke-width="3.5" stroke-linecap="round" fill="none"/><path d="M158.2 201.1L160.9 199.8" stroke="#0aeb0a" stroke-width="3.5" stroke-linecap="round" fill="none"/><path d="M170.5 200.4L172.4 198.1" stroke="#e00000" stroke-width="3.5" stroke-linecap="round" fill="none"/><path d="M440.3 388.8L437.5 389.7M512.1 141.7L509.4 143.0" stroke="#eb0aeb" stroke-width="3.5" stroke-linecap="round" fill="none"/><path d="M449.9 389.0L447.1 390.0" stroke="#0aeb0a" stroke-width="3.5" stroke-linecap="round" fill="none"/><path d="M454.7 389.6L451.9 390.6M168.1 343.6L167.4 340.7" stroke="#e00000" stroke-width="3.5" stroke-linecap="round" fill="none"/><path d="M447.1 388.5L444.3 389.5" stroke="#10f4f4" stroke-width="3.5" stroke-linecap="round" fill="none"/><path d="M446.7 387.8L443.9 388.8M490.9 264.3L488.7 266.4M175.9 199.0L177.8 196.6M507.1 139.7L508.2 142.5" stroke="#0000e6" stroke-width="3.5" stroke-linecap="round" fill="none"/><path d="M488.9 263.4L486.5 265.6" stroke="#000" stroke-width="3.3" fill="none"/><path d="M169.4 345.0L168.5 342.1M483.3 264.8L480.9 266.6M155.5 202.4L158.2 201.1" stroke="#0aeb0a" stroke-width="3.5" stroke-linecap="round" fill="none"/><path d="M485.9 265.0L483.5 266.8M526.9 140.1L527.0 143.1" stroke="#e00000" stroke-width="3.5" stroke-linecap="round" fill="none"/><path d="M492.3 265.4L490.2 267.5M171.2 201.2L172.9 198.7M517.0 139.9L517.4 142.9" stroke="#10f4f4" stroke-width="3.5" stroke-linecap="round" fill="none"/><path d="M171.9 343.9L171.0 341.0" stroke="#0000e6" stroke-width="3.5" stroke-linecap="round" fill="none"/><path d="M437.5 389.7L434.6 390.6M168.6 346.8L171.2 345.3M509.4 143.0L506.6 144.2" stroke="#eb0aeb" stroke-width="3.5" stroke-linecap="round" fill="none"/><path d="M447.1 390.0L444.2 390.9M152.8 203.7L155.5 202.4M553.4 140.5L554.5 143.3" stroke="#0aeb0a" stroke-width="3.5" stroke-linecap="round" fill="none"/><path d="M451.9 390.6L449.1 391.7" stroke="#e00000" stroke-width="3.5" stroke-linecap="round" fill="none"/><path d="M172.3 344.6L171.3 341.8" stroke="#10f4f4" stroke-width="3.5" stroke-linecap="round" fill="none"/><path d="M497.7 268.7L496.2 271.3M146.5 206.6L145.4 204.0" stroke="#eb0aeb" stroke-width="3.5" stroke-linecap="round" fill="none"/><path d="M168.6 202.8L170.5 200.4" stroke="#e00000" stroke-width="3.5" stroke-linecap="round" fill="none"/><path d="M444.3 389.5L441.5 390.4" stroke="#10f4f4" stroke-width="3.5" stroke-linecap="round" fill="none"/><path d="M443.9 388.8L441.0 389.7M174.2 201.5L175.9 199.0" stroke="#0000e6" stroke-width="3.5" stroke-linecap="round" fill="none"/><path d="M443.0 387.9L439.9 388.9M172.9 344.0L171.9 340.8" stroke="#000" stroke-width="3.3" fill="none"/><path d="M434.6 390.6L431.7 391.4M166.0 348.4L168.6 346.8" stroke="#eb0aeb" stroke-width="3.5" stroke-linecap="round" fill="none"/><path d="M150.1 205.0L152.8 203.7" stroke="#0aeb0a" stroke-width="3.5" stroke-linecap="round" fill="none"/><path d="M168.9 346.5L168.1 343.6" stroke="#e00000" stroke-width="3.5" stroke-linecap="round" fill="none"/><path d="M488.7 266.4L486.3 268.1" stroke="#0000e6" stroke-width="3.5" stroke-linecap="round" fill="none"/><path d="M181.8 199.8L183.8 197.1" stroke="#000" stroke-width="3.3" fill="none"/><path d="M506.6 144.2L504.0 145.6" stroke="#eb0aeb" stroke-width="3.5" stroke-linecap="round" fill="none"/><path d="M444.2 390.9L441.3 391.9M170.4 347.8L169.4 345.0" stroke="#0aeb0a" stroke-width="3.5" stroke-linecap="round" fill="none"/><path d="M449.1 391.7L446.3 392.6" stroke="#e00000" stroke-width="3.5" stroke-linecap="round" fill="none"/><path d="M441.5 390.4L438.6 391.4M169.4 203.6L171.2 201.2" stroke="#10f4f4" stroke-width="3.5" stroke-linecap="round" fill="none"/><path d="M441.0 389.7L438.1 390.6M172.9 346.7L171.9 343.9" stroke="#0000e6" stroke-width="3.5" stroke-linecap="round" fill="none"/><path d="M148.8 208.5L146.5 206.6" stroke="#eb0aeb" stroke-width="3.5" stroke-linecap="round" fill="none"/><path d="M480.9 266.6L478.3 268.2M147.5 206.6L150.1 205.0" stroke="#0aeb0a" stroke-width="3.5" stroke-linecap="round" fill="none"/><path d="M483.5 266.8L481.0 268.5M166.8 205.2L168.6 202.8" stroke="#e00000" stroke-width="3.5" stroke-linecap="round" fill="none"/><path d="M173.3 347.4L172.3 344.6M490.2 267.5L487.9 269.4" stroke="#10f4f4" stroke-width="3.5" stroke-linecap="round" fill="none"/><path d="M163.9 350.5L166.0 348.4" stroke="#eb0aeb" stroke-width="3.5" stroke-linecap="round" fill="none"/><path d="M441.3 391.9L438.5 392.7M554.5 143.3L553.8 146.0" stroke="#0aeb0a" stroke-width="3.5" stroke-linecap="round" fill="none"/><path d="M527.0 143.1L526.9 146.1" stroke="#e00000" stroke-width="3.5" stroke-linecap="round" fill="none"/><path d="M517.4 142.9L517.0 145.8" stroke="#10f4f4" stroke-width="3.5" stroke-linecap="round" fill="none"/><path d="M172.7 204.0L174.2 201.5M508.2 142.5L508.6 145.4" stroke="#0000e6" stroke-width="3.5" stroke-linecap="round" fill="none"/><path d="M431.7 391.4L430.7 393.4" stroke="#eb0aeb" stroke-width="3.5" stroke-linecap="round" fill="none"/><path d="M446.3 392.6L443.4 393.6M170.0 349.3L168.9 346.5" stroke="#e00000" stroke-width="3.5" stroke-linecap="round" fill="none"/><path d="M438.6 391.4L435.7 392.2M167.7 206.1L169.4 203.6" stroke="#10f4f4" stroke-width="3.5" stroke-linecap="round" fill="none"/><path d="M438.1 390.6L435.3 391.4M174.2 349.4L172.9 346.7" stroke="#0000e6" stroke-width="3.5" stroke-linecap="round" fill="none"/><path d="M437.1 389.8L434.0 390.7" stroke="#000" stroke-width="3.3" fill="none"/><path d="M496.2 271.3L494.4 273.7M151.2 210.3L148.8 208.5M504.0 145.6L502.2 148.0" stroke="#eb0aeb" stroke-width="3.5" stroke-linecap="round" fill="none"/><path d="M171.7 350.6L170.4 347.8M145.6 208.8L147.5 206.6" stroke="#0aeb0a" stroke-width="3.5" stroke-linecap="round" fill="none"/><path d="M164.8 207.4L166.8 205.2" stroke="#e00000" stroke-width="3.5" stroke-linecap="round" fill="none"/><path d="M174.6 350.2L173.3 347.4" stroke="#10f4f4" stroke-width="3.5" stroke-linecap="round" fill="none"/><path d="M486.3 268.1L483.7 269.6" stroke="#0000e6" stroke-width="3.5" stroke-linecap="round" fill="none"/><path d="M163.0 353.1L163.9 350.5" stroke="#eb0aeb" stroke-width="3.5" stroke-linecap="round" fill="none"/><path d="M438.5 392.7L435.6 393.6M478.3 268.2L475.8 269.8" stroke="#0aeb0a" stroke-width="3.5" stroke-linecap="round" fill="none"/><path d="M443.4 393.6L440.5 394.5M481.0 268.5L478.4 270.0" stroke="#e00000" stroke-width="3.5" stroke-linecap="round" fill="none"/><path d="M435.7 392.2L432.9 393.1M487.9 269.4L485.5 271.2" stroke="#10f4f4" stroke-width="3.5" stroke-linecap="round" fill="none"/><path d="M435.3 391.4L432.4 392.3M171.3 206.7L172.7 204.0" stroke="#0000e6" stroke-width="3.5" stroke-linecap="round" fill="none"/><path d="M175.3 349.7L173.9 346.7M484.3 267.5L481.6 269.5M178.4 205.0L180.2 202.2" stroke="#000" stroke-width="3.3" fill="none"/><path d="M435.6 393.6L432.7 394.4M144.5 211.6L145.6 208.8M553.8 146.0L552.0 148.4" stroke="#0aeb0a" stroke-width="3.5" stroke-linecap="round" fill="none"/><path d="M171.2 352.0L170.0 349.3M162.7 209.6L164.8 207.4" stroke="#e00000" stroke-width="3.5" stroke-linecap="round" fill="none"/><path d="M166.2 208.7L167.7 206.1" stroke="#10f4f4" stroke-width="3.5" stroke-linecap="round" fill="none"/><path d="M432.4 392.3L429.5 393.1M175.6 352.1L174.2 349.4" stroke="#0000e6" stroke-width="3.5" stroke-linecap="round" fill="none"/><path d="M430.7 393.4L432.0 396.0M153.5 212.3L151.2 210.3" stroke="#eb0aeb" stroke-width="3.5" stroke-linecap="round" fill="none"/><path d="M173.1 353.2L171.7 350.6" stroke="#0aeb0a" stroke-width="3.5" stroke-linecap="round" fill="none"/><path d="M440.5 394.5L437.7 395.4M526.9 146.1L526.1 149.0" stroke="#e00000" stroke-width="3.5" stroke-linecap="round" fill="none"/><path d="M432.9 393.1L430.0 393.9M175.9 352.8L174.6 350.2" stroke="#10f4f4" stroke-width="3.5" stroke-linecap="round" fill="none"/><path d="M483.7 269.6L481.0 271.0" stroke="#0000e6" stroke-width="3.5" stroke-linecap="round" fill="none"/><path d="M431.2 391.5L428.0 392.4M497.2 144.4L497.3 147.7" stroke="#000" stroke-width="3.3" fill="none"/><path d="M164.4 355.7L163.0 353.1M494.4 273.7L492.5 276.0" stroke="#eb0aeb" stroke-width="3.5" stroke-linecap="round" fill="none"/><path d="M475.8 269.8L473.2 271.3" stroke="#0aeb0a" stroke-width="3.5" stroke-linecap="round" fill="none"/><path d="M478.4 270.0L475.8 271.4" stroke="#e00000" stroke-width="3.5" stroke-linecap="round" fill="none"/><path d="M517.0 145.8L515.9 148.7" stroke="#10f4f4" stroke-width="3.5" stroke-linecap="round" fill="none"/><path d="M170.1 209.4L171.3 206.7M508.6 145.4L508.7 148.4" stroke="#0000e6" stroke-width="3.5" stroke-linecap="round" fill="none"/><path d="M432.7 394.4L429.8 395.2" stroke="#0aeb0a" stroke-width="3.5" stroke-linecap="round" fill="none"/><path d="M437.7 395.4L434.8 396.2M172.6 354.7L171.2 352.0M161.2 212.2L162.7 209.6" stroke="#e00000" stroke-width="3.5" stroke-linecap="round" fill="none"/><path d="M430.0 393.9L427.1 394.7M485.5 271.2L482.9 272.8" stroke="#10f4f4" stroke-width="3.5" stroke-linecap="round" fill="none"/><path d="M429.5 393.1L426.6 393.8M177.1 354.6L175.6 352.1" stroke="#0000e6" stroke-width="3.5" stroke-linecap="round" fill="none"/><path d="M155.8 214.2L153.5 212.3M502.2 148.0L500.9 150.7" stroke="#eb0aeb" stroke-width="3.5" stroke-linecap="round" fill="none"/><path d="M174.6 355.8L173.1 353.2" stroke="#0aeb0a" stroke-width="3.5" stroke-linecap="round" fill="none"/><path d="M165.1 211.5L166.2 208.7" stroke="#10f4f4" stroke-width="3.5" stroke-linecap="round" fill="none"/><path d="M170.0 357.4L167.0 357.0L164.4 355.7" stroke="#eb0aeb" stroke-width="3.5" stroke-linecap="round" fill="none"/><path d="M429.8 395.2L426.9 396.0M143.8 214.5L144.5 211.6M552.0 148.4L552.6 151.3" stroke="#0aeb0a" stroke-width="3.5" stroke-linecap="round" fill="none"/><path d="M427.1 394.7L424.2 395.5M177.5 355.4L175.9 352.8" stroke="#10f4f4" stroke-width="3.5" stroke-linecap="round" fill="none"/><path d="M426.6 393.8L423.7 394.6M481.0 271.0L478.4 272.4" stroke="#0000e6" stroke-width="3.5" stroke-linecap="round" fill="none"/><path d="M425.2 393.1L422.0 393.9M178.5 355.0L176.7 352.2" stroke="#000" stroke-width="3.3" fill="none"/><path d="M178.9 358.5L175.9 358.2L173.0 357.8L170.0 357.4" stroke="#eb0aeb" stroke-width="3.5" stroke-linecap="round" fill="none"/><path d="M473.2 271.3L470.6 272.7" stroke="#0aeb0a" stroke-width="3.5" stroke-linecap="round" fill="none"/><path d="M434.8 396.2L431.9 397.0M475.8 271.4L473.1 272.8" stroke="#e00000" stroke-width="3.5" stroke-linecap="round" fill="none"/><path d="M169.0 212.2L170.1 209.4" stroke="#0000e6" stroke-width="3.5" stroke-linecap="round" fill="none"/><path d="M175.5 210.4L177.0 207.5" stroke="#000" stroke-width="3.3" fill="none"/><path d="M432.0 396.0L432.2 399.0M181.8 359.3L178.9 358.5M492.5 276.0L490.2 278.0M157.9 216.3L155.8 214.2" stroke="#eb0aeb" stroke-width="3.5" stroke-linecap="round" fill="none"/><path d="M426.9 396.0L424.0 396.7M176.3 358.3L174.6 355.8" stroke="#0aeb0a" stroke-width="3.5" stroke-linecap="round" fill="none"/><path d="M174.2 357.2L172.6 354.7M160.5 215.1L161.2 212.2M526.1 149.0L524.8 151.7" stroke="#e00000" stroke-width="3.5" stroke-linecap="round" fill="none"/><path d="M424.2 395.5L421.3 396.2M482.9 272.8L480.2 274.0" stroke="#10f4f4" stroke-width="3.5" stroke-linecap="round" fill="none"/><path d="M423.7 394.6L420.8 395.3M178.8 357.1L177.1 354.6" stroke="#0000e6" stroke-width="3.5" stroke-linecap="round" fill="none"/><path d="M479.2 271.1L476.5 272.9" stroke="#000" stroke-width="3.3" fill="none"/><path d="M183.8 361.5L181.8 359.3" stroke="#eb0aeb" stroke-width="3.5" stroke-linecap="round" fill="none"/><path d="M431.9 397.0L429.0 397.8" stroke="#e00000" stroke-width="3.5" stroke-linecap="round" fill="none"/><path d="M179.2 357.9L177.5 355.4M164.6 214.5L165.1 211.5M515.9 148.7L514.9 151.5" stroke="#10f4f4" stroke-width="3.5" stroke-linecap="round" fill="none"/><path d="M478.4 272.4L475.7 273.8M508.7 148.4L508.4 151.4" stroke="#0000e6" stroke-width="3.5" stroke-linecap="round" fill="none"/><path d="M424.0 396.7L421.1 397.4M143.3 217.5L143.8 214.5" stroke="#0aeb0a" stroke-width="3.5" stroke-linecap="round" fill="none"/><path d="M420.8 395.3L417.8 396.0" stroke="#0000e6" stroke-width="3.5" stroke-linecap="round" fill="none"/><path d="M500.9 150.7L501.5 153.5" stroke="#eb0aeb" stroke-width="3.5" stroke-linecap="round" fill="none"/><path d="M178.1 360.6L176.3 358.3M470.6 272.7L467.9 274.2" stroke="#0aeb0a" stroke-width="3.5" stroke-linecap="round" fill="none"/><path d="M429.0 397.8L426.1 398.6M175.8 359.7L174.2 357.2M473.1 272.8L470.5 274.2" stroke="#e00000" stroke-width="3.5" stroke-linecap="round" fill="none"/><path d="M421.3 396.2L418.3 396.9M480.2 274.0L477.4 275.2" stroke="#10f4f4" stroke-width="3.5" stroke-linecap="round" fill="none"/><path d="M180.6 359.5L178.8 357.1M168.3 215.2L169.0 212.2" stroke="#0000e6" stroke-width="3.5" stroke-linecap="round" fill="none"/><path d="M419.2 394.6L415.9 395.3" stroke="#000" stroke-width="3.3" fill="none"/><path d="M185.9 363.7L183.8 361.5M158.8 219.1L157.9 216.3" stroke="#eb0aeb" stroke-width="3.5" stroke-linecap="round" fill="none"/><path d="M421.1 397.4L418.2 398.1M552.6 151.3L552.7 154.0" stroke="#0aeb0a" stroke-width="3.5" stroke-linecap="round" fill="none"/><path d="M181.0 360.3L179.2 357.9" stroke="#10f4f4" stroke-width="3.5" stroke-linecap="round" fill="none"/><path d="M417.8 396.0L414.9 396.6" stroke="#0000e6" stroke-width="3.5" stroke-linecap="round" fill="none"/><path d="M432.2 399.0L430.3 401.0M490.2 278.0L487.6 279.3" stroke="#eb0aeb" stroke-width="3.5" stroke-linecap="round" fill="none"/><path d="M426.1 398.6L423.2 399.3M159.9 218.0L160.5 215.1" stroke="#e00000" stroke-width="3.5" stroke-linecap="round" fill="none"/><path d="M418.3 396.9L415.4 397.6M164.3 217.4L164.6 214.5" stroke="#10f4f4" stroke-width="3.5" stroke-linecap="round" fill="none"/><path d="M475.7 273.8L473.1 275.2" stroke="#0000e6" stroke-width="3.5" stroke-linecap="round" fill="none"/><path d="M182.3 359.9L180.2 357.3" stroke="#000" stroke-width="3.3" fill="none"/><path d="M418.2 398.1L415.2 398.7M180.1 362.9L178.1 360.6" stroke="#0aeb0a" stroke-width="3.5" stroke-linecap="round" fill="none"/><path d="M177.7 362.1L175.8 359.7M470.5 274.2L467.8 275.7M524.8 151.7L524.0 154.6" stroke="#e00000" stroke-width="3.5" stroke-linecap="round" fill="none"/><path d="M477.4 275.2L474.6 276.2" stroke="#10f4f4" stroke-width="3.5" stroke-linecap="round" fill="none"/><path d="M414.9 396.6L412.0 397.2M182.6 361.8L180.6 359.5" stroke="#0000e6" stroke-width="3.5" stroke-linecap="round" fill="none"/><path d="M188.0 365.7L185.9 363.7" stroke="#eb0aeb" stroke-width="3.5" stroke-linecap="round" fill="none"/><path d="M467.9 274.2L465.3 275.6M143.7 220.4L143.3 217.5" stroke="#0aeb0a" stroke-width="3.5" stroke-linecap="round" fill="none"/><path d="M423.2 399.3L420.3 400.0" stroke="#e00000" stroke-width="3.5" stroke-linecap="round" fill="none"/><path d="M415.4 397.6L412.5 398.2M182.9 362.6L181.0 360.3M514.9 151.5L514.4 154.4" stroke="#10f4f4" stroke-width="3.5" stroke-linecap="round" fill="none"/><path d="M167.9 218.1L168.3 215.2" stroke="#0000e6" stroke-width="3.5" stroke-linecap="round" fill="none"/><path d="M413.1 395.9L409.9 396.6M173.2 216.2L174.3 213.1" stroke="#000" stroke-width="3.3" fill="none"/><path d="M487.6 279.3L484.6 279.8M159.2 222.1L158.8 219.1" stroke="#eb0aeb" stroke-width="3.5" stroke-linecap="round" fill="none"/><path d="M415.2 398.7L412.3 399.4" stroke="#0aeb0a" stroke-width="3.5" stroke-linecap="round" fill="none"/><path d="M412.0 397.2L409.0 397.8M508.4 151.4L507.5 154.3" stroke="#0000e6" stroke-width="3.5" stroke-linecap="round" fill="none"/><path d="M430.3 401.0L427.4 401.9M403.9 399.3L400.9 399.1M190.3 367.7L188.0 365.7M484.6 279.8L481.6 280.2M501.5 153.5L503.6 155.6" stroke="#eb0aeb" stroke-width="3.5" stroke-linecap="round" fill="none"/><path d="M182.1 365.1L180.1 362.9M552.7 154.0L550.6 156.1" stroke="#0aeb0a" stroke-width="3.5" stroke-linecap="round" fill="none"/><path d="M420.3 400.0L417.3 400.7M179.6 364.4L177.7 362.1M159.5 221.0L159.9 218.0" stroke="#e00000" stroke-width="3.5" stroke-linecap="round" fill="none"/><path d="M412.5 398.2L409.5 398.9M474.6 276.2L471.8 277.4M164.2 220.4L164.3 217.4" stroke="#10f4f4" stroke-width="3.5" stroke-linecap="round" fill="none"/><path d="M184.6 364.0L182.6 361.8M473.1 275.2L470.4 276.6" stroke="#0000e6" stroke-width="3.5" stroke-linecap="round" fill="none"/><path d="M474.0 274.4L471.1 276.0" stroke="#000" stroke-width="3.3" fill="none"/><path d="M406.8 400.1L403.9 399.3M400.9 399.1L397.9 399.0" stroke="#eb0aeb" stroke-width="3.5" stroke-linecap="round" fill="none"/><path d="M412.3 399.4L409.4 400.0M465.3 275.6L462.6 277.0" stroke="#0aeb0a" stroke-width="3.5" stroke-linecap="round" fill="none"/><path d="M467.8 275.7L465.2 277.1" stroke="#e00000" stroke-width="3.5" stroke-linecap="round" fill="none"/><path d="M409.5 398.9L406.6 399.5M185.0 364.8L182.9 362.6" stroke="#10f4f4" stroke-width="3.5" stroke-linecap="round" fill="none"/><path d="M409.0 397.8L406.1 398.4" stroke="#0000e6" stroke-width="3.5" stroke-linecap="round" fill="none"/><path d="M186.6 364.4L184.2 362.0M496.9 150.6L495.8 153.7" stroke="#000" stroke-width="3.3" fill="none"/><path d="M427.4 401.9L424.5 402.6M409.7 400.9L406.8 400.1M397.9 399.0L394.9 399.3M481.6 280.2L478.7 280.6" stroke="#eb0aeb" stroke-width="3.5" stroke-linecap="round" fill="none"/><path d="M145.0 223.1L143.7 220.4" stroke="#0aeb0a" stroke-width="3.5" stroke-linecap="round" fill="none"/><path d="M417.3 400.7L414.4 401.3" stroke="#e00000" stroke-width="3.5" stroke-linecap="round" fill="none"/><path d="M186.8 366.1L184.6 364.0M167.6 221.1L167.9 218.1" stroke="#0000e6" stroke-width="3.5" stroke-linecap="round" fill="none"/><path d="M407.0 397.2L403.8 397.8" stroke="#000" stroke-width="3.3" fill="none"/><path d="M412.6 401.8L409.7 400.9M394.9 399.3L392.0 399.8M192.6 369.6L190.3 367.7M159.2 225.1L159.2 222.1" stroke="#eb0aeb" stroke-width="3.5" stroke-linecap="round" fill="none"/><path d="M409.4 400.0L406.4 400.5M184.3 367.2L182.1 365.1" stroke="#0aeb0a" stroke-width="3.5" stroke-linecap="round" fill="none"/><path d="M181.6 366.6L179.6 364.4M524.0 154.6L525.2 157.2" stroke="#e00000" stroke-width="3.5" stroke-linecap="round" fill="none"/><path d="M406.6 399.5L403.7 400.0M187.1 366.9L185.0 364.8" stroke="#10f4f4" stroke-width="3.5" stroke-linecap="round" fill="none"/><path d="M406.1 398.4L403.2 399.0M470.4 276.6L467.7 277.9" stroke="#0000e6" stroke-width="3.5" stroke-linecap="round" fill="none"/><path d="M424.5 402.6L421.5 402.8L418.5 402.6L415.5 402.3L412.6 401.8M392.0 399.8L389.0 400.2M478.7 280.6L475.7 281.2M503.6 155.6L505.8 157.6" stroke="#eb0aeb" stroke-width="3.5" stroke-linecap="round" fill="none"/><path d="M550.6 156.1L552.1 158.4" stroke="#0aeb0a" stroke-width="3.5" stroke-linecap="round" fill="none"/><path d="M414.4 401.3L411.5 401.9M159.2 224.0L159.5 221.0" stroke="#e00000" stroke-width="3.5" stroke-linecap="round" fill="none"/><path d="M471.8 277.4L469.1 278.6M164.0 223.4L164.2 220.4M514.4 154.4L514.1 157.4" stroke="#10f4f4" stroke-width="3.5" stroke-linecap="round" fill="none"/><path d="M403.2 399.0L400.2 399.5" stroke="#0000e6" stroke-width="3.5" stroke-linecap="round" fill="none"/><path d="M195.0 371.4L192.6 369.6" stroke="#eb0aeb" stroke-width="3.5" stroke-linecap="round" fill="none"/><path d="M406.4 400.5L403.5 401.1M462.6 277.0L460.0 278.4" stroke="#0aeb0a" stroke-width="3.5" stroke-linecap="round" fill="none"/><path d="M465.2 277.1L462.6 278.6" stroke="#e00000" stroke-width="3.5" stroke-linecap="round" fill="none"/><path d="M403.7 400.0L400.7 400.6" stroke="#10f4f4" stroke-width="3.5" stroke-linecap="round" fill="none"/><path d="M189.0 368.1L186.8 366.1M507.5 154.3L506.2 157.0" stroke="#0000e6" stroke-width="3.5" stroke-linecap="round" fill="none"/><path d="M400.9 398.3L397.7 398.9" stroke="#000" stroke-width="3.3" fill="none"/><path d="M389.0 400.2L386.0 400.6M475.7 281.2L472.8 282.0" stroke="#eb0aeb" stroke-width="3.5" stroke-linecap="round" fill="none"/><path d="M403.5 401.1L400.5 401.6M186.5 369.2L184.3 367.2M146.5 225.7L145.0 223.1" stroke="#0aeb0a" stroke-width="3.5" stroke-linecap="round" fill="none"/><path d="M411.5 401.9L408.5 402.5M183.7 368.8L181.6 366.6" stroke="#e00000" stroke-width="3.5" stroke-linecap="round" fill="none"/><path d="M189.4 368.9L187.1 366.9" stroke="#10f4f4" stroke-width="3.5" stroke-linecap="round" fill="none"/><path d="M400.2 399.5L397.2 400.0M167.4 224.1L167.6 221.1" stroke="#0000e6" stroke-width="3.5" stroke-linecap="round" fill="none"/><path d="M171.5 222.1L172.3 218.9" stroke="#000" stroke-width="3.3" fill="none"/><path d="M386.0 400.6L383.1 401.0M197.5 373.2L195.0 371.4" stroke="#eb0aeb" stroke-width="3.5" stroke-linecap="round" fill="none"/><path d="M400.7 400.6L397.7 401.1M469.1 278.6L466.3 279.7" stroke="#10f4f4" stroke-width="3.5" stroke-linecap="round" fill="none"/><path d="M467.7 277.9L464.9 279.1" stroke="#0000e6" stroke-width="3.5" stroke-linecap="round" fill="none"/><path d="M191.2 368.5L188.7 366.3M468.5 277.4L465.6 278.8" stroke="#000" stroke-width="3.3" fill="none"/><path d="M158.2 227.8L159.2 225.1M505.8 157.6L508.2 159.4" stroke="#eb0aeb" stroke-width="3.5" stroke-linecap="round" fill="none"/><path d="M400.5 401.6L397.6 402.1M188.8 371.2L186.5 369.2M460.0 278.4L457.3 279.7M552.1 158.4L554.7 159.8" stroke="#0aeb0a" stroke-width="3.5" stroke-linecap="round" fill="none"/><path d="M408.5 402.5L405.6 403.1M462.6 278.6L459.9 280.0M160.0 226.9L159.2 224.0M525.2 157.2L526.8 159.8" stroke="#e00000" stroke-width="3.5" stroke-linecap="round" fill="none"/><path d="M191.7 370.8L189.4 368.9" stroke="#10f4f4" stroke-width="3.5" stroke-linecap="round" fill="none"/><path d="M397.2 400.0L394.3 400.5M191.3 370.0L189.0 368.1" stroke="#0000e6" stroke-width="3.5" stroke-linecap="round" fill="none"/><path d="M383.1 401.0L380.1 401.4M472.8 282.0L469.9 282.7" stroke="#eb0aeb" stroke-width="3.5" stroke-linecap="round" fill="none"/><path d="M185.9 370.8L183.7 368.8" stroke="#e00000" stroke-width="3.5" stroke-linecap="round" fill="none"/><path d="M397.7 401.1L394.8 401.6M163.7 226.4L164.0 223.4" stroke="#10f4f4" stroke-width="3.5" stroke-linecap="round" fill="none"/><path d="M394.3 400.5L391.3 400.9" stroke="#0000e6" stroke-width="3.5" stroke-linecap="round" fill="none"/><path d="M394.8 399.3L391.6 399.8" stroke="#000" stroke-width="3.3" fill="none"/><path d="M380.1 401.4L377.1 401.7M198.0 375.9L197.5 373.2" stroke="#eb0aeb" stroke-width="3.5" stroke-linecap="round" fill="none"/><path d="M397.6 402.1L394.6 402.6M191.2 373.0L188.8 371.2M148.1 228.3L146.5 225.7M554.7 159.8L557.4 161.1" stroke="#0aeb0a" stroke-width="3.5" stroke-linecap="round" fill="none"/><path d="M405.6 403.1L402.6 403.6" stroke="#e00000" stroke-width="3.5" stroke-linecap="round" fill="none"/><path d="M394.8 401.6L391.8 402.1M466.3 279.7L463.5 280.7" stroke="#10f4f4" stroke-width="3.5" stroke-linecap="round" fill="none"/><path d="M193.6 371.9L191.3 370.0M464.9 279.1L462.2 280.2" stroke="#0000e6" stroke-width="3.5" stroke-linecap="round" fill="none"/><path d="M469.9 282.7L467.0 283.4M156.0 229.9L158.2 227.8" stroke="#eb0aeb" stroke-width="3.5" stroke-linecap="round" fill="none"/><path d="M394.6 402.6L391.6 403.0" stroke="#0aeb0a" stroke-width="3.5" stroke-linecap="round" fill="none"/><path d="M188.2 372.8L185.9 370.8" stroke="#e00000" stroke-width="3.5" stroke-linecap="round" fill="none"/><path d="M194.0 372.6L191.7 370.8M514.1 157.4L513.4 160.3" stroke="#10f4f4" stroke-width="3.5" stroke-linecap="round" fill="none"/><path d="M391.3 400.9L388.3 401.3M167.4 227.1L167.4 224.1M506.2 157.0L504.3 159.3" stroke="#0000e6" stroke-width="3.5" stroke-linecap="round" fill="none"/><path d="M196.1 372.2L193.5 370.3" stroke="#000" stroke-width="3.3" fill="none"/><path d="M377.1 401.7L374.1 402.0M508.2 159.4L509.7 161.5" stroke="#eb0aeb" stroke-width="3.5" stroke-linecap="round" fill="none"/><path d="M457.3 279.7L454.5 280.9" stroke="#0aeb0a" stroke-width="3.5" stroke-linecap="round" fill="none"/><path d="M402.6 403.6L399.7 404.1M459.9 280.0L457.3 281.4" stroke="#e00000" stroke-width="3.5" stroke-linecap="round" fill="none"/><path d="M391.8 402.1L388.8 402.5" stroke="#10f4f4" stroke-width="3.5" stroke-linecap="round" fill="none"/><path d="M388.3 401.3L385.4 401.7M196.0 373.7L193.6 371.9" stroke="#0000e6" stroke-width="3.5" stroke-linecap="round" fill="none"/><path d="M388.7 400.2L385.4 400.7" stroke="#000" stroke-width="3.3" fill="none"/><path d="M374.1 402.0L371.1 402.3M467.0 283.4L464.1 284.1" stroke="#eb0aeb" stroke-width="3.5" stroke-linecap="round" fill="none"/><path d="M391.6 403.0L388.7 403.5M193.6 374.8L191.2 373.0M557.4 161.1L560.2 162.4" stroke="#0aeb0a" stroke-width="3.5" stroke-linecap="round" fill="none"/><path d="M399.7 404.1L396.7 404.6M161.0 229.7L160.0 226.9" stroke="#e00000" stroke-width="3.5" stroke-linecap="round" fill="none"/><path d="M388.8 402.5L385.9 402.9M196.5 374.4L194.0 372.6M463.5 280.7L460.7 281.8M163.6 229.4L163.7 226.4" stroke="#10f4f4" stroke-width="3.5" stroke-linecap="round" fill="none"/><path d="M462.2 280.2L459.4 281.3" stroke="#0000e6" stroke-width="3.5" stroke-linecap="round" fill="none"/><path d="M371.1 402.3L368.1 402.6M196.6 378.5L198.0 375.9M153.8 232.0L156.0 229.9" stroke="#eb0aeb" stroke-width="3.5" stroke-linecap="round" fill="none"/><path d="M388.7 403.5L385.7 403.9M150.0 230.6L148.1 228.3" stroke="#0aeb0a" stroke-width="3.5" stroke-linecap="round" fill="none"/><path d="M190.5 374.7L188.2 372.8M526.8 159.8L526.1 162.6" stroke="#e00000" stroke-width="3.5" stroke-linecap="round" fill="none"/><path d="M385.4 401.7L382.4 402.1M198.5 375.4L196.0 373.7" stroke="#0000e6" stroke-width="3.5" stroke-linecap="round" fill="none"/><path d="M463.0 280.1L459.9 281.4M170.7 228.3L171.0 225.0" stroke="#000" stroke-width="3.3" fill="none"/><path d="M368.1 402.6L365.2 402.9" stroke="#eb0aeb" stroke-width="3.5" stroke-linecap="round" fill="none"/><path d="M196.1 376.5L193.6 374.8M454.5 280.9L451.6 281.7M560.2 162.4L560.9 163.7" stroke="#0aeb0a" stroke-width="3.5" stroke-linecap="round" fill="none"/><path d="M396.7 404.6L393.7 405.1" stroke="#e00000" stroke-width="3.5" stroke-linecap="round" fill="none"/><path d="M385.9 402.9L382.9 403.3M199.0 376.1L196.5 374.4" stroke="#10f4f4" stroke-width="3.5" stroke-linecap="round" fill="none"/><path d="M382.4 402.1L379.4 402.5M167.5 230.1L167.4 227.1" stroke="#0000e6" stroke-width="3.5" stroke-linecap="round" fill="none"/><path d="M382.5 401.1L379.3 401.5M201.3 375.6L198.5 373.9M494.5 156.3L492.7 159.0" stroke="#000" stroke-width="3.3" fill="none"/><path d="M464.1 284.1L461.2 284.9M509.7 161.5L507.5 163.5" stroke="#eb0aeb" stroke-width="3.5" stroke-linecap="round" fill="none"/><path d="M385.7 403.9L382.7 404.2" stroke="#0aeb0a" stroke-width="3.5" stroke-linecap="round" fill="none"/><path d="M393.7 405.1L390.8 405.5M192.9 376.5L190.5 374.7M457.3 281.4L454.6 282.7" stroke="#e00000" stroke-width="3.5" stroke-linecap="round" fill="none"/><path d="M382.9 403.3L379.9 403.7M460.7 281.8L457.8 282.9" stroke="#10f4f4" stroke-width="3.5" stroke-linecap="round" fill="none"/><path d="M201.1 377.0L198.5 375.4M459.4 281.3L456.6 282.4" stroke="#0000e6" stroke-width="3.5" stroke-linecap="round" fill="none"/><path d="M365.2 402.9L362.2 403.2M194.5 380.6L196.6 378.5M151.5 233.9L153.8 232.0" stroke="#eb0aeb" stroke-width="3.5" stroke-linecap="round" fill="none"/><path d="M382.7 404.2L379.7 404.6M198.6 378.1L196.1 376.5M451.6 281.7L448.7 282.4M151.9 232.9L150.0 230.6" stroke="#0aeb0a" stroke-width="3.5" stroke-linecap="round" fill="none"/><path d="M161.3 232.7L161.0 229.7" stroke="#e00000" stroke-width="3.5" stroke-linecap="round" fill="none"/><path d="M201.5 377.7L199.0 376.1M163.7 232.4L163.6 229.4M513.4 160.3L512.1 163.0" stroke="#10f4f4" stroke-width="3.5" stroke-linecap="round" fill="none"/><path d="M379.4 402.5L376.4 402.8M504.3 159.3L502.0 161.2" stroke="#0000e6" stroke-width="3.5" stroke-linecap="round" fill="none"/><path d="M461.2 284.9L458.3 285.6" stroke="#eb0aeb" stroke-width="3.5" stroke-linecap="round" fill="none"/><path d="M379.7 404.6L376.7 404.9M201.1 379.7L198.6 378.1M560.9 163.7L558.1 164.7" stroke="#0aeb0a" stroke-width="3.5" stroke-linecap="round" fill="none"/><path d="M390.8 405.5L387.8 406.0M195.4 378.2L192.9 376.5M526.1 162.6L523.6 164.0" stroke="#e00000" stroke-width="3.5" stroke-linecap="round" fill="none"/><path d="M379.9 403.7L376.9 404.0" stroke="#10f4f4" stroke-width="3.5" stroke-linecap="round" fill="none"/><path d="M376.4 402.8L373.5 403.1M203.6 378.5L201.1 377.0" stroke="#0000e6" stroke-width="3.5" stroke-linecap="round" fill="none"/><path d="M376.4 401.8L373.1 402.1" stroke="#000" stroke-width="3.3" fill="none"/><path d="M448.7 282.4L445.8 283.2M558.1 164.7L555.1 165.1" stroke="#0aeb0a" stroke-width="3.5" stroke-linecap="round" fill="none"/><path d="M387.8 406.0L384.8 406.4M454.6 282.7L451.9 284.1" stroke="#e00000" stroke-width="3.5" stroke-linecap="round" fill="none"/><path d="M376.9 404.0L373.9 404.3M204.1 379.3L201.5 377.7M457.8 282.9L455.1 284.0" stroke="#10f4f4" stroke-width="3.5" stroke-linecap="round" fill="none"/><path d="M373.5 403.1L370.5 403.4M456.6 282.4L453.8 283.5M167.7 233.1L167.5 230.1" stroke="#0000e6" stroke-width="3.5" stroke-linecap="round" fill="none"/><path d="M206.7 378.8L203.8 377.1" stroke="#000" stroke-width="3.3" fill="none"/><path d="M362.2 403.2L360.4 405.5M458.3 285.6L455.3 286.3M149.1 235.7L151.5 233.9" stroke="#eb0aeb" stroke-width="3.5" stroke-linecap="round" fill="none"/><path d="M376.7 404.9L373.8 405.3M203.7 381.2L201.1 379.7M555.1 165.1L552.1 165.3L549.1 165.5" stroke="#0aeb0a" stroke-width="3.5" stroke-linecap="round" fill="none"/><path d="M197.9 379.9L195.4 378.2" stroke="#e00000" stroke-width="3.5" stroke-linecap="round" fill="none"/><path d="M373.9 404.3L371.0 404.6M206.7 380.7L204.1 379.3" stroke="#10f4f4" stroke-width="3.5" stroke-linecap="round" fill="none"/><path d="M370.5 403.4L367.5 403.7M206.3 379.9L203.6 378.5" stroke="#0000e6" stroke-width="3.5" stroke-linecap="round" fill="none"/><path d="M370.2 402.4L366.9 402.7" stroke="#000" stroke-width="3.3" fill="none"/><path d="M219.7 385.1L216.8 384.7M193.8 383.1L194.5 380.6M507.5 163.5L504.9 165.1" stroke="#eb0aeb" stroke-width="3.5" stroke-linecap="round" fill="none"/><path d="M373.8 405.3L370.8 405.6M153.0 235.7L151.9 232.9M549.1 165.5L546.1 165.7" stroke="#0aeb0a" stroke-width="3.5" stroke-linecap="round" fill="none"/><path d="M384.8 406.4L381.8 406.7M161.0 235.7L161.3 232.7M523.6 164.0L520.6 164.5" stroke="#e00000" stroke-width="3.5" stroke-linecap="round" fill="none"/><path d="M163.9 235.4L163.7 232.4" stroke="#10f4f4" stroke-width="3.5" stroke-linecap="round" fill="none"/><path d="M208.9 381.4L206.3 379.9M502.0 161.2L499.6 163.0" stroke="#0000e6" stroke-width="3.5" stroke-linecap="round" fill="none"/><path d="M457.3 282.5L454.2 283.8" stroke="#000" stroke-width="3.3" fill="none"/><path d="M222.5 386.2L219.7 385.1M216.8 384.7L213.9 385.1" stroke="#eb0aeb" stroke-width="3.5" stroke-linecap="round" fill="none"/><path d="M370.8 405.6L367.8 405.8M206.4 382.6L203.7 381.2M445.8 283.2L443.0 284.1M546.1 165.7L543.2 166.0" stroke="#0aeb0a" stroke-width="3.5" stroke-linecap="round" fill="none"/><path d="M381.8 406.7L378.9 407.1M200.4 381.5L197.9 379.9M520.6 164.5L517.7 164.9" stroke="#e00000" stroke-width="3.5" stroke-linecap="round" fill="none"/><path d="M371.0 404.6L368.0 404.9M209.3 382.2L206.7 380.7M455.1 284.0L452.3 285.1M512.1 163.0L509.7 164.9" stroke="#10f4f4" stroke-width="3.5" stroke-linecap="round" fill="none"/><path d="M367.5 403.7L364.5 404.0M453.8 283.5L451.2 284.9" stroke="#0000e6" stroke-width="3.5" stroke-linecap="round" fill="none"/><path d="M212.2 381.6L209.2 380.1M170.8 234.5L170.6 231.2" stroke="#000" stroke-width="3.3" fill="none"/><path d="M225.3 387.3L222.5 386.2M213.9 385.1L210.9 385.7M455.3 286.3L452.4 287.0M146.8 237.6L149.1 235.7" stroke="#eb0aeb" stroke-width="3.5" stroke-linecap="round" fill="none"/><path d="M367.8 405.8L364.8 406.1M543.2 166.0L540.3 167.0" stroke="#0aeb0a" stroke-width="3.5" stroke-linecap="round" fill="none"/><path d="M451.9 284.1L449.3 285.6M517.7 164.9L514.7 165.3" stroke="#e00000" stroke-width="3.5" stroke-linecap="round" fill="none"/><path d="M368.0 404.9L365.0 405.1" stroke="#10f4f4" stroke-width="3.5" stroke-linecap="round" fill="none"/><path d="M364.5 404.0L361.5 404.2M211.6 382.7L208.9 381.4M168.1 236.1L167.7 233.1" stroke="#0000e6" stroke-width="3.5" stroke-linecap="round" fill="none"/><path d="M364.0 403.0L360.7 403.2" stroke="#000" stroke-width="3.3" fill="none"/><path d="M228.1 388.4L225.3 387.3M210.9 385.7L208.0 386.2M196.3 384.8L193.8 383.1" stroke="#eb0aeb" stroke-width="3.5" stroke-linecap="round" fill="none"/><path d="M209.0 384.0L206.4 382.6M443.0 284.1L440.1 285.0" stroke="#0aeb0a" stroke-width="3.5" stroke-linecap="round" fill="none"/><path d="M378.9 407.1L375.9 407.4M203.0 383.0L200.4 381.5" stroke="#e00000" stroke-width="3.5" stroke-linecap="round" fill="none"/><path d="M365.0 405.1L362.0 405.4M212.0 383.5L209.3 382.2" stroke="#10f4f4" stroke-width="3.5" stroke-linecap="round" fill="none"/><path d="M361.5 404.2L358.5 404.4M214.3 384.0L211.6 382.7" stroke="#0000e6" stroke-width="3.5" stroke-linecap="round" fill="none"/><path d="M360.4 405.5L359.1 408.2M230.9 389.4L228.1 388.4M208.0 386.2L205.0 386.4M452.4 287.0L449.5 287.5M504.9 165.1L502.4 166.7" stroke="#eb0aeb" stroke-width="3.5" stroke-linecap="round" fill="none"/><path d="M364.8 406.1L361.8 406.3M211.7 385.3L209.0 384.0M152.4 238.6L153.0 235.7" stroke="#0aeb0a" stroke-width="3.5" stroke-linecap="round" fill="none"/><path d="M375.9 407.4L372.9 407.7M160.7 238.6L161.0 235.7M514.7 165.3L511.9 166.2" stroke="#e00000" stroke-width="3.5" stroke-linecap="round" fill="none"/><path d="M362.0 405.4L359.0 405.6M214.7 384.8L212.0 383.5M452.3 285.1L449.5 286.3" stroke="#10f4f4" stroke-width="3.5" stroke-linecap="round" fill="none"/><path d="M358.5 404.4L355.5 404.6" stroke="#0000e6" stroke-width="3.5" stroke-linecap="round" fill="none"/><path d="M357.9 403.4L354.6 403.6M217.8 384.2L214.8 382.9" stroke="#000" stroke-width="3.3" fill="none"/><path d="M233.8 390.3L230.9 389.4M205.0 386.4L202.0 386.3L199.0 386.0L196.3 384.8M144.6 239.7L146.8 237.6" stroke="#eb0aeb" stroke-width="3.5" stroke-linecap="round" fill="none"/><path d="M361.8 406.3L358.8 406.5M214.5 386.6L211.7 385.3M540.3 167.0L538.1 169.0" stroke="#0aeb0a" stroke-width="3.5" stroke-linecap="round" fill="none"/><path d="M372.9 407.7L369.9 408.0M205.6 384.5L203.0 383.0M449.3 285.6L446.6 286.9" stroke="#e00000" stroke-width="3.5" stroke-linecap="round" fill="none"/><path d="M359.0 405.6L356.0 405.8M164.1 238.4L163.9 235.4M509.7 164.9L507.2 166.4" stroke="#10f4f4" stroke-width="3.5" stroke-linecap="round" fill="none"/><path d="M355.5 404.6L352.5 404.8M217.0 385.2L214.3 384.0M451.2 284.9L448.5 286.4M499.6 163.0L497.3 164.9" stroke="#0000e6" stroke-width="3.5" stroke-linecap="round" fill="none"/><path d="M236.6 391.3L233.8 390.3M449.5 287.5L446.5 288.0" stroke="#eb0aeb" stroke-width="3.5" stroke-linecap="round" fill="none"/><path d="M358.8 406.5L355.8 406.7M440.1 285.0L437.2 285.8" stroke="#0aeb0a" stroke-width="3.5" stroke-linecap="round" fill="none"/><path d="M369.9 408.0L366.9 408.3M208.3 385.9L205.6 384.5" stroke="#e00000" stroke-width="3.5" stroke-linecap="round" fill="none"/><path d="M356.0 405.8L353.0 405.9M217.4 386.1L214.7 384.8" stroke="#10f4f4" stroke-width="3.5" stroke-linecap="round" fill="none"/><path d="M352.5 404.8L349.5 404.9M219.8 386.4L217.0 385.2M168.5 239.1L168.1 236.1" stroke="#0000e6" stroke-width="3.5" stroke-linecap="round" fill="none"/><path d="M351.7 403.7L348.4 403.9M451.5 284.8L448.4 285.9M490.8 161.2L488.5 163.6" stroke="#000" stroke-width="3.3" fill="none"/><path d="M330.7 404.9L327.8 404.2L324.8 404.2L321.8 404.1M242.4 393.0L239.5 392.1L236.6 391.3M446.5 288.0L443.6 288.6" stroke="#eb0aeb" stroke-width="3.5" stroke-linecap="round" fill="none"/><path d="M355.8 406.7L352.8 406.9M217.2 387.8L214.5 386.6" stroke="#0aeb0a" stroke-width="3.5" stroke-linecap="round" fill="none"/><path d="M353.0 405.9L350.0 406.1M220.2 387.3L217.4 386.1M449.5 286.3L446.7 287.4" stroke="#10f4f4" stroke-width="3.5" stroke-linecap="round" fill="none"/><path d="M349.5 404.9L346.5 405.0M222.6 387.5L219.8 386.4" stroke="#0000e6" stroke-width="3.5" stroke-linecap="round" fill="none"/><path d="M223.5 386.6L220.5 385.4" stroke="#000" stroke-width="3.3" fill="none"/><path d="M333.0 406.8L330.7 404.9M321.8 404.1L318.8 404.0L315.8 403.9M245.3 393.8L242.4 393.0M142.4 241.7L144.6 239.7M502.4 166.7L499.9 168.4" stroke="#eb0aeb" stroke-width="3.5" stroke-linecap="round" fill="none"/><path d="M352.8 406.9L349.8 407.0M220.0 388.9L217.2 387.8M437.2 285.8L434.3 286.7M150.9 241.2L152.4 238.6" stroke="#0aeb0a" stroke-width="3.5" stroke-linecap="round" fill="none"/><path d="M366.9 408.3L363.9 408.6M210.9 387.2L208.3 385.9M446.6 286.9L443.8 287.9M511.9 166.2L510.0 168.6" stroke="#e00000" stroke-width="3.5" stroke-linecap="round" fill="none"/><path d="M350.0 406.1L347.0 406.2M223.0 388.4L220.2 387.3" stroke="#10f4f4" stroke-width="3.5" stroke-linecap="round" fill="none"/><path d="M346.5 405.0L343.5 405.1M225.4 388.6L222.6 387.5M448.5 286.4L445.8 287.6" stroke="#0000e6" stroke-width="3.5" stroke-linecap="round" fill="none"/><path d="M345.5 404.0L342.2 404.1" stroke="#000" stroke-width="3.3" fill="none"/><path d="M359.1 408.2L357.4 410.6M315.8 403.9L312.8 403.8L309.8 403.6M251.1 395.3L248.2 394.6L245.3 393.8" stroke="#eb0aeb" stroke-width="3.5" stroke-linecap="round" fill="none"/><path d="M349.8 407.0L346.8 407.2M222.8 390.1L220.0 388.9" stroke="#0aeb0a" stroke-width="3.5" stroke-linecap="round" fill="none"/><path d="M363.9 408.6L360.9 408.8M160.2 241.6L160.7 238.6" stroke="#e00000" stroke-width="3.5" stroke-linecap="round" fill="none"/><path d="M347.0 406.2L344.0 406.3M225.8 389.5L223.0 388.4M164.4 241.4L164.1 238.4M507.2 166.4L504.6 167.9" stroke="#10f4f4" stroke-width="3.5" stroke-linecap="round" fill="none"/><path d="M343.5 405.1L340.5 405.2M228.2 389.7L225.4 388.6" stroke="#0000e6" stroke-width="3.5" stroke-linecap="round" fill="none"/><path d="M229.3 388.8L226.2 387.7M171.9 240.6L171.2 237.3" stroke="#000" stroke-width="3.3" fill="none"/><path d="M309.8 403.6L306.8 403.5L303.8 403.3M443.6 288.6L440.7 289.4" stroke="#eb0aeb" stroke-width="3.5" stroke-linecap="round" fill="none"/><path d="M346.8 407.2L343.8 407.3M225.6 391.1L222.8 390.1M538.1 169.0L536.7 171.6" stroke="#0aeb0a" stroke-width="3.5" stroke-linecap="round" fill="none"/><path d="M360.9 408.8L357.9 409.0M213.6 388.6L210.9 387.2" stroke="#e00000" stroke-width="3.5" stroke-linecap="round" fill="none"/><path d="M344.0 406.3L341.0 406.3M228.6 390.6L225.8 389.5M446.7 287.4L443.9 288.4" stroke="#10f4f4" stroke-width="3.5" stroke-linecap="round" fill="none"/><path d="M340.5 405.2L337.5 405.2L334.5 405.3M231.0 390.6L228.2 389.7M168.8 242.0L168.5 239.1M497.3 164.9L494.8 166.6" stroke="#0000e6" stroke-width="3.5" stroke-linecap="round" fill="none"/><path d="M339.3 404.2L336.0 404.2" stroke="#000" stroke-width="3.3" fill="none"/><path d="M335.2 408.8L333.0 406.8M303.8 403.3L300.8 403.0L297.8 402.8L294.8 402.5L291.8 402.2M252.7 397.6L251.1 395.3" stroke="#eb0aeb" stroke-width="3.5" stroke-linecap="round" fill="none"/><path d="M343.8 407.3L340.8 407.3L337.8 407.4M228.4 392.2L225.6 391.1M434.3 286.7L431.5 287.5" stroke="#0aeb0a" stroke-width="3.5" stroke-linecap="round" fill="none"/><path d="M357.9 409.0L354.9 409.2M216.4 389.8L213.6 388.6M443.8 287.9L440.9 288.8" stroke="#e00000" stroke-width="3.5" stroke-linecap="round" fill="none"/><path d="M341.0 406.3L338.0 406.4M231.4 391.6L228.6 390.6" stroke="#10f4f4" stroke-width="3.5" stroke-linecap="round" fill="none"/><path d="M334.5 405.3L331.5 405.3M233.9 391.6L231.0 390.6M445.8 287.6L442.9 288.5" stroke="#0000e6" stroke-width="3.5" stroke-linecap="round" fill="none"/><path d="M333.1 404.2L329.8 404.2M235.2 390.8L232.0 389.8" stroke="#000" stroke-width="3.3" fill="none"/><path d="M291.8 402.2L288.9 401.9L285.9 401.5L282.9 401.2L280.0 401.4M440.7 289.4L437.8 290.2M140.7 244.1L142.4 241.7M499.9 168.4L497.4 170.0" stroke="#eb0aeb" stroke-width="3.5" stroke-linecap="round" fill="none"/><path d="M337.8 407.4L334.8 407.4M231.2 393.1L228.4 392.2M149.0 243.4L150.9 241.2" stroke="#0aeb0a" stroke-width="3.5" stroke-linecap="round" fill="none"/><path d="M354.9 409.2L351.9 409.3M219.1 391.0L216.4 389.8" stroke="#e00000" stroke-width="3.5" stroke-linecap="round" fill="none"/><path d="M338.0 406.4L335.0 406.4L332.0 406.4M234.3 392.5L231.4 391.6M443.9 288.4L441.0 289.3" stroke="#10f4f4" stroke-width="3.5" stroke-linecap="round" fill="none"/><path d="M331.5 405.3L328.5 405.3L325.5 405.3M236.7 392.5L233.9 391.6" stroke="#0000e6" stroke-width="3.5" stroke-linecap="round" fill="none"/><path d="M445.7 286.9L442.5 288.0" stroke="#000" stroke-width="3.3" fill="none"/><path d="M334.8 407.4L331.8 407.4M234.1 394.1L231.2 393.1M431.5 287.5L428.6 288.3" stroke="#0aeb0a" stroke-width="3.5" stroke-linecap="round" fill="none"/><path d="M351.9 409.3L348.9 409.5M440.9 288.8L438.0 289.7M159.4 244.5L160.2 241.6" stroke="#e00000" stroke-width="3.5" stroke-linecap="round" fill="none"/><path d="M332.0 406.4L329.0 406.4M237.1 393.4L234.3 392.5M164.7 244.4L164.4 241.4M504.6 167.9L501.9 169.3" stroke="#10f4f4" stroke-width="3.5" stroke-linecap="round" fill="none"/><path d="M325.5 405.3L322.5 405.2M242.5 394.2L239.6 393.4L236.7 392.5" stroke="#0000e6" stroke-width="3.5" stroke-linecap="round" fill="none"/><path d="M326.9 404.2L323.6 404.2M241.1 392.6L237.9 391.7" stroke="#000" stroke-width="3.3" fill="none"/><path d="M357.4 410.6L355.5 412.9M280.0 401.4L277.2 402.6M437.8 290.2L434.9 291.1" stroke="#eb0aeb" stroke-width="3.5" stroke-linecap="round" fill="none"/><path d="M331.8 407.4L328.8 407.4L325.8 407.4M236.9 395.0L234.1 394.1" stroke="#0aeb0a" stroke-width="3.5" stroke-linecap="round" fill="none"/><path d="M348.9 409.5L345.9 409.6M221.9 392.2L219.1 391.0M510.0 168.6L508.6 171.2" stroke="#e00000" stroke-width="3.5" stroke-linecap="round" fill="none"/><path d="M329.0 406.4L326.0 406.4L323.0 406.3M242.9 395.2L240.0 394.3L237.1 393.4" stroke="#10f4f4" stroke-width="3.5" stroke-linecap="round" fill="none"/><path d="M322.5 405.2L319.5 405.1L316.5 405.0M245.4 395.0L242.5 394.2M442.9 288.5L440.1 289.4M169.3 245.0L168.8 242.0M494.8 166.6L492.4 168.3" stroke="#0000e6" stroke-width="3.5" stroke-linecap="round" fill="none"/><path d="M320.7 404.1L317.4 404.0M247.1 394.3L243.9 393.4" stroke="#000" stroke-width="3.3" fill="none"/><path d="M337.3 410.9L335.2 408.8M253.3 400.5L252.7 397.6" stroke="#eb0aeb" stroke-width="3.5" stroke-linecap="round" fill="none"/><path d="M325.8 407.4L322.8 407.4M239.8 395.8L236.9 395.0M428.6 288.3L425.6 289.0M146.5 245.1L149.0 243.4" stroke="#0aeb0a" stroke-width="3.5" stroke-linecap="round" fill="none"/><path d="M345.9 409.6L342.9 409.7M224.7 393.3L221.9 392.2" stroke="#e00000" stroke-width="3.5" stroke-linecap="round" fill="none"/><path d="M323.0 406.3L320.0 406.3L317.0 406.2M245.8 396.0L242.9 395.2M441.0 289.3L438.2 290.2" stroke="#10f4f4" stroke-width="3.5" stroke-linecap="round" fill="none"/><path d="M316.5 405.0L313.5 404.9L310.5 404.8M251.2 396.5L248.3 395.8L245.4 395.0" stroke="#0000e6" stroke-width="3.5" stroke-linecap="round" fill="none"/><path d="M314.5 403.9L311.2 403.7M253.1 395.8L249.9 395.0" stroke="#000" stroke-width="3.3" fill="none"/><path d="M140.8 247.1L140.7 244.1" stroke="#eb0aeb" stroke-width="3.5" stroke-linecap="round" fill="none"/><path d="M322.8 407.4L319.8 407.3L316.8 407.2M245.6 397.4L242.7 396.6L239.8 395.8M536.7 171.6L536.4 174.6" stroke="#0aeb0a" stroke-width="3.5" stroke-linecap="round" fill="none"/><path d="M342.9 409.7L339.9 409.8L336.9 409.8M227.5 394.4L224.7 393.3M438.0 289.7L435.2 290.5" stroke="#e00000" stroke-width="3.5" stroke-linecap="round" fill="none"/><path d="M317.0 406.2L314.0 406.0L311.0 405.9M251.6 397.5L248.7 396.7L245.8 396.0" stroke="#10f4f4" stroke-width="3.5" stroke-linecap="round" fill="none"/><path d="M310.5 404.8L307.5 404.6L304.5 404.4L301.5 404.2M260.0 398.5L257.0 397.8L254.1 397.2L251.2 396.5M440.1 289.4L437.2 290.3" stroke="#0000e6" stroke-width="3.5" stroke-linecap="round" fill="none"/><path d="M308.3 403.6L305.0 403.3M302.1 403.1L298.8 402.9M259.1 397.1L255.9 396.4" stroke="#000" stroke-width="3.3" fill="none"/><path d="M277.2 402.6L274.5 403.8M434.9 291.1L432.0 291.9M497.4 170.0L495.0 171.7" stroke="#eb0aeb" stroke-width="3.5" stroke-linecap="round" fill="none"/><path d="M316.8 407.2L313.8 407.1L310.8 406.9M251.4 398.9L248.5 398.2L245.6 397.4M425.6 289.0L422.7 289.8" stroke="#0aeb0a" stroke-width="3.5" stroke-linecap="round" fill="none"/><path d="M336.9 409.8L333.9 409.9M230.3 395.4L227.5 394.4M159.1 247.5L159.4 244.5" stroke="#e00000" stroke-width="3.5" stroke-linecap="round" fill="none"/><path d="M311.0 405.9L308.0 405.7L305.0 405.5M257.4 398.8L254.5 398.2L251.6 397.5M438.2 290.2L435.3 291.0M165.2 247.4L164.7 244.4M501.9 169.3L499.2 170.7" stroke="#10f4f4" stroke-width="3.5" stroke-linecap="round" fill="none"/><path d="M301.5 404.2L298.6 403.9L295.6 403.7L292.6 403.4L289.6 403.1M271.8 400.6L268.8 400.1L265.9 399.6L262.9 399.0L260.0 398.5" stroke="#0000e6" stroke-width="3.5" stroke-linecap="round" fill="none"/><path d="M295.9 402.6L292.6 402.3M289.8 402.0L286.5 401.6M283.6 401.3L280.3 400.8M277.5 400.4L274.2 399.9M271.3 399.4L268.1 398.9M265.2 398.3L262.0 397.7M439.8 288.8L436.6 289.8M173.9 246.4L172.7 243.3M486.4 165.6L483.9 167.7" stroke="#000" stroke-width="3.3" fill="none"/><path d="M355.5 412.9L353.3 415.0M339.4 413.1L337.3 410.9" stroke="#eb0aeb" stroke-width="3.5" stroke-linecap="round" fill="none"/><path d="M310.8 406.9L307.8 406.8L304.8 406.6L301.8 406.4M260.2 400.8L257.3 400.2L254.4 399.5L251.4 398.9M144.1 246.9L146.5 245.1" stroke="#0aeb0a" stroke-width="3.5" stroke-linecap="round" fill="none"/><path d="M333.9 409.9L330.9 409.9M233.1 396.3L230.3 395.4M435.2 290.5L432.3 291.3" stroke="#e00000" stroke-width="3.5" stroke-linecap="round" fill="none"/><path d="M305.0 405.5L302.0 405.3L299.0 405.0L296.0 404.8L293.0 404.5M269.2 401.2L266.2 400.6L263.3 400.1L260.4 399.5L257.4 398.8" stroke="#10f4f4" stroke-width="3.5" stroke-linecap="round" fill="none"/><path d="M289.6 403.1L286.6 402.7L283.6 402.4L280.7 402.0L277.7 401.6L274.7 401.1L271.8 400.6M169.9 247.9L169.3 245.0" stroke="#0000e6" stroke-width="3.5" stroke-linecap="round" fill="none"/><path d="M274.5 403.8L271.7 405.0M432.0 291.9L429.1 292.7" stroke="#eb0aeb" stroke-width="3.5" stroke-linecap="round" fill="none"/><path d="M301.8 406.4L298.8 406.2L295.8 405.9L292.9 405.6L289.9 405.3L286.9 405.0M272.0 402.9L269.1 402.4L266.1 401.9L263.2 401.4L260.2 400.8M422.7 289.8L419.8 290.5" stroke="#0aeb0a" stroke-width="3.5" stroke-linecap="round" fill="none"/><path d="M330.9 409.9L327.9 409.9L324.9 409.8M236.0 397.2L233.1 396.3M508.6 171.2L506.9 173.7" stroke="#e00000" stroke-width="3.5" stroke-linecap="round" fill="none"/><path d="M293.0 404.5L290.0 404.2L287.0 403.8L284.0 403.4L281.1 403.0L278.1 402.6L275.1 402.2L272.2 401.7L269.2 401.2" stroke="#10f4f4" stroke-width="3.5" stroke-linecap="round" fill="none"/><path d="M437.2 290.3L434.3 291.1M492.4 168.3L489.9 170.0" stroke="#0000e6" stroke-width="3.5" stroke-linecap="round" fill="none"/><path d="M253.2 403.5L253.3 400.5M141.6 250.0L140.8 247.1" stroke="#eb0aeb" stroke-width="3.5" stroke-linecap="round" fill="none"/><path d="M286.9 405.0L283.9 404.6L280.9 404.2L278.0 403.8L275.0 403.4L272.0 402.9" stroke="#0aeb0a" stroke-width="3.5" stroke-linecap="round" fill="none"/><path d="M324.9 409.8L321.9 409.8M241.8 398.9L238.9 398.1L236.0 397.2M432.3 291.3L429.4 292.1" stroke="#e00000" stroke-width="3.5" stroke-linecap="round" fill="none"/><path d="M435.3 291.0L432.4 291.8M499.2 170.7L496.6 172.1" stroke="#10f4f4" stroke-width="3.5" stroke-linecap="round" fill="none"/><path d="M353.3 415.0L350.4 415.7M429.1 292.7L426.2 293.5M495.0 171.7L492.5 173.5" stroke="#eb0aeb" stroke-width="3.5" stroke-linecap="round" fill="none"/><path d="M321.9 409.8L318.9 409.7L315.9 409.6M247.6 400.4L244.7 399.7L241.8 398.9" stroke="#e00000" stroke-width="3.5" stroke-linecap="round" fill="none"/><path d="M166.4 250.1L165.2 247.4" stroke="#10f4f4" stroke-width="3.5" stroke-linecap="round" fill="none"/><path d="M434.3 291.1L431.4 291.9" stroke="#0000e6" stroke-width="3.5" stroke-linecap="round" fill="none"/><path d="M341.6 415.1L339.4 413.1M271.7 405.0L268.9 405.9" stroke="#eb0aeb" stroke-width="3.5" stroke-linecap="round" fill="none"/><path d="M419.8 290.5L416.9 291.1M143.7 249.5L144.1 246.9M536.4 174.6L536.6 177.6" stroke="#0aeb0a" stroke-width="3.5" stroke-linecap="round" fill="none"/><path d="M315.9 409.6L312.9 409.5L309.9 409.3L306.9 409.2M253.4 401.8L250.5 401.2L247.6 400.4M159.9 250.3L159.1 247.5" stroke="#e00000" stroke-width="3.5" stroke-linecap="round" fill="none"/><path d="M432.4 291.8L429.5 292.6" stroke="#10f4f4" stroke-width="3.5" stroke-linecap="round" fill="none"/><path d="M171.0 250.7L169.9 247.9" stroke="#0000e6" stroke-width="3.5" stroke-linecap="round" fill="none"/><path d="M433.8 290.6L430.7 291.5" stroke="#000" stroke-width="3.3" fill="none"/><path d="M350.4 415.7L347.4 415.9" stroke="#eb0aeb" stroke-width="3.5" stroke-linecap="round" fill="none"/><path d="M306.9 409.2L303.9 409.0L300.9 408.8M259.3 403.1L256.4 402.5L253.4 401.8M429.4 292.1L426.5 292.8" stroke="#e00000" stroke-width="3.5" stroke-linecap="round" fill="none"/><path d="M431.4 291.9L428.5 292.7M489.9 170.0L487.5 171.8" stroke="#0000e6" stroke-width="3.5" stroke-linecap="round" fill="none"/><path d="M347.4 415.9L344.4 416.0L341.6 415.1M268.9 405.9L266.0 406.8M254.3 406.1L253.2 403.5M426.2 293.5L423.3 294.2M143.5 252.2L141.6 250.0" stroke="#eb0aeb" stroke-width="3.5" stroke-linecap="round" fill="none"/><path d="M416.9 291.1L414.0 291.8" stroke="#0aeb0a" stroke-width="3.5" stroke-linecap="round" fill="none"/><path d="M300.9 408.8L297.9 408.5L294.9 408.3L291.9 408.0L289.0 407.7L286.0 407.3L283.0 407.0L280.0 406.6L277.0 406.2L274.1 405.7L271.1 405.3L268.1 404.8L265.2 404.2L262.2 403.7L259.3 403.1" stroke="#e00000" stroke-width="3.5" stroke-linecap="round" fill="none"/><path d="M429.5 292.6L426.6 293.4M496.6 172.1L493.9 173.5" stroke="#10f4f4" stroke-width="3.5" stroke-linecap="round" fill="none"/><path d="M492.5 173.5L490.0 175.1" stroke="#eb0aeb" stroke-width="3.5" stroke-linecap="round" fill="none"/><path d="M426.5 292.8L423.5 293.6M506.9 173.7L505.3 176.3" stroke="#e00000" stroke-width="3.5" stroke-linecap="round" fill="none"/><path d="M168.2 252.5L166.4 250.1" stroke="#10f4f4" stroke-width="3.5" stroke-linecap="round" fill="none"/><path d="M428.5 292.7L425.6 293.4" stroke="#0000e6" stroke-width="3.5" stroke-linecap="round" fill="none"/><path d="M176.7 252.0L175.1 249.1" stroke="#000" stroke-width="3.3" fill="none"/><path d="M266.0 406.8L263.1 407.6M257.2 406.9L254.3 406.1M423.3 294.2L420.4 294.9" stroke="#eb0aeb" stroke-width="3.5" stroke-linecap="round" fill="none"/><path d="M414.0 291.8L411.0 292.4M145.1 252.2L143.7 249.5" stroke="#0aeb0a" stroke-width="3.5" stroke-linecap="round" fill="none"/><path d="M161.3 253.0L159.9 250.3" stroke="#e00000" stroke-width="3.5" stroke-linecap="round" fill="none"/><path d="M426.6 293.4L423.6 294.1" stroke="#10f4f4" stroke-width="3.5" stroke-linecap="round" fill="none"/><path d="M172.8 253.1L171.0 250.7" stroke="#0000e6" stroke-width="3.5" stroke-linecap="round" fill="none"/><path d="M263.1 407.6L260.1 407.6L257.2 406.9M146.2 253.6L143.5 252.2" stroke="#eb0aeb" stroke-width="3.5" stroke-linecap="round" fill="none"/><path d="M411.0 292.4L408.1 293.0" stroke="#0aeb0a" stroke-width="3.5" stroke-linecap="round" fill="none"/><path d="M423.5 293.6L420.6 294.3" stroke="#e00000" stroke-width="3.5" stroke-linecap="round" fill="none"/><path d="M427.9 292.3L424.7 293.1M481.5 169.4L478.8 171.3" stroke="#000" stroke-width="3.3" fill="none"/><path d="M420.4 294.9L417.5 295.6M198.1 261.4L195.2 260.7" stroke="#eb0aeb" stroke-width="3.5" stroke-linecap="round" fill="none"/><path d="M536.6 177.6L536.4 180.5" stroke="#0aeb0a" stroke-width="3.5" stroke-linecap="round" fill="none"/><path d="M170.2 254.7L168.2 252.5M493.9 173.5L491.2 174.8" stroke="#10f4f4" stroke-width="3.5" stroke-linecap="round" fill="none"/><path d="M425.6 293.4L422.7 294.1M487.5 171.8L485.1 173.7" stroke="#0000e6" stroke-width="3.5" stroke-linecap="round" fill="none"/><path d="M200.9 262.6L198.1 261.4M195.2 260.7L192.2 260.5M148.9 254.9L146.2 253.6" stroke="#eb0aeb" stroke-width="3.5" stroke-linecap="round" fill="none"/><path d="M408.1 293.0L405.1 293.6M147.1 254.4L145.1 252.2" stroke="#0aeb0a" stroke-width="3.5" stroke-linecap="round" fill="none"/><path d="M420.6 294.3L417.7 294.9M163.4 255.1L161.3 253.0" stroke="#e00000" stroke-width="3.5" stroke-linecap="round" fill="none"/><path d="M423.6 294.1L420.7 294.8" stroke="#10f4f4" stroke-width="3.5" stroke-linecap="round" fill="none"/><path d="M175.0 255.2L172.8 253.1" stroke="#0000e6" stroke-width="3.5" stroke-linecap="round" fill="none"/><path d="M417.5 295.6L414.6 296.4M203.4 264.2L200.9 262.6M192.2 260.5L189.3 261.2M490.0 175.1L487.5 176.7" stroke="#eb0aeb" stroke-width="3.5" stroke-linecap="round" fill="none"/><path d="M422.7 294.1L419.8 294.8" stroke="#0000e6" stroke-width="3.5" stroke-linecap="round" fill="none"/><path d="M151.4 256.6L148.9 254.9" stroke="#eb0aeb" stroke-width="3.5" stroke-linecap="round" fill="none"/><path d="M405.1 293.6L402.2 294.1" stroke="#0aeb0a" stroke-width="3.5" stroke-linecap="round" fill="none"/><path d="M417.7 294.9L414.8 295.6M165.9 256.8L163.4 255.1M505.3 176.3L503.5 178.7" stroke="#e00000" stroke-width="3.5" stroke-linecap="round" fill="none"/><path d="M420.7 294.8L417.8 295.4M172.3 256.9L170.2 254.7M491.2 174.8L488.5 176.0" stroke="#10f4f4" stroke-width="3.5" stroke-linecap="round" fill="none"/><path d="M177.0 257.4L175.0 255.2" stroke="#0000e6" stroke-width="3.5" stroke-linecap="round" fill="none"/><path d="M421.9 293.8L418.6 294.6M180.1 257.1L178.2 254.4" stroke="#000" stroke-width="3.3" fill="none"/><path d="M414.6 296.4L411.7 297.3M189.3 261.2L186.4 261.9" stroke="#eb0aeb" stroke-width="3.5" stroke-linecap="round" fill="none"/><path d="M149.7 255.9L147.1 254.4M536.4 180.5L533.7 181.7" stroke="#0aeb0a" stroke-width="3.5" stroke-linecap="round" fill="none"/><path d="M419.8 294.8L416.8 295.4M485.1 173.7L482.7 175.4" stroke="#0000e6" stroke-width="3.5" stroke-linecap="round" fill="none"/><path d="M205.5 266.4L203.4 264.2M186.4 261.9L183.4 262.1M153.9 258.2L151.4 256.6" stroke="#eb0aeb" stroke-width="3.5" stroke-linecap="round" fill="none"/><path d="M402.2 294.1L399.2 294.7" stroke="#0aeb0a" stroke-width="3.5" stroke-linecap="round" fill="none"/><path d="M414.8 295.6L411.8 296.2" stroke="#e00000" stroke-width="3.5" stroke-linecap="round" fill="none"/><path d="M417.8 295.4L414.9 296.1" stroke="#10f4f4" stroke-width="3.5" stroke-linecap="round" fill="none"/><path d="M183.4 262.1L180.4 262.2M487.5 176.7L484.9 178.3" stroke="#eb0aeb" stroke-width="3.5" stroke-linecap="round" fill="none"/><path d="M152.4 257.2L149.7 255.9" stroke="#0aeb0a" stroke-width="3.5" stroke-linecap="round" fill="none"/><path d="M168.3 258.7L165.9 256.8" stroke="#e00000" stroke-width="3.5" stroke-linecap="round" fill="none"/><path d="M174.3 259.1L172.3 256.9" stroke="#10f4f4" stroke-width="3.5" stroke-linecap="round" fill="none"/><path d="M416.8 295.4L413.9 296.1M179.1 259.5L177.0 257.4" stroke="#0000e6" stroke-width="3.5" stroke-linecap="round" fill="none"/><path d="M411.7 297.3L408.8 298.2M180.4 262.2L177.4 262.1M156.7 259.3L153.9 258.2" stroke="#eb0aeb" stroke-width="3.5" stroke-linecap="round" fill="none"/><path d="M399.2 294.7L396.3 295.3M533.7 181.7L530.7 182.4" stroke="#0aeb0a" stroke-width="3.5" stroke-linecap="round" fill="none"/><path d="M411.8 296.2L408.9 296.8" stroke="#e00000" stroke-width="3.5" stroke-linecap="round" fill="none"/><path d="M414.9 296.1L411.9 296.7M488.5 176.0L485.8 177.3" stroke="#10f4f4" stroke-width="3.5" stroke-linecap="round" fill="none"/><path d="M415.8 295.2L412.6 295.9M476.4 172.8L473.5 174.5" stroke="#000" stroke-width="3.3" fill="none"/><path d="M206.5 269.1L205.5 266.4M177.4 262.1L174.4 262.0L171.4 261.8M159.6 260.2L156.7 259.3" stroke="#eb0aeb" stroke-width="3.5" stroke-linecap="round" fill="none"/><path d="M155.0 258.6L152.4 257.2M530.7 182.4L527.8 183.1" stroke="#0aeb0a" stroke-width="3.5" stroke-linecap="round" fill="none"/><path d="M170.2 260.9L168.3 258.7M503.5 178.7L501.3 180.7" stroke="#e00000" stroke-width="3.5" stroke-linecap="round" fill="none"/><path d="M411.9 296.7L409.0 297.3M176.5 261.2L174.3 259.1" stroke="#10f4f4" stroke-width="3.5" stroke-linecap="round" fill="none"/><path d="M413.9 296.1L411.0 296.7" stroke="#0000e6" stroke-width="3.5" stroke-linecap="round" fill="none"/><path d="M408.8 298.2L406.0 299.1M171.4 261.8L168.4 261.7L165.4 261.4L162.5 260.8L159.6 260.2" stroke="#eb0aeb" stroke-width="3.5" stroke-linecap="round" fill="none"/><path d="M396.3 295.3L393.4 295.8" stroke="#0aeb0a" stroke-width="3.5" stroke-linecap="round" fill="none"/><path d="M408.9 296.8L405.9 297.4" stroke="#e00000" stroke-width="3.5" stroke-linecap="round" fill="none"/><path d="M411.0 296.7L408.0 297.3M181.3 261.6L179.1 259.5M482.7 175.4L480.1 177.0" stroke="#0000e6" stroke-width="3.5" stroke-linecap="round" fill="none"/><path d="M184.2 261.8L182.0 259.3" stroke="#000" stroke-width="3.3" fill="none"/><path d="M484.9 178.3L482.3 179.8" stroke="#eb0aeb" stroke-width="3.5" stroke-linecap="round" fill="none"/><path d="M393.4 295.8L390.4 296.4M157.1 260.8L155.0 258.6M527.8 183.1L524.9 183.7" stroke="#0aeb0a" stroke-width="3.5" stroke-linecap="round" fill="none"/><path d="M405.9 297.4L403.0 297.9" stroke="#e00000" stroke-width="3.5" stroke-linecap="round" fill="none"/><path d="M409.0 297.3L406.0 297.9M485.8 177.3L483.0 178.6" stroke="#10f4f4" stroke-width="3.5" stroke-linecap="round" fill="none"/><path d="M406.0 299.1L403.1 300.0" stroke="#eb0aeb" stroke-width="3.5" stroke-linecap="round" fill="none"/><path d="M178.7 263.3L176.5 261.2" stroke="#10f4f4" stroke-width="3.5" stroke-linecap="round" fill="none"/><path d="M408.0 297.3L405.1 297.8M183.4 263.7L181.3 261.6" stroke="#0000e6" stroke-width="3.5" stroke-linecap="round" fill="none"/><path d="M409.8 296.5L406.5 297.1" stroke="#000" stroke-width="3.3" fill="none"/><path d="M205.1 271.8L206.5 269.1" stroke="#eb0aeb" stroke-width="3.5" stroke-linecap="round" fill="none"/><path d="M390.4 296.4L387.5 297.0M524.9 183.7L522.0 184.6" stroke="#0aeb0a" stroke-width="3.5" stroke-linecap="round" fill="none"/><path d="M403.0 297.9L400.0 298.5M172.0 263.4L170.2 260.9M501.3 180.7L498.7 182.1" stroke="#e00000" stroke-width="3.5" stroke-linecap="round" fill="none"/><path d="M406.0 297.9L403.1 298.4" stroke="#10f4f4" stroke-width="3.5" stroke-linecap="round" fill="none"/><path d="M405.1 297.8L402.1 298.4M480.1 177.0L477.5 178.4" stroke="#0000e6" stroke-width="3.5" stroke-linecap="round" fill="none"/><path d="M403.1 300.0L400.3 300.9M482.3 179.8L479.7 181.2" stroke="#eb0aeb" stroke-width="3.5" stroke-linecap="round" fill="none"/><path d="M387.5 297.0L384.5 297.6M158.1 263.6L157.1 260.8M522.0 184.6L519.2 185.7" stroke="#0aeb0a" stroke-width="3.5" stroke-linecap="round" fill="none"/><path d="M400.0 298.5L397.1 299.0" stroke="#e00000" stroke-width="3.5" stroke-linecap="round" fill="none"/><path d="M403.1 298.4L400.1 299.0M180.9 265.2L178.7 263.3M483.0 178.6L480.3 179.9" stroke="#10f4f4" stroke-width="3.5" stroke-linecap="round" fill="none"/><path d="M185.6 265.7L183.4 263.7" stroke="#0000e6" stroke-width="3.5" stroke-linecap="round" fill="none"/><path d="M173.7 265.8L172.0 263.4" stroke="#e00000" stroke-width="3.5" stroke-linecap="round" fill="none"/><path d="M402.1 298.4L399.2 298.9" stroke="#0000e6" stroke-width="3.5" stroke-linecap="round" fill="none"/><path d="M403.7 297.7L400.4 298.3M188.6 266.1L186.2 263.9M471.0 175.9L468.1 177.5" stroke="#000" stroke-width="3.3" fill="none"/><path d="M400.3 300.9L397.5 301.9" stroke="#eb0aeb" stroke-width="3.5" stroke-linecap="round" fill="none"/><path d="M384.5 297.6L381.6 298.2" stroke="#0aeb0a" stroke-width="3.5" stroke-linecap="round" fill="none"/><path d="M397.1 299.0L394.1 299.5M498.7 182.1L495.9 183.3" stroke="#e00000" stroke-width="3.5" stroke-linecap="round" fill="none"/><path d="M400.1 299.0L397.2 299.5M183.3 267.1L180.9 265.2" stroke="#10f4f4" stroke-width="3.5" stroke-linecap="round" fill="none"/><path d="M187.9 267.7L185.6 265.7M477.5 178.4L474.8 179.7" stroke="#0000e6" stroke-width="3.5" stroke-linecap="round" fill="none"/><path d="M203.8 274.5L205.1 271.8M479.7 181.2L477.0 182.7" stroke="#eb0aeb" stroke-width="3.5" stroke-linecap="round" fill="none"/><path d="M519.2 185.7L516.5 186.9" stroke="#0aeb0a" stroke-width="3.5" stroke-linecap="round" fill="none"/><path d="M394.1 299.5L391.1 299.9" stroke="#e00000" stroke-width="3.5" stroke-linecap="round" fill="none"/><path d="M397.2 299.5L394.2 300.0M480.3 179.9L477.6 181.2" stroke="#10f4f4" stroke-width="3.5" stroke-linecap="round" fill="none"/><path d="M399.2 298.9L396.2 299.4" stroke="#0000e6" stroke-width="3.5" stroke-linecap="round" fill="none"/><path d="M381.6 298.2L378.6 298.8M159.1 266.4L158.1 263.6" stroke="#0aeb0a" stroke-width="3.5" stroke-linecap="round" fill="none"/><path d="M175.4 268.3L173.7 265.8" stroke="#e00000" stroke-width="3.5" stroke-linecap="round" fill="none"/><path d="M185.7 268.9L183.3 267.1" stroke="#10f4f4" stroke-width="3.5" stroke-linecap="round" fill="none"/><path d="M396.2 299.4L393.3 299.9" stroke="#0000e6" stroke-width="3.5" stroke-linecap="round" fill="none"/><path d="M397.6 298.7L394.3 299.3" stroke="#000" stroke-width="3.3" fill="none"/><path d="M397.5 301.9L394.7 303.1" stroke="#eb0aeb" stroke-width="3.5" stroke-linecap="round" fill="none"/><path d="M391.1 299.9L388.2 300.4M495.9 183.3L493.1 184.4" stroke="#e00000" stroke-width="3.5" stroke-linecap="round" fill="none"/><path d="M394.2 300.0L391.2 300.4" stroke="#10f4f4" stroke-width="3.5" stroke-linecap="round" fill="none"/><path d="M190.2 269.7L187.9 267.7" stroke="#0000e6" stroke-width="3.5" stroke-linecap="round" fill="none"/><path d="M378.6 298.8L375.7 299.6M516.5 186.9L513.7 188.1" stroke="#0aeb0a" stroke-width="3.5" stroke-linecap="round" fill="none"/><path d="M388.2 300.4L385.2 300.8" stroke="#e00000" stroke-width="3.5" stroke-linecap="round" fill="none"/><path d="M391.2 300.4L388.3 300.9M188.2 270.6L185.7 268.9" stroke="#10f4f4" stroke-width="3.5" stroke-linecap="round" fill="none"/><path d="M393.3 299.9L390.3 300.4M474.8 179.7L472.0 181.0" stroke="#0000e6" stroke-width="3.5" stroke-linecap="round" fill="none"/><path d="M193.4 270.1L190.8 268.0" stroke="#000" stroke-width="3.3" fill="none"/><path d="M203.9 275.6L203.8 274.5M477.0 182.7L474.4 184.0" stroke="#eb0aeb" stroke-width="3.5" stroke-linecap="round" fill="none"/><path d="M477.6 181.2L474.9 182.4" stroke="#10f4f4" stroke-width="3.5" stroke-linecap="round" fill="none"/><path d="M390.3 300.4L387.3 300.8M192.6 271.5L190.2 269.7" stroke="#0000e6" stroke-width="3.5" stroke-linecap="round" fill="none"/><path d="M394.7 303.1L392.0 304.4M205.3 276.8L203.9 275.6" stroke="#eb0aeb" stroke-width="3.5" stroke-linecap="round" fill="none"/><path d="M375.7 299.6L372.9 300.5M160.9 268.7L159.1 266.4" stroke="#0aeb0a" stroke-width="3.5" stroke-linecap="round" fill="none"/><path d="M385.2 300.8L382.2 301.2M177.2 270.6L175.4 268.3M493.1 184.4L490.3 185.4" stroke="#e00000" stroke-width="3.5" stroke-linecap="round" fill="none"/><path d="M388.3 300.9L385.3 301.3M190.7 272.2L188.2 270.6" stroke="#10f4f4" stroke-width="3.5" stroke-linecap="round" fill="none"/><path d="M391.4 299.7L388.2 300.2M465.5 178.7L462.5 180.1" stroke="#000" stroke-width="3.3" fill="none"/><path d="M513.7 188.1L511.0 189.3" stroke="#0aeb0a" stroke-width="3.5" stroke-linecap="round" fill="none"/><path d="M382.2 301.2L379.3 301.6" stroke="#e00000" stroke-width="3.5" stroke-linecap="round" fill="none"/><path d="M387.3 300.8L384.4 301.2M195.0 273.2L192.6 271.5M472.0 181.0L469.3 182.1" stroke="#0000e6" stroke-width="3.5" stroke-linecap="round" fill="none"/><path d="M474.4 184.0L471.7 185.3" stroke="#eb0aeb" stroke-width="3.5" stroke-linecap="round" fill="none"/><path d="M372.9 300.5L370.1 301.5M163.5 270.3L160.9 268.7" stroke="#0aeb0a" stroke-width="3.5" stroke-linecap="round" fill="none"/><path d="M179.7 272.4L177.2 270.6M490.3 185.4L487.5 186.4" stroke="#e00000" stroke-width="3.5" stroke-linecap="round" fill="none"/><path d="M385.3 301.3L382.3 301.7M193.3 273.8L190.7 272.2M474.9 182.4L472.2 183.7" stroke="#10f4f4" stroke-width="3.5" stroke-linecap="round" fill="none"/><path d="M384.4 301.2L381.4 301.6" stroke="#0000e6" stroke-width="3.5" stroke-linecap="round" fill="none"/><path d="M198.4 273.7L195.7 271.8" stroke="#000" stroke-width="3.3" fill="none"/><path d="M392.0 304.4L389.2 305.5M204.9 279.8L205.3 276.8" stroke="#eb0aeb" stroke-width="3.5" stroke-linecap="round" fill="none"/><path d="M379.3 301.6L376.3 302.1" stroke="#e00000" stroke-width="3.5" stroke-linecap="round" fill="none"/><path d="M382.3 301.7L379.3 302.1" stroke="#10f4f4" stroke-width="3.5" stroke-linecap="round" fill="none"/><path d="M197.6 274.8L195.0 273.2" stroke="#0000e6" stroke-width="3.5" stroke-linecap="round" fill="none"/><path d="M385.3 300.6L382.0 301.0" stroke="#000" stroke-width="3.3" fill="none"/><path d="M166.1 271.8L163.5 270.3M511.0 189.3L508.3 190.5" stroke="#0aeb0a" stroke-width="3.5" stroke-linecap="round" fill="none"/><path d="M182.3 273.9L179.7 272.4" stroke="#e00000" stroke-width="3.5" stroke-linecap="round" fill="none"/><path d="M379.3 302.1L376.4 302.6M195.9 275.3L193.3 273.8" stroke="#10f4f4" stroke-width="3.5" stroke-linecap="round" fill="none"/><path d="M381.4 301.6L378.4 302.0M469.3 182.1L466.5 183.2" stroke="#0000e6" stroke-width="3.5" stroke-linecap="round" fill="none"/><path d="M370.1 301.5L367.2 302.5" stroke="#0aeb0a" stroke-width="3.5" stroke-linecap="round" fill="none"/><path d="M376.3 302.1L373.4 302.8M487.5 186.4L484.6 187.4" stroke="#e00000" stroke-width="3.5" stroke-linecap="round" fill="none"/><path d="M198.5 276.7L195.9 275.3M472.2 183.7L469.4 184.9" stroke="#10f4f4" stroke-width="3.5" stroke-linecap="round" fill="none"/><path d="M378.4 302.0L375.4 302.4M200.2 276.2L197.6 274.8" stroke="#0000e6" stroke-width="3.5" stroke-linecap="round" fill="none"/><path d="M389.2 305.5L386.4 306.6M471.7 185.3L468.9 186.6" stroke="#eb0aeb" stroke-width="3.5" stroke-linecap="round" fill="none"/><path d="M168.7 273.3L166.1 271.8" stroke="#0aeb0a" stroke-width="3.5" stroke-linecap="round" fill="none"/><path d="M185.0 275.2L182.3 273.9" stroke="#e00000" stroke-width="3.5" stroke-linecap="round" fill="none"/><path d="M376.4 302.6L373.4 303.1" stroke="#10f4f4" stroke-width="3.5" stroke-linecap="round" fill="none"/><path d="M202.9 277.6L200.2 276.2" stroke="#0000e6" stroke-width="3.5" stroke-linecap="round" fill="none"/><path d="M379.1 301.3L375.9 301.7M203.7 276.9L200.9 275.2" stroke="#000" stroke-width="3.3" fill="none"/><path d="M367.2 302.5L364.4 303.4M508.3 190.5L505.5 191.6" stroke="#0aeb0a" stroke-width="3.5" stroke-linecap="round" fill="none"/><path d="M373.4 302.8L370.5 303.5M187.8 276.2L185.0 275.2" stroke="#e00000" stroke-width="3.5" stroke-linecap="round" fill="none"/><path d="M201.1 278.2L198.5 276.7" stroke="#10f4f4" stroke-width="3.5" stroke-linecap="round" fill="none"/><path d="M375.4 302.4L372.5 302.8M466.5 183.2L463.7 184.2" stroke="#0000e6" stroke-width="3.5" stroke-linecap="round" fill="none"/><path d="M459.8 181.3L456.8 182.6" stroke="#000" stroke-width="3.3" fill="none"/><path d="M386.4 306.6L383.6 307.6M206.0 282.4L204.9 279.8" stroke="#eb0aeb" stroke-width="3.5" stroke-linecap="round" fill="none"/><path d="M171.4 274.6L168.7 273.3" stroke="#0aeb0a" stroke-width="3.5" stroke-linecap="round" fill="none"/><path d="M193.5 278.1L190.7 277.0L187.8 276.2M484.6 187.4L481.8 188.4" stroke="#e00000" stroke-width="3.5" stroke-linecap="round" fill="none"/><path d="M373.4 303.1L370.5 303.8" stroke="#10f4f4" stroke-width="3.5" stroke-linecap="round" fill="none"/><path d="M372.5 302.8L369.5 303.1M205.5 278.9L202.9 277.6" stroke="#0000e6" stroke-width="3.5" stroke-linecap="round" fill="none"/><path d="M373.0 302.0L369.7 302.3" stroke="#000" stroke-width="3.3" fill="none"/><path d="M468.9 186.6L466.2 187.9" stroke="#eb0aeb" stroke-width="3.5" stroke-linecap="round" fill="none"/><path d="M174.2 275.8L171.4 274.6" stroke="#0aeb0a" stroke-width="3.5" stroke-linecap="round" fill="none"/><path d="M370.5 303.5L367.6 304.3" stroke="#e00000" stroke-width="3.5" stroke-linecap="round" fill="none"/><path d="M203.7 279.8L201.1 278.2M469.4 184.9L466.6 186.0" stroke="#10f4f4" stroke-width="3.5" stroke-linecap="round" fill="none"/><path d="M369.5 303.1L366.5 303.5M208.3 280.2L205.5 278.9" stroke="#0000e6" stroke-width="3.5" stroke-linecap="round" fill="none"/><path d="M364.4 303.4L361.5 304.3M177.0 276.9L174.2 275.8M505.5 191.6L502.6 192.5" stroke="#0aeb0a" stroke-width="3.5" stroke-linecap="round" fill="none"/><path d="M196.2 279.3L193.5 278.1" stroke="#e00000" stroke-width="3.5" stroke-linecap="round" fill="none"/><path d="M370.5 303.8L367.6 304.4M206.2 281.3L203.7 279.8" stroke="#10f4f4" stroke-width="3.5" stroke-linecap="round" fill="none"/><path d="M211.0 281.3L208.3 280.2M463.7 184.2L460.8 185.2" stroke="#0000e6" stroke-width="3.5" stroke-linecap="round" fill="none"/><path d="M209.1 279.9L206.2 278.4" stroke="#000" stroke-width="3.3" fill="none"/><path d="M383.6 307.6L380.7 308.5M360.4 305.2L357.4 304.8L354.4 305.0" stroke="#eb0aeb" stroke-width="3.5" stroke-linecap="round" fill="none"/><path d="M182.8 278.1L179.9 277.5L177.0 276.9" stroke="#0aeb0a" stroke-width="3.5" stroke-linecap="round" fill="none"/><path d="M367.6 304.3L364.7 305.1M198.9 280.7L196.2 279.3M481.8 188.4L479.0 189.5" stroke="#e00000" stroke-width="3.5" stroke-linecap="round" fill="none"/><path d="M366.5 303.5L363.5 303.8M213.8 282.5L211.0 281.3" stroke="#0000e6" stroke-width="3.5" stroke-linecap="round" fill="none"/><path d="M366.8 302.6L363.5 302.9" stroke="#000" stroke-width="3.3" fill="none"/><path d="M363.1 306.4L360.4 305.2M354.4 305.0L351.4 305.1M208.0 284.7L206.0 282.4M466.2 187.9L463.5 189.1" stroke="#eb0aeb" stroke-width="3.5" stroke-linecap="round" fill="none"/><path d="M361.5 304.3L358.6 304.9M185.6 279.1L182.8 278.1M502.6 192.5L499.7 193.2" stroke="#0aeb0a" stroke-width="3.5" stroke-linecap="round" fill="none"/><path d="M367.6 304.4L364.6 305.0M208.9 282.8L206.2 281.3M466.6 186.0L463.8 187.1" stroke="#10f4f4" stroke-width="3.5" stroke-linecap="round" fill="none"/><path d="M363.5 303.8L360.5 304.1" stroke="#0000e6" stroke-width="3.5" stroke-linecap="round" fill="none"/><path d="M380.7 308.5L377.8 309.0M365.9 307.5L363.1 306.4M351.4 305.1L348.4 305.3" stroke="#eb0aeb" stroke-width="3.5" stroke-linecap="round" fill="none"/><path d="M364.7 305.1L361.7 305.7M200.9 282.9L198.9 280.7" stroke="#e00000" stroke-width="3.5" stroke-linecap="round" fill="none"/><path d="M364.6 305.0L361.7 305.6" stroke="#10f4f4" stroke-width="3.5" stroke-linecap="round" fill="none"/><path d="M360.5 304.1L357.5 304.3M216.6 283.7L213.8 282.5M460.8 185.2L458.0 186.2" stroke="#0000e6" stroke-width="3.5" stroke-linecap="round" fill="none"/><path d="M360.6 303.1L357.3 303.3M214.7 282.7L211.7 281.3M454.1 183.7L451.0 184.9" stroke="#000" stroke-width="3.3" fill="none"/><path d="M377.8 309.0L374.8 309.0L371.8 308.7L368.8 308.1L365.9 307.5M348.4 305.3L345.4 305.4" stroke="#eb0aeb" stroke-width="3.5" stroke-linecap="round" fill="none"/><path d="M358.6 304.9L355.6 305.3M186.9 281.7L185.6 279.1M499.7 193.2L496.7 193.7" stroke="#0aeb0a" stroke-width="3.5" stroke-linecap="round" fill="none"/><path d="M479.0 189.5L476.2 190.5" stroke="#e00000" stroke-width="3.5" stroke-linecap="round" fill="none"/><path d="M211.6 284.1L208.9 282.8" stroke="#10f4f4" stroke-width="3.5" stroke-linecap="round" fill="none"/><path d="M357.5 304.3L354.5 304.5M219.3 284.9L216.6 283.7" stroke="#0000e6" stroke-width="3.5" stroke-linecap="round" fill="none"/><path d="M345.4 305.4L342.4 305.4M210.2 286.6L208.0 284.7" stroke="#eb0aeb" stroke-width="3.5" stroke-linecap="round" fill="none"/><path d="M355.6 305.3L352.6 305.5" stroke="#0aeb0a" stroke-width="3.5" stroke-linecap="round" fill="none"/><path d="M361.7 305.7L358.8 306.3" stroke="#e00000" stroke-width="3.5" stroke-linecap="round" fill="none"/><path d="M361.7 305.6L358.7 306.0M214.3 285.4L211.6 284.1M463.8 187.1L461.0 188.2" stroke="#10f4f4" stroke-width="3.5" stroke-linecap="round" fill="none"/><path d="M354.5 304.5L351.6 304.7M222.0 286.2L219.3 284.9M458.0 186.2L455.1 187.1" stroke="#0000e6" stroke-width="3.5" stroke-linecap="round" fill="none"/><path d="M354.4 303.5L351.1 303.6" stroke="#000" stroke-width="3.3" fill="none"/><path d="M342.4 305.4L339.4 305.5M463.5 189.1L460.7 190.3" stroke="#eb0aeb" stroke-width="3.5" stroke-linecap="round" fill="none"/><path d="M352.6 305.5L349.6 305.7M496.7 193.7L493.8 194.2" stroke="#0aeb0a" stroke-width="3.5" stroke-linecap="round" fill="none"/><path d="M358.8 306.3L355.8 306.6" stroke="#e00000" stroke-width="3.5" stroke-linecap="round" fill="none"/><path d="M217.1 286.5L214.3 285.4" stroke="#10f4f4" stroke-width="3.5" stroke-linecap="round" fill="none"/><path d="M351.6 304.7L348.6 304.8" stroke="#0000e6" stroke-width="3.5" stroke-linecap="round" fill="none"/><path d="M220.3 285.2L217.3 283.9" stroke="#000" stroke-width="3.3" fill="none"/><path d="M339.4 305.5L336.4 305.7M212.7 288.3L210.2 286.6" stroke="#eb0aeb" stroke-width="3.5" stroke-linecap="round" fill="none"/><path d="M349.6 305.7L346.6 305.8" stroke="#0aeb0a" stroke-width="3.5" stroke-linecap="round" fill="none"/><path d="M202.4 285.5L200.9 282.9M476.2 190.5L473.4 191.6" stroke="#e00000" stroke-width="3.5" stroke-linecap="round" fill="none"/><path d="M358.7 306.0L355.7 306.4" stroke="#10f4f4" stroke-width="3.5" stroke-linecap="round" fill="none"/><path d="M348.6 304.8L345.6 304.9M224.7 287.5L222.0 286.2" stroke="#0000e6" stroke-width="3.5" stroke-linecap="round" fill="none"/><path d="M348.2 303.8L344.9 303.9" stroke="#000" stroke-width="3.3" fill="none"/><path d="M336.4 305.7L333.4 305.9" stroke="#eb0aeb" stroke-width="3.5" stroke-linecap="round" fill="none"/><path d="M346.6 305.8L343.6 305.9M187.4 284.6L186.9 281.7M493.8 194.2L490.8 194.7" stroke="#0aeb0a" stroke-width="3.5" stroke-linecap="round" fill="none"/><path d="M355.8 306.6L352.8 306.8" stroke="#e00000" stroke-width="3.5" stroke-linecap="round" fill="none"/><path d="M355.7 306.4L352.7 306.6M219.9 287.6L217.1 286.5M461.0 188.2L458.2 189.2" stroke="#10f4f4" stroke-width="3.5" stroke-linecap="round" fill="none"/><path d="M345.6 304.9L342.6 305.0M227.5 288.7L224.7 287.5M455.1 187.1L452.3 188.1" stroke="#0000e6" stroke-width="3.5" stroke-linecap="round" fill="none"/><path d="M226.1 287.5L223.0 286.3" stroke="#000" stroke-width="3.3" fill="none"/><path d="M333.4 305.9L330.4 306.3M215.4 289.7L212.7 288.3M460.7 190.3L458.0 191.5" stroke="#eb0aeb" stroke-width="3.5" stroke-linecap="round" fill="none"/><path d="M343.6 305.9L340.6 306.0L337.6 306.0" stroke="#0aeb0a" stroke-width="3.5" stroke-linecap="round" fill="none"/><path d="M352.8 306.8L349.8 307.0" stroke="#e00000" stroke-width="3.5" stroke-linecap="round" fill="none"/><path d="M352.7 306.6L349.7 306.7M222.7 288.6L219.9 287.6" stroke="#10f4f4" stroke-width="3.5" stroke-linecap="round" fill="none"/><path d="M342.6 305.0L339.6 305.1M230.2 289.9L227.5 288.7" stroke="#0000e6" stroke-width="3.5" stroke-linecap="round" fill="none"/><path d="M342.0 304.0L338.8 304.0M448.3 185.9L445.2 186.9" stroke="#000" stroke-width="3.3" fill="none"/><path d="M218.1 291.0L215.4 289.7" stroke="#eb0aeb" stroke-width="3.5" stroke-linecap="round" fill="none"/><path d="M337.6 306.0L334.6 306.1M490.8 194.7L487.8 195.2" stroke="#0aeb0a" stroke-width="3.5" stroke-linecap="round" fill="none"/><path d="M349.8 307.0L346.8 307.1L343.8 307.2M204.8 287.2L202.4 285.5M473.4 191.6L470.5 192.6" stroke="#e00000" stroke-width="3.5" stroke-linecap="round" fill="none"/><path d="M349.7 306.7L346.7 306.8M228.4 290.5L225.5 289.6L222.7 288.6M458.2 189.2L455.4 190.2" stroke="#10f4f4" stroke-width="3.5" stroke-linecap="round" fill="none"/><path d="M339.6 305.1L336.6 305.1" stroke="#0000e6" stroke-width="3.5" stroke-linecap="round" fill="none"/><path d="M231.9 289.6L228.8 288.5" stroke="#000" stroke-width="3.3" fill="none"/><path d="M330.4 306.3L327.5 306.7" stroke="#eb0aeb" stroke-width="3.5" stroke-linecap="round" fill="none"/><path d="M334.6 306.1L331.6 306.1" stroke="#0aeb0a" stroke-width="3.5" stroke-linecap="round" fill="none"/><path d="M343.8 307.2L340.8 307.3M207.6 288.2L204.8 287.2" stroke="#e00000" stroke-width="3.5" stroke-linecap="round" fill="none"/><path d="M346.7 306.8L343.7 306.9M234.2 291.9L231.3 291.2L228.4 290.5" stroke="#10f4f4" stroke-width="3.5" stroke-linecap="round" fill="none"/><path d="M336.6 305.1L333.6 305.2L330.6 305.2M233.0 291.0L230.2 289.9M452.3 188.1L449.4 189.0" stroke="#0000e6" stroke-width="3.5" stroke-linecap="round" fill="none"/><path d="M335.9 304.1L332.6 304.1" stroke="#000" stroke-width="3.3" fill="none"/><path d="M220.9 292.1L218.1 291.0M458.0 191.5L455.2 192.7" stroke="#eb0aeb" stroke-width="3.5" stroke-linecap="round" fill="none"/><path d="M331.6 306.1L328.6 306.1L325.6 306.0M189.3 286.7L187.4 284.6M487.8 195.2L484.9 195.8" stroke="#0aeb0a" stroke-width="3.5" stroke-linecap="round" fill="none"/><path d="M340.8 307.3L337.8 307.4M213.5 289.5L210.5 288.8L207.6 288.2M470.5 192.6L467.7 193.6" stroke="#e00000" stroke-width="3.5" stroke-linecap="round" fill="none"/><path d="M343.7 306.9L340.7 307.0L337.7 307.0M240.1 293.4L237.1 292.6L234.2 291.9" stroke="#10f4f4" stroke-width="3.5" stroke-linecap="round" fill="none"/><path d="M330.6 305.2L327.6 305.1M235.8 292.1L233.0 291.0" stroke="#0000e6" stroke-width="3.5" stroke-linecap="round" fill="none"/><path d="M329.7 304.1L326.4 304.1M237.8 291.5L234.7 290.5" stroke="#000" stroke-width="3.3" fill="none"/><path d="M327.5 306.7L324.5 307.2M223.7 293.3L220.9 292.1" stroke="#eb0aeb" stroke-width="3.5" stroke-linecap="round" fill="none"/><path d="M325.6 306.0L322.6 306.0" stroke="#0aeb0a" stroke-width="3.5" stroke-linecap="round" fill="none"/><path d="M337.8 307.4L334.8 307.4M219.3 291.0L216.4 290.3L213.5 289.5" stroke="#e00000" stroke-width="3.5" stroke-linecap="round" fill="none"/><path d="M337.7 307.0L334.7 307.1M242.9 294.2L240.1 293.4M455.4 190.2L452.5 191.1" stroke="#10f4f4" stroke-width="3.5" stroke-linecap="round" fill="none"/><path d="M327.6 305.1L324.6 305.1L321.6 305.0M241.6 293.8L238.7 293.0L235.8 292.1M449.4 189.0L446.6 189.9" stroke="#0000e6" stroke-width="3.5" stroke-linecap="round" fill="none"/><path d="M323.5 304.0L320.2 303.9M243.8 293.2L240.6 292.3" stroke="#000" stroke-width="3.3" fill="none"/><path d="M324.5 307.2L321.6 307.9M226.4 294.4L223.7 293.3" stroke="#eb0aeb" stroke-width="3.5" stroke-linecap="round" fill="none"/><path d="M322.6 306.0L319.6 305.9L316.6 305.8M236.6 294.9L233.7 293.9L230.8 293.4L227.8 293.1L224.8 292.9M198.1 288.6L195.2 288.0L192.2 287.4L189.3 286.7M484.9 195.8L482.0 196.6" stroke="#0aeb0a" stroke-width="3.5" stroke-linecap="round" fill="none"/><path d="M334.8 307.4L331.8 307.4L328.8 307.4M225.1 292.5L222.2 291.7L219.3 291.0" stroke="#e00000" stroke-width="3.5" stroke-linecap="round" fill="none"/><path d="M334.7 307.1L331.7 307.1M248.7 295.7L245.8 295.0L242.9 294.2" stroke="#10f4f4" stroke-width="3.5" stroke-linecap="round" fill="none"/><path d="M321.6 305.0L318.6 305.0M244.4 294.6L241.6 293.8" stroke="#0000e6" stroke-width="3.5" stroke-linecap="round" fill="none"/><path d="M229.3 295.4L226.4 294.4M455.2 192.7L452.4 193.8" stroke="#eb0aeb" stroke-width="3.5" stroke-linecap="round" fill="none"/><path d="M316.6 305.8L313.6 305.7L310.6 305.6L307.6 305.4M224.8 292.9L221.8 292.5L218.8 292.1L215.9 291.6L212.9 291.2L209.9 290.7L207.0 290.2L204.0 289.7L201.1 289.2L198.1 288.6" stroke="#0aeb0a" stroke-width="3.5" stroke-linecap="round" fill="none"/><path d="M328.8 307.4L325.8 307.4M230.9 294.1L228.0 293.3L225.1 292.5M467.7 193.6L464.9 194.5" stroke="#e00000" stroke-width="3.5" stroke-linecap="round" fill="none"/><path d="M331.7 307.1L328.7 307.1L325.7 307.1M254.6 297.2L251.7 296.5L248.7 295.7" stroke="#10f4f4" stroke-width="3.5" stroke-linecap="round" fill="none"/><path d="M318.6 305.0L315.6 304.9L312.6 304.7M250.3 296.1L247.3 295.4L244.4 294.6" stroke="#0000e6" stroke-width="3.5" stroke-linecap="round" fill="none"/><path d="M317.3 303.9L314.0 303.7M311.1 303.6L307.8 303.4M249.8 294.8L246.6 294.0M442.4 187.9L439.3 188.9" stroke="#000" stroke-width="3.3" fill="none"/><path d="M321.6 307.9L318.7 308.5M232.1 296.4L229.3 295.4" stroke="#eb0aeb" stroke-width="3.5" stroke-linecap="round" fill="none"/><path d="M307.6 305.4L304.6 305.2L301.6 305.0M239.3 296.0L236.6 294.9M482.0 196.6L479.1 197.5" stroke="#0aeb0a" stroke-width="3.5" stroke-linecap="round" fill="none"/><path d="M325.8 307.4L322.8 307.3L319.8 307.3M236.7 295.6L233.8 294.8L230.9 294.1" stroke="#e00000" stroke-width="3.5" stroke-linecap="round" fill="none"/><path d="M325.7 307.1L322.7 307.0M260.4 298.5L257.5 297.9L254.6 297.2M452.5 191.1L449.6 192.0" stroke="#10f4f4" stroke-width="3.5" stroke-linecap="round" fill="none"/><path d="M312.6 304.7L309.6 304.6L306.6 304.4L303.6 304.2M256.1 297.5L253.2 296.8L250.3 296.1M446.6 189.9L443.7 190.8" stroke="#0000e6" stroke-width="3.5" stroke-linecap="round" fill="none"/><path d="M304.9 303.2L301.6 303.0M261.9 297.6L258.6 296.9M255.8 296.3L252.6 295.5" stroke="#000" stroke-width="3.3" fill="none"/><path d="M234.9 297.5L232.1 296.4" stroke="#eb0aeb" stroke-width="3.5" stroke-linecap="round" fill="none"/><path d="M301.6 305.0L298.6 304.8L295.6 304.5L292.7 304.3L289.7 304.0L286.7 303.6M271.8 301.6L268.9 301.1L265.9 300.6L263.0 300.0L260.0 299.5L257.0 299.0L254.1 298.6L251.1 298.3L248.1 298.0L245.1 297.6L242.2 296.9L239.3 296.0" stroke="#0aeb0a" stroke-width="3.5" stroke-linecap="round" fill="none"/><path d="M319.8 307.3L316.8 307.2L313.8 307.1M242.5 297.0L239.6 296.3L236.7 295.6" stroke="#e00000" stroke-width="3.5" stroke-linecap="round" fill="none"/><path d="M322.7 307.0L319.7 306.9L316.7 306.8M266.3 299.9L263.4 299.2L260.4 298.5" stroke="#10f4f4" stroke-width="3.5" stroke-linecap="round" fill="none"/><path d="M303.6 304.2L300.6 304.0L297.6 303.7L294.6 303.5L291.6 303.2M267.9 299.8L264.9 299.3L262.0 298.7L259.0 298.1L256.1 297.5" stroke="#0000e6" stroke-width="3.5" stroke-linecap="round" fill="none"/><path d="M298.7 302.7L295.4 302.4M292.5 302.2L289.2 301.8M286.4 301.5L283.1 301.1M274.1 299.8L270.8 299.2M268.0 298.7L264.7 298.1" stroke="#000" stroke-width="3.3" fill="none"/><path d="M237.7 298.6L234.9 297.5M452.4 193.8L449.6 194.8" stroke="#eb0aeb" stroke-width="3.5" stroke-linecap="round" fill="none"/><path d="M286.7 303.6L283.7 303.3L280.7 302.9L277.8 302.5L274.8 302.1L271.8 301.6" stroke="#0aeb0a" stroke-width="3.5" stroke-linecap="round" fill="none"/><path d="M313.8 307.1L310.8 306.9L307.8 306.8M251.3 299.0L248.4 298.4L245.5 297.7L242.5 297.0M464.9 194.5L462.0 195.4" stroke="#e00000" stroke-width="3.5" stroke-linecap="round" fill="none"/><path d="M316.7 306.8L313.7 306.7L310.7 306.5M272.1 301.4L269.2 300.6L266.3 299.9M449.6 192.0L446.8 192.9" stroke="#10f4f4" stroke-width="3.5" stroke-linecap="round" fill="none"/><path d="M291.6 303.2L288.6 302.8L285.7 302.5L282.7 302.1L279.7 301.7L276.7 301.3L273.8 300.8L270.8 300.4L267.9 299.8M443.7 190.8L440.8 191.6" stroke="#0000e6" stroke-width="3.5" stroke-linecap="round" fill="none"/><path d="M280.2 300.7L276.9 300.2" stroke="#000" stroke-width="3.3" fill="none"/><path d="M318.7 308.5L315.7 309.2" stroke="#eb0aeb" stroke-width="3.5" stroke-linecap="round" fill="none"/><path d="M479.1 197.5L476.3 198.4" stroke="#0aeb0a" stroke-width="3.5" stroke-linecap="round" fill="none"/><path d="M307.8 306.8L304.8 306.6L301.8 306.4L298.8 306.1M260.2 300.8L257.2 300.2L254.3 299.6L251.3 299.0" stroke="#e00000" stroke-width="3.5" stroke-linecap="round" fill="none"/><path d="M310.7 306.5L307.7 306.4L304.7 306.2L301.7 306.0M277.9 302.9L275.0 302.1L272.1 301.4" stroke="#10f4f4" stroke-width="3.5" stroke-linecap="round" fill="none"/><path d="M240.5 299.7L237.7 298.6M449.6 194.8L446.8 195.8" stroke="#eb0aeb" stroke-width="3.5" stroke-linecap="round" fill="none"/><path d="M298.8 306.1L295.8 305.9L292.8 305.6L289.8 305.3L286.8 305.0L283.9 304.6L280.9 304.2L277.9 303.8L274.9 303.4L272.0 302.9L269.0 302.5L266.0 301.9L263.1 301.4L260.2 300.8M462.0 195.4L459.1 196.3" stroke="#e00000" stroke-width="3.5" stroke-linecap="round" fill="none"/><path d="M301.7 306.0L298.7 305.7L295.7 305.5L292.7 305.2L289.7 304.9L286.8 304.5L283.8 304.1L280.8 303.5L277.9 302.9M446.8 192.9L443.9 193.7" stroke="#10f4f4" stroke-width="3.5" stroke-linecap="round" fill="none"/><path d="M436.5 189.7L433.3 190.7" stroke="#000" stroke-width="3.3" fill="none"/><path d="M315.7 309.2L312.8 309.9M267.0 304.2L264.2 303.4L261.2 302.9L258.2 302.6L255.2 302.2L252.2 301.9L249.3 301.5L246.3 301.1L243.4 300.5L240.5 299.7" stroke="#eb0aeb" stroke-width="3.5" stroke-linecap="round" fill="none"/><path d="M440.8 191.6L437.9 192.4" stroke="#0000e6" stroke-width="3.5" stroke-linecap="round" fill="none"/><path d="M476.3 198.4L473.4 199.4" stroke="#0aeb0a" stroke-width="3.5" stroke-linecap="round" fill="none"/><path d="M312.8 309.9L309.9 310.6M269.7 305.5L267.0 304.2M446.8 195.8L443.9 196.8" stroke="#eb0aeb" stroke-width="3.5" stroke-linecap="round" fill="none"/><path d="M459.1 196.3L456.3 197.2" stroke="#e00000" stroke-width="3.5" stroke-linecap="round" fill="none"/><path d="M443.9 193.7L441.0 194.4" stroke="#10f4f4" stroke-width="3.5" stroke-linecap="round" fill="none"/><path d="M437.9 192.4L435.0 193.2" stroke="#0000e6" stroke-width="3.5" stroke-linecap="round" fill="none"/><path d="M473.4 199.4L470.6 200.3" stroke="#0aeb0a" stroke-width="3.5" stroke-linecap="round" fill="none"/><path d="M309.9 310.6L307.0 311.3M272.4 306.9L269.7 305.5" stroke="#eb0aeb" stroke-width="3.5" stroke-linecap="round" fill="none"/><path d="M456.3 197.2L453.4 198.0" stroke="#e00000" stroke-width="3.5" stroke-linecap="round" fill="none"/><path d="M441.0 194.4L438.0 195.1" stroke="#10f4f4" stroke-width="3.5" stroke-linecap="round" fill="none"/><path d="M435.0 193.2L432.1 194.0" stroke="#0000e6" stroke-width="3.5" stroke-linecap="round" fill="none"/><path d="M430.6 191.4L427.4 192.3" stroke="#000" stroke-width="3.3" fill="none"/><path d="M443.9 196.8L441.1 197.7M307.0 311.3L304.0 311.8M275.0 308.3L272.4 306.9" stroke="#eb0aeb" stroke-width="3.5" stroke-linecap="round" fill="none"/><path d="M470.6 200.3L467.7 201.3" stroke="#0aeb0a" stroke-width="3.5" stroke-linecap="round" fill="none"/><path d="M438.0 195.1L435.1 195.8" stroke="#10f4f4" stroke-width="3.5" stroke-linecap="round" fill="none"/><path d="M432.1 194.0L429.2 194.7" stroke="#0000e6" stroke-width="3.5" stroke-linecap="round" fill="none"/><path d="M441.1 197.7L438.2 198.3" stroke="#eb0aeb" stroke-width="3.5" stroke-linecap="round" fill="none"/><path d="M453.4 198.0L450.5 198.9" stroke="#e00000" stroke-width="3.5" stroke-linecap="round" fill="none"/><path d="M304.0 311.8L301.1 312.3M277.7 309.7L275.0 308.3M438.2 198.3L435.2 198.4" stroke="#eb0aeb" stroke-width="3.5" stroke-linecap="round" fill="none"/><path d="M435.1 195.8L432.2 196.5" stroke="#10f4f4" stroke-width="3.5" stroke-linecap="round" fill="none"/><path d="M429.2 194.7L426.3 195.4" stroke="#0000e6" stroke-width="3.5" stroke-linecap="round" fill="none"/><path d="M424.6 193.0L421.4 193.8" stroke="#000" stroke-width="3.3" fill="none"/><path d="M301.1 312.3L298.1 312.7M435.2 198.4L432.2 198.3" stroke="#eb0aeb" stroke-width="3.5" stroke-linecap="round" fill="none"/><path d="M467.7 201.3L464.9 202.2" stroke="#0aeb0a" stroke-width="3.5" stroke-linecap="round" fill="none"/><path d="M450.5 198.9L447.6 199.7" stroke="#e00000" stroke-width="3.5" stroke-linecap="round" fill="none"/><path d="M432.2 198.3L429.2 198.4" stroke="#eb0aeb" stroke-width="3.5" stroke-linecap="round" fill="none"/><path d="M432.2 196.5L429.3 197.1" stroke="#10f4f4" stroke-width="3.5" stroke-linecap="round" fill="none"/><path d="M298.1 312.7L295.1 312.9M280.4 311.1L277.7 309.7M429.2 198.4L426.3 199.1" stroke="#eb0aeb" stroke-width="3.5" stroke-linecap="round" fill="none"/><path d="M464.9 202.2L462.0 203.1" stroke="#0aeb0a" stroke-width="3.5" stroke-linecap="round" fill="none"/><path d="M447.6 199.7L444.7 200.5" stroke="#e00000" stroke-width="3.5" stroke-linecap="round" fill="none"/><path d="M426.3 195.4L423.4 196.1" stroke="#0000e6" stroke-width="3.5" stroke-linecap="round" fill="none"/><path d="M295.1 312.9L292.1 313.0" stroke="#eb0aeb" stroke-width="3.5" stroke-linecap="round" fill="none"/><path d="M429.3 197.1L426.3 197.7" stroke="#10f4f4" stroke-width="3.5" stroke-linecap="round" fill="none"/><path d="M292.1 313.0L289.1 312.9L286.1 312.6L283.1 312.2L280.4 311.1" stroke="#eb0aeb" stroke-width="3.5" stroke-linecap="round" fill="none"/><path d="M423.4 196.1L420.5 196.7" stroke="#0000e6" stroke-width="3.5" stroke-linecap="round" fill="none"/><path d="M418.5 194.5L415.3 195.2" stroke="#000" stroke-width="3.3" fill="none"/><path d="M426.3 199.1L423.5 200.3" stroke="#eb0aeb" stroke-width="3.5" stroke-linecap="round" fill="none"/><path d="M462.0 203.1L459.1 203.9" stroke="#0aeb0a" stroke-width="3.5" stroke-linecap="round" fill="none"/><path d="M444.7 200.5L441.8 201.2" stroke="#e00000" stroke-width="3.5" stroke-linecap="round" fill="none"/><path d="M426.3 197.7L423.4 198.2" stroke="#10f4f4" stroke-width="3.5" stroke-linecap="round" fill="none"/><path d="M420.5 196.7L417.5 197.3" stroke="#0000e6" stroke-width="3.5" stroke-linecap="round" fill="none"/><path d="M459.1 203.9L456.2 204.7" stroke="#0aeb0a" stroke-width="3.5" stroke-linecap="round" fill="none"/><path d="M441.8 201.2L438.9 202.0" stroke="#e00000" stroke-width="3.5" stroke-linecap="round" fill="none"/><path d="M423.4 198.2L420.4 198.7" stroke="#10f4f4" stroke-width="3.5" stroke-linecap="round" fill="none"/><path d="M417.5 197.3L414.6 197.9" stroke="#0000e6" stroke-width="3.5" stroke-linecap="round" fill="none"/><path d="M423.5 200.3L420.8 201.7" stroke="#eb0aeb" stroke-width="3.5" stroke-linecap="round" fill="none"/><path d="M420.4 198.7L417.4 199.2" stroke="#10f4f4" stroke-width="3.5" stroke-linecap="round" fill="none"/><path d="M412.5 195.8L409.2 196.5" stroke="#000" stroke-width="3.3" fill="none"/><path d="M456.2 204.7L453.3 205.4" stroke="#0aeb0a" stroke-width="3.5" stroke-linecap="round" fill="none"/><path d="M438.9 202.0L436.0 202.7" stroke="#e00000" stroke-width="3.5" stroke-linecap="round" fill="none"/><path d="M414.6 197.9L411.6 198.4" stroke="#0000e6" stroke-width="3.5" stroke-linecap="round" fill="none"/><path d="M417.4 199.2L414.5 199.6" stroke="#10f4f4" stroke-width="3.5" stroke-linecap="round" fill="none"/><path d="M420.8 201.7L418.2 203.2" stroke="#eb0aeb" stroke-width="3.5" stroke-linecap="round" fill="none"/><path d="M453.3 205.4L450.4 206.1" stroke="#0aeb0a" stroke-width="3.5" stroke-linecap="round" fill="none"/><path d="M436.0 202.7L433.1 203.4" stroke="#e00000" stroke-width="3.5" stroke-linecap="round" fill="none"/><path d="M414.5 199.6L411.5 199.9" stroke="#10f4f4" stroke-width="3.5" stroke-linecap="round" fill="none"/><path d="M411.6 198.4L408.7 198.9" stroke="#0000e6" stroke-width="3.5" stroke-linecap="round" fill="none"/><path d="M406.4 197.0L403.2 197.6" stroke="#000" stroke-width="3.3" fill="none"/><path d="M408.7 198.9L405.7 199.4" stroke="#0000e6" stroke-width="3.5" stroke-linecap="round" fill="none"/><path d="M450.4 206.1L447.4 206.6" stroke="#0aeb0a" stroke-width="3.5" stroke-linecap="round" fill="none"/><path d="M433.1 203.4L430.1 204.0" stroke="#e00000" stroke-width="3.5" stroke-linecap="round" fill="none"/><path d="M411.5 199.9L408.5 200.2L405.5 200.4" stroke="#10f4f4" stroke-width="3.5" stroke-linecap="round" fill="none"/><path d="M405.7 199.4L402.7 199.8" stroke="#0000e6" stroke-width="3.5" stroke-linecap="round" fill="none"/><path d="M418.2 203.2L415.7 204.7" stroke="#eb0aeb" stroke-width="3.5" stroke-linecap="round" fill="none"/><path d="M447.4 206.6L444.5 207.1" stroke="#0aeb0a" stroke-width="3.5" stroke-linecap="round" fill="none"/><path d="M430.1 204.0L427.2 204.7" stroke="#e00000" stroke-width="3.5" stroke-linecap="round" fill="none"/><path d="M405.5 200.4L402.5 200.7" stroke="#10f4f4" stroke-width="3.5" stroke-linecap="round" fill="none"/><path d="M400.3 198.2L397.0 198.7" stroke="#000" stroke-width="3.3" fill="none"/><path d="M444.5 207.1L441.5 207.4" stroke="#0aeb0a" stroke-width="3.5" stroke-linecap="round" fill="none"/><path d="M402.5 200.7L399.5 200.9" stroke="#10f4f4" stroke-width="3.5" stroke-linecap="round" fill="none"/><path d="M402.7 199.8L399.8 200.2" stroke="#0000e6" stroke-width="3.5" stroke-linecap="round" fill="none"/><path d="M427.2 204.7L424.2 205.2" stroke="#e00000" stroke-width="3.5" stroke-linecap="round" fill="none"/><path d="M399.5 200.9L396.5 201.1" stroke="#10f4f4" stroke-width="3.5" stroke-linecap="round" fill="none"/><path d="M399.8 200.2L396.8 200.6" stroke="#0000e6" stroke-width="3.5" stroke-linecap="round" fill="none"/><path d="M415.7 204.7L413.0 206.2" stroke="#eb0aeb" stroke-width="3.5" stroke-linecap="round" fill="none"/><path d="M441.5 207.4L438.5 207.7" stroke="#0aeb0a" stroke-width="3.5" stroke-linecap="round" fill="none"/><path d="M394.2 199.2L390.9 199.7" stroke="#000" stroke-width="3.3" fill="none"/><path d="M438.5 207.7L435.5 207.9" stroke="#0aeb0a" stroke-width="3.5" stroke-linecap="round" fill="none"/><path d="M424.2 205.2L421.3 205.8" stroke="#e00000" stroke-width="3.5" stroke-linecap="round" fill="none"/><path d="M396.5 201.1L393.5 201.3" stroke="#10f4f4" stroke-width="3.5" stroke-linecap="round" fill="none"/><path d="M396.8 200.6L393.8 201.0" stroke="#0000e6" stroke-width="3.5" stroke-linecap="round" fill="none"/><path d="M435.5 207.9L432.5 208.1" stroke="#0aeb0a" stroke-width="3.5" stroke-linecap="round" fill="none"/><path d="M393.5 201.3L390.5 201.5" stroke="#10f4f4" stroke-width="3.5" stroke-linecap="round" fill="none"/><path d="M393.8 201.0L390.8 201.3" stroke="#0000e6" stroke-width="3.5" stroke-linecap="round" fill="none"/><path d="M432.5 208.1L429.5 208.3" stroke="#0aeb0a" stroke-width="3.5" stroke-linecap="round" fill="none"/><path d="M421.3 205.8L418.3 206.3" stroke="#e00000" stroke-width="3.5" stroke-linecap="round" fill="none"/><path d="M390.5 201.5L387.5 201.7" stroke="#10f4f4" stroke-width="3.5" stroke-linecap="round" fill="none"/><path d="M390.8 201.3L387.8 201.6" stroke="#0000e6" stroke-width="3.5" stroke-linecap="round" fill="none"/><path d="M388.1 200.1L384.8 200.5" stroke="#000" stroke-width="3.3" fill="none"/><path d="M413.0 206.2L410.6 207.9" stroke="#eb0aeb" stroke-width="3.5" stroke-linecap="round" fill="none"/><path d="M418.3 206.3L415.3 206.6" stroke="#e00000" stroke-width="3.5" stroke-linecap="round" fill="none"/><path d="M387.5 201.7L384.5 202.0" stroke="#10f4f4" stroke-width="3.5" stroke-linecap="round" fill="none"/><path d="M429.5 208.3L426.5 208.5" stroke="#0aeb0a" stroke-width="3.5" stroke-linecap="round" fill="none"/><path d="M384.5 202.0L381.5 202.3" stroke="#10f4f4" stroke-width="3.5" stroke-linecap="round" fill="none"/><path d="M387.8 201.6L384.9 201.9" stroke="#0000e6" stroke-width="3.5" stroke-linecap="round" fill="none"/><path d="M426.5 208.5L423.5 208.7" stroke="#0aeb0a" stroke-width="3.5" stroke-linecap="round" fill="none"/><path d="M415.3 206.6L412.4 206.9" stroke="#e00000" stroke-width="3.5" stroke-linecap="round" fill="none"/><path d="M384.9 201.9L381.9 202.2" stroke="#0000e6" stroke-width="3.5" stroke-linecap="round" fill="none"/><path d="M381.9 200.9L378.6 201.3" stroke="#000" stroke-width="3.3" fill="none"/><path d="M423.5 208.7L420.5 209.0" stroke="#0aeb0a" stroke-width="3.5" stroke-linecap="round" fill="none"/><path d="M412.4 206.9L409.4 207.1" stroke="#e00000" stroke-width="3.5" stroke-linecap="round" fill="none"/><path d="M381.5 202.3L378.5 202.6" stroke="#10f4f4" stroke-width="3.5" stroke-linecap="round" fill="none"/><path d="M381.9 202.2L378.9 202.4" stroke="#0000e6" stroke-width="3.5" stroke-linecap="round" fill="none"/><path d="M410.6 207.9L408.3 209.8" stroke="#eb0aeb" stroke-width="3.5" stroke-linecap="round" fill="none"/><path d="M420.5 209.0L417.5 209.2" stroke="#0aeb0a" stroke-width="3.5" stroke-linecap="round" fill="none"/><path d="M409.4 207.1L406.4 207.3" stroke="#e00000" stroke-width="3.5" stroke-linecap="round" fill="none"/><path d="M378.5 202.6L375.6 202.9" stroke="#10f4f4" stroke-width="3.5" stroke-linecap="round" fill="none"/><path d="M378.9 202.4L375.9 202.7" stroke="#0000e6" stroke-width="3.5" stroke-linecap="round" fill="none"/><path d="M417.5 209.2L414.6 209.5" stroke="#0aeb0a" stroke-width="3.5" stroke-linecap="round" fill="none"/><path d="M406.4 207.3L403.4 207.4" stroke="#e00000" stroke-width="3.5" stroke-linecap="round" fill="none"/><path d="M375.6 202.9L372.6 203.2" stroke="#10f4f4" stroke-width="3.5" stroke-linecap="round" fill="none"/><path d="M375.9 202.7L372.9 202.9" stroke="#0000e6" stroke-width="3.5" stroke-linecap="round" fill="none"/><path d="M375.7 201.6L372.5 201.9" stroke="#000" stroke-width="3.3" fill="none"/><path d="M403.4 207.4L400.4 207.4L397.4 207.4" stroke="#e00000" stroke-width="3.5" stroke-linecap="round" fill="none"/><path d="M372.6 203.2L369.6 203.5" stroke="#10f4f4" stroke-width="3.5" stroke-linecap="round" fill="none"/><path d="M414.6 209.5L411.6 209.8" stroke="#0aeb0a" stroke-width="3.5" stroke-linecap="round" fill="none"/><path d="M397.4 207.4L394.4 207.4" stroke="#e00000" stroke-width="3.5" stroke-linecap="round" fill="none"/><path d="M372.9 202.9L369.9 203.1" stroke="#0000e6" stroke-width="3.5" stroke-linecap="round" fill="none"/><path d="M408.3 209.8L405.8 211.5" stroke="#eb0aeb" stroke-width="3.5" stroke-linecap="round" fill="none"/><path d="M411.6 209.8L408.6 210.0" stroke="#0aeb0a" stroke-width="3.5" stroke-linecap="round" fill="none"/><path d="M394.4 207.4L391.4 207.4L388.4 207.3" stroke="#e00000" stroke-width="3.5" stroke-linecap="round" fill="none"/><path d="M369.6 203.5L366.6 203.7" stroke="#10f4f4" stroke-width="3.5" stroke-linecap="round" fill="none"/><path d="M369.9 203.1L366.9 203.3" stroke="#0000e6" stroke-width="3.5" stroke-linecap="round" fill="none"/><path d="M369.6 202.2L366.3 202.5" stroke="#000" stroke-width="3.3" fill="none"/><path d="M408.6 210.0L405.6 210.3" stroke="#0aeb0a" stroke-width="3.5" stroke-linecap="round" fill="none"/><path d="M388.4 207.3L385.3 207.3" stroke="#e00000" stroke-width="3.5" stroke-linecap="round" fill="none"/><path d="M366.6 203.7L363.6 203.9" stroke="#10f4f4" stroke-width="3.5" stroke-linecap="round" fill="none"/><path d="M366.9 203.3L363.9 203.4" stroke="#0000e6" stroke-width="3.5" stroke-linecap="round" fill="none"/><path d="M405.6 210.3L402.6 210.5" stroke="#0aeb0a" stroke-width="3.5" stroke-linecap="round" fill="none"/><path d="M385.3 207.3L382.3 207.3" stroke="#e00000" stroke-width="3.5" stroke-linecap="round" fill="none"/><path d="M363.6 203.9L360.6 204.2" stroke="#10f4f4" stroke-width="3.5" stroke-linecap="round" fill="none"/><path d="M363.9 203.4L360.9 203.6" stroke="#0000e6" stroke-width="3.5" stroke-linecap="round" fill="none"/><path d="M363.4 202.7L360.1 203.0" stroke="#000" stroke-width="3.3" fill="none"/><path d="M405.8 211.5L403.1 212.9" stroke="#eb0aeb" stroke-width="3.5" stroke-linecap="round" fill="none"/><path d="M402.6 210.5L399.6 210.7" stroke="#0aeb0a" stroke-width="3.5" stroke-linecap="round" fill="none"/><path d="M382.3 207.3L379.3 207.3L376.3 207.3" stroke="#e00000" stroke-width="3.5" stroke-linecap="round" fill="none"/><path d="M360.6 204.2L357.6 204.3" stroke="#10f4f4" stroke-width="3.5" stroke-linecap="round" fill="none"/><path d="M360.9 203.6L357.9 203.7" stroke="#0000e6" stroke-width="3.5" stroke-linecap="round" fill="none"/><path d="M399.6 210.7L396.6 210.9" stroke="#0aeb0a" stroke-width="3.5" stroke-linecap="round" fill="none"/><path d="M376.3 207.3L373.3 207.4" stroke="#e00000" stroke-width="3.5" stroke-linecap="round" fill="none"/><path d="M357.6 204.3L354.6 204.5" stroke="#10f4f4" stroke-width="3.5" stroke-linecap="round" fill="none"/><path d="M357.9 203.7L354.9 203.9" stroke="#0000e6" stroke-width="3.5" stroke-linecap="round" fill="none"/><path d="M357.2 203.2L353.9 203.4" stroke="#000" stroke-width="3.3" fill="none"/><path d="M373.3 207.4L370.3 207.6" stroke="#e00000" stroke-width="3.5" stroke-linecap="round" fill="none"/><path d="M354.6 204.5L351.6 204.6" stroke="#10f4f4" stroke-width="3.5" stroke-linecap="round" fill="none"/><path d="M354.9 203.9L351.9 204.0L348.9 204.1" stroke="#0000e6" stroke-width="3.5" stroke-linecap="round" fill="none"/><path d="M403.1 212.9L400.2 213.4" stroke="#eb0aeb" stroke-width="3.5" stroke-linecap="round" fill="none"/><path d="M396.6 210.9L393.6 211.1" stroke="#0aeb0a" stroke-width="3.5" stroke-linecap="round" fill="none"/><path d="M370.3 207.6L367.3 207.8" stroke="#e00000" stroke-width="3.5" stroke-linecap="round" fill="none"/><path d="M351.6 204.6L348.6 204.8" stroke="#10f4f4" stroke-width="3.5" stroke-linecap="round" fill="none"/><path d="M348.9 204.1L345.9 204.2" stroke="#0000e6" stroke-width="3.5" stroke-linecap="round" fill="none"/><path d="M351.0 203.5L347.7 203.7" stroke="#000" stroke-width="3.3" fill="none"/><path d="M393.6 211.1L390.6 211.2" stroke="#0aeb0a" stroke-width="3.5" stroke-linecap="round" fill="none"/><path d="M367.3 207.8L364.3 208.0" stroke="#e00000" stroke-width="3.5" stroke-linecap="round" fill="none"/><path d="M348.6 204.8L345.6 204.9" stroke="#10f4f4" stroke-width="3.5" stroke-linecap="round" fill="none"/><path d="M345.9 204.2L342.9 204.2" stroke="#0000e6" stroke-width="3.5" stroke-linecap="round" fill="none"/><path d="M400.2 213.4L397.2 213.8" stroke="#eb0aeb" stroke-width="3.5" stroke-linecap="round" fill="none"/><path d="M390.6 211.2L387.6 211.4L384.6 211.4" stroke="#0aeb0a" stroke-width="3.5" stroke-linecap="round" fill="none"/><path d="M364.3 208.0L361.4 208.1" stroke="#e00000" stroke-width="3.5" stroke-linecap="round" fill="none"/><path d="M345.6 204.9L342.6 204.9" stroke="#10f4f4" stroke-width="3.5" stroke-linecap="round" fill="none"/><path d="M342.9 204.2L339.9 204.3" stroke="#0000e6" stroke-width="3.5" stroke-linecap="round" fill="none"/><path d="M344.8 203.8L341.5 203.9" stroke="#000" stroke-width="3.3" fill="none"/><path d="M397.2 213.8L394.2 214.0" stroke="#eb0aeb" stroke-width="3.5" stroke-linecap="round" fill="none"/><path d="M384.6 211.4L381.6 211.5" stroke="#0aeb0a" stroke-width="3.5" stroke-linecap="round" fill="none"/><path d="M361.4 208.1L358.4 208.3" stroke="#e00000" stroke-width="3.5" stroke-linecap="round" fill="none"/><path d="M342.6 204.9L339.6 205.0L336.6 205.0" stroke="#10f4f4" stroke-width="3.5" stroke-linecap="round" fill="none"/><path d="M339.9 204.3L336.9 204.3" stroke="#0000e6" stroke-width="3.5" stroke-linecap="round" fill="none"/><path d="M394.2 214.0L391.2 214.2M317.7 204.8L314.8 204.2L311.8 203.6L308.8 203.1L305.9 202.7L302.9 202.3L299.9 202.0L296.9 201.7L293.9 201.5L290.9 201.2" stroke="#eb0aeb" stroke-width="3.5" stroke-linecap="round" fill="none"/><path d="M381.6 211.5L378.6 211.5" stroke="#0aeb0a" stroke-width="3.5" stroke-linecap="round" fill="none"/><path d="M358.4 208.3L355.4 208.4" stroke="#e00000" stroke-width="3.5" stroke-linecap="round" fill="none"/><path d="M336.6 205.0L333.6 205.0" stroke="#10f4f4" stroke-width="3.5" stroke-linecap="round" fill="none"/><path d="M336.9 204.3L333.9 204.4L330.9 204.4" stroke="#0000e6" stroke-width="3.5" stroke-linecap="round" fill="none"/><path d="M338.6 203.9L335.3 204.0" stroke="#000" stroke-width="3.3" fill="none"/><path d="M391.2 214.2L388.2 214.4M323.6 206.0L320.6 205.4L317.7 204.8M290.9 201.2L288.0 201.0L285.0 200.8L282.0 200.5L279.0 200.3L276.0 200.1" stroke="#eb0aeb" stroke-width="3.5" stroke-linecap="round" fill="none"/><path d="M378.6 211.5L375.6 211.5L372.6 211.3" stroke="#0aeb0a" stroke-width="3.5" stroke-linecap="round" fill="none"/><path d="M355.4 208.4L352.4 208.6" stroke="#e00000" stroke-width="3.5" stroke-linecap="round" fill="none"/><path d="M333.6 205.0L330.6 205.0L327.6 205.0" stroke="#10f4f4" stroke-width="3.5" stroke-linecap="round" fill="none"/><path d="M330.9 204.4L327.9 204.4" stroke="#0000e6" stroke-width="3.5" stroke-linecap="round" fill="none"/><path d="M388.2 214.4L385.2 214.5M329.4 207.4L326.5 206.7L323.6 206.0M276.0 200.1L273.0 199.9L270.0 199.7L267.0 199.6L264.0 199.4" stroke="#eb0aeb" stroke-width="3.5" stroke-linecap="round" fill="none"/><path d="M372.6 211.3L369.6 211.2L366.6 211.0L363.6 210.8" stroke="#0aeb0a" stroke-width="3.5" stroke-linecap="round" fill="none"/><path d="M352.4 208.6L349.4 208.7" stroke="#e00000" stroke-width="3.5" stroke-linecap="round" fill="none"/><path d="M327.6 205.0L324.6 204.9" stroke="#10f4f4" stroke-width="3.5" stroke-linecap="round" fill="none"/><path d="M327.9 204.4L324.9 204.4" stroke="#0000e6" stroke-width="3.5" stroke-linecap="round" fill="none"/><path d="M332.4 204.0L329.1 204.0" stroke="#000" stroke-width="3.3" fill="none"/><path d="M385.2 214.5L382.2 214.6M332.3 208.2L329.4 207.4M264.0 199.4L261.0 199.3L258.0 199.2" stroke="#eb0aeb" stroke-width="3.5" stroke-linecap="round" fill="none"/><path d="M363.6 210.8L360.6 210.6L357.6 210.4" stroke="#0aeb0a" stroke-width="3.5" stroke-linecap="round" fill="none"/><path d="M349.4 208.7L346.4 208.8" stroke="#e00000" stroke-width="3.5" stroke-linecap="round" fill="none"/><path d="M324.6 204.9L321.6 204.8L318.6 204.7" stroke="#10f4f4" stroke-width="3.5" stroke-linecap="round" fill="none"/><path d="M324.9 204.4L321.9 204.4L318.9 204.3" stroke="#0000e6" stroke-width="3.5" stroke-linecap="round" fill="none"/><path d="M326.2 203.9L322.9 203.9" stroke="#000" stroke-width="3.3" fill="none"/><path d="M382.2 214.6L379.2 214.7M335.1 209.3L332.3 208.2" stroke="#eb0aeb" stroke-width="3.5" stroke-linecap="round" fill="none"/><path d="M357.6 210.4L354.6 210.3L351.6 210.2" stroke="#0aeb0a" stroke-width="3.5" stroke-linecap="round" fill="none"/><path d="M346.4 208.8L343.3 208.8" stroke="#e00000" stroke-width="3.5" stroke-linecap="round" fill="none"/><path d="M318.6 204.7L315.6 204.6L312.6 204.4" stroke="#10f4f4" stroke-width="3.5" stroke-linecap="round" fill="none"/><path d="M318.9 204.3L315.9 204.3L312.9 204.2" stroke="#0000e6" stroke-width="3.5" stroke-linecap="round" fill="none"/><path d="M320.0 203.8L316.7 203.7" stroke="#000" stroke-width="3.3" fill="none"/><path d="M379.2 214.7L376.2 214.8L373.2 214.9M337.9 210.5L335.1 209.3" stroke="#eb0aeb" stroke-width="3.5" stroke-linecap="round" fill="none"/><path d="M351.6 210.2L348.6 210.0L345.7 209.9L342.7 209.7" stroke="#0aeb0a" stroke-width="3.5" stroke-linecap="round" fill="none"/><path d="M343.3 208.8L340.3 208.9L337.3 208.9" stroke="#e00000" stroke-width="3.5" stroke-linecap="round" fill="none"/><path d="M312.6 204.4L309.6 204.3L306.6 204.1L303.6 203.8M285.7 201.4L282.8 200.9L279.8 200.4L276.8 200.1" stroke="#10f4f4" stroke-width="3.5" stroke-linecap="round" fill="none"/><path d="M312.9 204.2L309.9 204.1L306.9 204.0" stroke="#0000e6" stroke-width="3.5" stroke-linecap="round" fill="none"/><path d="M313.8 203.6L310.5 203.4" stroke="#000" stroke-width="3.3" fill="none"/><path d="M373.2 214.9L370.2 215.0" stroke="#eb0aeb" stroke-width="3.5" stroke-linecap="round" fill="none"/><path d="M342.7 209.7L339.7 209.5L336.7 209.4" stroke="#0aeb0a" stroke-width="3.5" stroke-linecap="round" fill="none"/><path d="M337.3 208.9L334.3 208.9" stroke="#e00000" stroke-width="3.5" stroke-linecap="round" fill="none"/><path d="M303.6 203.8L300.6 203.6L297.6 203.2L294.6 202.8L291.7 202.4L288.7 201.9L285.7 201.4" stroke="#10f4f4" stroke-width="3.5" stroke-linecap="round" fill="none"/><path d="M306.9 204.0L303.9 203.8L300.9 203.7" stroke="#0000e6" stroke-width="3.5" stroke-linecap="round" fill="none"/><path d="M307.6 203.3L304.4 203.0" stroke="#000" stroke-width="3.3" fill="none"/><path d="M370.2 215.0L367.2 215.0M340.6 211.6L337.9 210.5" stroke="#eb0aeb" stroke-width="3.5" stroke-linecap="round" fill="none"/><path d="M336.7 209.4L333.7 209.2L330.7 209.0L327.7 208.8" stroke="#0aeb0a" stroke-width="3.5" stroke-linecap="round" fill="none"/><path d="M334.3 208.9L331.3 208.9" stroke="#e00000" stroke-width="3.5" stroke-linecap="round" fill="none"/><path d="M300.9 203.7L297.9 203.5L295.0 203.2L292.0 203.0" stroke="#0000e6" stroke-width="3.5" stroke-linecap="round" fill="none"/><path d="M301.5 202.8L298.2 202.6M295.3 202.3L292.0 202.0M270.7 199.1L267.5 198.5" stroke="#000" stroke-width="3.3" fill="none"/><path d="M367.2 215.0L364.2 215.0M343.5 212.5L340.6 211.6" stroke="#eb0aeb" stroke-width="3.5" stroke-linecap="round" fill="none"/><path d="M327.7 208.8L324.7 208.6L321.7 208.4L318.7 208.2" stroke="#0aeb0a" stroke-width="3.5" stroke-linecap="round" fill="none"/><path d="M331.3 208.9L328.3 208.9L325.3 208.8" stroke="#e00000" stroke-width="3.5" stroke-linecap="round" fill="none"/><path d="M292.0 203.0L289.0 202.7L286.0 202.4L283.0 202.0L280.0 201.6L277.1 201.2L274.1 200.7" stroke="#0000e6" stroke-width="3.5" stroke-linecap="round" fill="none"/><path d="M289.1 201.7L285.8 201.3M283.0 200.9L279.7 200.5M276.8 200.1L273.6 199.5" stroke="#000" stroke-width="3.3" fill="none"/><path d="M364.2 215.0L361.2 215.0L358.2 214.9M346.4 213.3L343.5 212.5" stroke="#eb0aeb" stroke-width="3.5" stroke-linecap="round" fill="none"/><path d="M318.7 208.2L315.7 208.0" stroke="#0aeb0a" stroke-width="3.5" stroke-linecap="round" fill="none"/><path d="M325.3 208.8L322.3 208.8L319.3 208.7" stroke="#e00000" stroke-width="3.5" stroke-linecap="round" fill="none"/><path d="M358.2 214.9L355.2 214.8L352.3 214.5L349.3 214.0L346.4 213.3" stroke="#eb0aeb" stroke-width="3.5" stroke-linecap="round" fill="none"/><path d="M319.3 208.7L316.3 208.5L313.3 208.4L310.3 208.2L307.3 208.0L304.3 207.8L301.4 207.6L298.4 207.3L295.4 207.0L292.4 206.7L289.4 206.4" stroke="#e00000" stroke-width="3.5" stroke-linecap="round" fill="none"/></g>
<g><line x1="94" y1="7.2" x2="158.5" y2="7.2" stroke="#000" stroke-width="3" stroke-dasharray="3 3.15"/><text x="163" y="15.20" font-size="19.3" fill="#000">Reference</text><line x1="94" y1="31.8" x2="158.5" y2="31.8" stroke="#0000e6" stroke-width="3.5"/><text x="163" y="39.30" font-size="19.3" fill="#000">Proposed Strategy</text><line x1="94" y1="56.5" x2="158.5" y2="56.5" stroke="#10f4f4" stroke-width="3.5"/><text x="163" y="64.00" font-size="19.3" fill="#000">ADFOC</text><line x1="94" y1="81.0" x2="158.5" y2="81.0" stroke="#e00000" stroke-width="3.5"/><text x="163" y="88.50" font-size="19.3" fill="#000">LADRC</text><line x1="94" y1="105.7" x2="158.5" y2="105.7" stroke="#0aeb0a" stroke-width="3.5"/><text x="163" y="113.20" font-size="19.3" fill="#000">MFTSMC</text><line x1="94" y1="130.3" x2="158.5" y2="130.3" stroke="#eb0aeb" stroke-width="3.5"/><text x="163" y="137.80" font-size="19.3" fill="#000">SMC</text></g>
</svg>
</body></html>
